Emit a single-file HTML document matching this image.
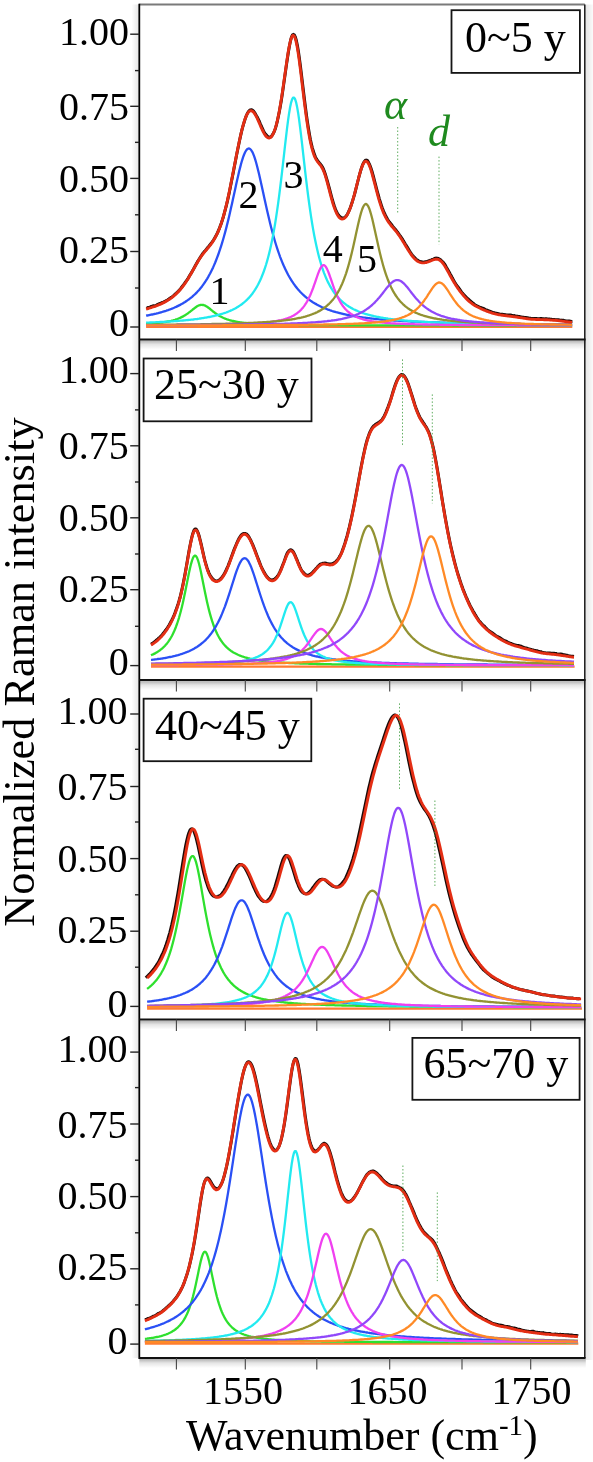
<!DOCTYPE html><html><head><meta charset="utf-8"><style>html,body{margin:0;padding:0;background:#fff;}svg{display:block}text{font-family:"Liberation Serif", "Times New Roman", serif;fill:#000}</style></head><body>
<svg width="593" height="1462" viewBox="0 0 593 1462">
<g>
<line x1="146.1" y1="326.7" x2="572.3" y2="326.7" stroke="#ff7b32" stroke-width="2.4"/>
<polyline points="146.1,323.9 147.1,323.8 148.1,323.7 149.1,323.7 150.1,323.6 151.1,323.5 152.1,323.5 153.1,323.4 154.1,323.3 155.1,323.2 156.1,323.1 157.1,323.0 158.1,322.9 159.1,322.8 160.1,322.7 161.1,322.6 162.1,322.5 163.1,322.3 164.1,322.2 165.1,322.0 166.1,321.9 167.1,321.7 168.1,321.5 169.1,321.3 170.1,321.1 171.1,320.9 172.1,320.6 173.1,320.4 174.1,320.1 175.1,319.8 176.1,319.4 177.1,319.1 178.1,318.7 179.1,318.3 180.1,317.9 181.1,317.4 182.1,316.9 183.1,316.4 184.1,315.8 185.1,315.2 186.1,314.6 187.1,313.9 188.1,313.2 189.1,312.4 190.1,311.7 191.1,310.9 192.1,310.1 193.1,309.2 194.1,308.5 195.1,307.7 196.1,307.0 197.1,306.3 198.1,305.8 199.1,305.3 200.1,305.0 201.1,304.8 202.1,304.8 203.1,305.0 204.1,305.2 205.1,305.6 206.1,306.2 207.1,306.8 208.1,307.5 209.1,308.2 210.1,309.0 211.1,309.8 212.1,310.7 213.1,311.5 214.1,312.2 215.1,313.0 216.1,313.7 217.1,314.4 218.1,315.1 219.1,315.7 220.1,316.3 221.1,316.8 222.1,317.3 223.1,317.8 224.1,318.2 225.1,318.6 226.1,319.0 227.1,319.4 228.1,319.7 229.1,320.0 230.1,320.3 231.1,320.5 232.1,320.8 233.1,321.0 234.1,321.2 235.1,321.4 236.1,321.6 237.1,321.8 238.1,322.0 239.1,322.1 240.1,322.3 241.1,322.4 242.1,322.6 243.1,322.7 244.1,322.8 245.1,322.9 246.1,323.0 247.1,323.1 248.1,323.2 249.1,323.3 250.1,323.4 251.1,323.4 252.1,323.5 253.1,323.6 254.1,323.7 255.1,323.7 256.1,323.8 257.1,323.8 258.1,323.9 259.1,323.9 260.1,324.0 261.1,324.0 262.1,324.1 263.1,324.1 264.1,324.2 265.1,324.2 266.1,324.3 267.1,324.3 268.1,324.3 269.1,324.4 270.1,324.4 271.1,324.4 272.1,324.5 273.1,324.5 274.1,324.5 275.1,324.5 276.1,324.6 277.1,324.6 278.1,324.6 279.1,324.6 280.1,324.7 281.1,324.7 282.1,324.7 283.1,324.7 284.1,324.7 285.1,324.8 286.1,324.8 287.1,324.8 288.1,324.8 289.1,324.8 290.1,324.8 291.1,324.9 292.1,324.9 293.1,324.9 294.1,324.9 295.1,324.9 296.1,324.9 297.1,324.9 298.1,324.9 299.1,325.0 300.1,325.0 301.1,325.0 302.1,325.0 303.1,325.0 304.1,325.0 305.1,325.0 306.1,325.0 307.1,325.0 308.1,325.1 309.1,325.1 310.1,325.1 311.1,325.1 312.1,325.1 313.1,325.1 314.1,325.1 315.1,325.1 316.1,325.1 317.1,325.1 318.1,325.1 319.1,325.1 320.1,325.1 321.1,325.1 322.1,325.2 323.1,325.2 324.1,325.2 325.1,325.2 326.1,325.2 327.1,325.2 328.1,325.2 329.1,325.2 330.1,325.2 331.1,325.2 332.1,325.2 333.1,325.2 334.1,325.2 335.1,325.2 336.1,325.2 337.1,325.2 338.1,325.2 339.1,325.2 340.1,325.2 341.1,325.3 342.1,325.3 343.1,325.3 344.1,325.3 345.1,325.3 346.1,325.3 347.1,325.3 348.1,325.3 349.1,325.3 350.1,325.3 351.1,325.3 352.1,325.3 353.1,325.3 354.1,325.3 355.1,325.3 356.1,325.3 357.1,325.3 358.1,325.3 359.1,325.3 360.1,325.3 361.1,325.3 362.1,325.3 363.1,325.3 364.1,325.3 365.1,325.3 366.1,325.3 367.1,325.3 368.1,325.3 369.1,325.3 370.1,325.3 371.1,325.3 372.1,325.3 373.1,325.3 374.1,325.4 375.1,325.4 376.1,325.4 377.1,325.4 378.1,325.4 379.1,325.4 380.1,325.4 381.1,325.4 382.1,325.4 383.1,325.4 384.1,325.4 385.1,325.4 386.1,325.4 387.1,325.4 388.1,325.4 389.1,325.4 390.1,325.4 391.1,325.4 392.1,325.4 393.1,325.4 394.1,325.4 395.1,325.4 396.1,325.4 397.1,325.4 398.1,325.4 399.1,325.4 400.1,325.4 401.1,325.4 402.1,325.4 403.1,325.4 404.1,325.4 405.1,325.4 406.1,325.4 407.1,325.4 408.1,325.4 409.1,325.4 410.1,325.4 411.1,325.4 412.1,325.4 413.1,325.4 414.1,325.4 415.1,325.4 416.1,325.4 417.1,325.4 418.1,325.4 419.1,325.4 420.1,325.4 421.1,325.4 422.1,325.4 423.1,325.4 424.1,325.4 425.1,325.4 426.1,325.4 427.1,325.4 428.1,325.4 429.1,325.4 430.1,325.4 431.1,325.4 432.1,325.4 433.1,325.4 434.1,325.4 435.1,325.4 436.1,325.4 437.1,325.4 438.1,325.4 439.1,325.4 440.1,325.4 441.1,325.4 442.1,325.4 443.1,325.4 444.1,325.4 445.1,325.4 446.1,325.4 447.1,325.4 448.1,325.4 449.1,325.4 450.1,325.4 451.1,325.4 452.1,325.4 453.1,325.5 454.1,325.5 455.1,325.5 456.1,325.5 457.1,325.5 458.1,325.5 459.1,325.5 460.1,325.5 461.1,325.5 462.1,325.5 463.1,325.5 464.1,325.5 465.1,325.5 466.1,325.5 467.1,325.5 468.1,325.5 469.1,325.5 470.1,325.5 471.1,325.5 472.1,325.5 473.1,325.5 474.1,325.5 475.1,325.5 476.1,325.5 477.1,325.5 478.1,325.5 479.1,325.5 480.1,325.5 481.1,325.5 482.1,325.5 483.1,325.5 484.1,325.5 485.1,325.5 486.1,325.5 487.1,325.5 488.1,325.5 489.1,325.5 490.1,325.5 491.1,325.5 492.1,325.5 493.1,325.5 494.1,325.5 495.1,325.5 496.1,325.5 497.1,325.5 498.1,325.5 499.1,325.5 500.1,325.5 501.1,325.5 502.1,325.5 503.1,325.5 504.1,325.5 505.1,325.5 506.1,325.5 507.1,325.5 508.1,325.5 509.1,325.5 510.1,325.5 511.1,325.5 512.1,325.5 513.1,325.5 514.1,325.5 515.1,325.5 516.1,325.5 517.1,325.5 518.1,325.5 519.1,325.5 520.1,325.5 521.1,325.5 522.1,325.5 523.1,325.5 524.1,325.5 525.1,325.5 526.1,325.5 527.1,325.5 528.1,325.5 529.1,325.5 530.1,325.5 531.1,325.5 532.1,325.5 533.1,325.5 534.1,325.5 535.1,325.5 536.1,325.5 537.1,325.5 538.1,325.5 539.1,325.5 540.1,325.5 541.1,325.5 542.1,325.5 543.1,325.5 544.1,325.5 545.1,325.5 546.1,325.5 547.1,325.5 548.1,325.5 549.1,325.5 550.1,325.5 551.1,325.5 552.1,325.5 553.1,325.5 554.1,325.5 555.1,325.5 556.1,325.5 557.1,325.5 558.1,325.5 559.1,325.5 560.1,325.5 561.1,325.5 562.1,325.5 563.1,325.5 564.1,325.5 565.1,325.5 566.1,325.5 567.1,325.5 568.1,325.5 569.1,325.5 570.1,325.5 571.1,325.5 572.1,325.5" fill="none" stroke="#2ee02e" stroke-width="2.3" stroke-linejoin="round"/>
<polyline points="146.1,315.7 147.1,315.5 148.1,315.3 149.1,315.1 150.1,314.9 151.1,314.7 152.1,314.5 153.1,314.3 154.1,314.0 155.1,313.8 156.1,313.6 157.1,313.3 158.1,313.1 159.1,312.8 160.1,312.5 161.1,312.3 162.1,312.0 163.1,311.7 164.1,311.4 165.1,311.1 166.1,310.8 167.1,310.4 168.1,310.1 169.1,309.7 170.1,309.4 171.1,309.0 172.1,308.6 173.1,308.2 174.1,307.8 175.1,307.3 176.1,306.9 177.1,306.4 178.1,305.9 179.1,305.4 180.1,304.9 181.1,304.3 182.1,303.8 183.1,303.2 184.1,302.6 185.1,302.0 186.1,301.3 187.1,300.6 188.1,299.9 189.1,299.2 190.1,298.4 191.1,297.6 192.1,296.8 193.1,295.9 194.1,295.0 195.1,294.1 196.1,293.1 197.1,292.1 198.1,291.0 199.1,289.9 200.1,288.7 201.1,287.5 202.1,286.2 203.1,284.8 204.1,283.4 205.1,282.0 206.1,280.4 207.1,278.8 208.1,277.1 209.1,275.3 210.1,273.5 211.1,271.5 212.1,269.5 213.1,267.4 214.1,265.1 215.1,262.8 216.1,260.3 217.1,257.7 218.1,255.0 219.1,252.2 220.1,249.2 221.1,246.1 222.1,242.9 223.1,239.5 224.1,236.0 225.1,232.4 226.1,228.6 227.1,224.6 228.1,220.6 229.1,216.4 230.1,212.1 231.1,207.6 232.1,203.2 233.1,198.6 234.1,194.0 235.1,189.4 236.1,184.8 237.1,180.3 238.1,175.9 239.1,171.6 240.1,167.6 241.1,163.8 242.1,160.3 243.1,157.2 244.1,154.5 245.1,152.3 246.1,150.5 247.1,149.3 248.1,148.6 249.1,148.5 250.1,149.0 251.1,150.0 252.1,151.6 253.1,153.6 254.1,156.2 255.1,159.2 256.1,162.5 257.1,166.2 258.1,170.2 259.1,174.3 260.1,178.7 261.1,183.2 262.1,187.7 263.1,192.3 264.1,196.9 265.1,201.5 266.1,206.0 267.1,210.5 268.1,214.8 269.1,219.1 270.1,223.2 271.1,227.2 272.1,231.0 273.1,234.7 274.1,238.3 275.1,241.7 276.1,245.0 277.1,248.1 278.1,251.1 279.1,254.0 280.1,256.8 281.1,259.4 282.1,261.9 283.1,264.3 284.1,266.6 285.1,268.7 286.1,270.8 287.1,272.8 288.1,274.7 289.1,276.5 290.1,278.2 291.1,279.8 292.1,281.4 293.1,282.9 294.1,284.3 295.1,285.7 296.1,287.0 297.1,288.3 298.1,289.4 299.1,290.6 300.1,291.7 301.1,292.7 302.1,293.7 303.1,294.7 304.1,295.6 305.1,296.5 306.1,297.3 307.1,298.1 308.1,298.9 309.1,299.7 310.1,300.4 311.1,301.1 312.1,301.7 313.1,302.4 314.1,303.0 315.1,303.6 316.1,304.1 317.1,304.7 318.1,305.2 319.1,305.7 320.1,306.2 321.1,306.7 322.1,307.2 323.1,307.6 324.1,308.0 325.1,308.4 326.1,308.8 327.1,309.2 328.1,309.6 329.1,309.9 330.1,310.3 331.1,310.6 332.1,311.0 333.1,311.3 334.1,311.6 335.1,311.9 336.1,312.2 337.1,312.4 338.1,312.7 339.1,313.0 340.1,313.2 341.1,313.5 342.1,313.7 343.1,314.0 344.1,314.2 345.1,314.4 346.1,314.6 347.1,314.8 348.1,315.0 349.1,315.2 350.1,315.4 351.1,315.6 352.1,315.8 353.1,316.0 354.1,316.1 355.1,316.3 356.1,316.5 357.1,316.6 358.1,316.8 359.1,316.9 360.1,317.1 361.1,317.2 362.1,317.3 363.1,317.5 364.1,317.6 365.1,317.7 366.1,317.9 367.1,318.0 368.1,318.1 369.1,318.2 370.1,318.4 371.1,318.5 372.1,318.6 373.1,318.7 374.1,318.8 375.1,318.9 376.1,319.0 377.1,319.1 378.1,319.2 379.1,319.3 380.1,319.4 381.1,319.5 382.1,319.5 383.1,319.6 384.1,319.7 385.1,319.8 386.1,319.9 387.1,320.0 388.1,320.0 389.1,320.1 390.1,320.2 391.1,320.3 392.1,320.3 393.1,320.4 394.1,320.5 395.1,320.5 396.1,320.6 397.1,320.7 398.1,320.7 399.1,320.8 400.1,320.9 401.1,320.9 402.1,321.0 403.1,321.0 404.1,321.1 405.1,321.1 406.1,321.2 407.1,321.2 408.1,321.3 409.1,321.4 410.1,321.4 411.1,321.5 412.1,321.5 413.1,321.5 414.1,321.6 415.1,321.6 416.1,321.7 417.1,321.7 418.1,321.8 419.1,321.8 420.1,321.9 421.1,321.9 422.1,321.9 423.1,322.0 424.1,322.0 425.1,322.1 426.1,322.1 427.1,322.1 428.1,322.2 429.1,322.2 430.1,322.2 431.1,322.3 432.1,322.3 433.1,322.4 434.1,322.4 435.1,322.4 436.1,322.5 437.1,322.5 438.1,322.5 439.1,322.5 440.1,322.6 441.1,322.6 442.1,322.6 443.1,322.7 444.1,322.7 445.1,322.7 446.1,322.8 447.1,322.8 448.1,322.8 449.1,322.8 450.1,322.9 451.1,322.9 452.1,322.9 453.1,322.9 454.1,323.0 455.1,323.0 456.1,323.0 457.1,323.0 458.1,323.1 459.1,323.1 460.1,323.1 461.1,323.1 462.1,323.1 463.1,323.2 464.1,323.2 465.1,323.2 466.1,323.2 467.1,323.3 468.1,323.3 469.1,323.3 470.1,323.3 471.1,323.3 472.1,323.4 473.1,323.4 474.1,323.4 475.1,323.4 476.1,323.4 477.1,323.4 478.1,323.5 479.1,323.5 480.1,323.5 481.1,323.5 482.1,323.5 483.1,323.6 484.1,323.6 485.1,323.6 486.1,323.6 487.1,323.6 488.1,323.6 489.1,323.7 490.1,323.7 491.1,323.7 492.1,323.7 493.1,323.7 494.1,323.7 495.1,323.7 496.1,323.8 497.1,323.8 498.1,323.8 499.1,323.8 500.1,323.8 501.1,323.8 502.1,323.8 503.1,323.9 504.1,323.9 505.1,323.9 506.1,323.9 507.1,323.9 508.1,323.9 509.1,323.9 510.1,323.9 511.1,324.0 512.1,324.0 513.1,324.0 514.1,324.0 515.1,324.0 516.1,324.0 517.1,324.0 518.1,324.0 519.1,324.0 520.1,324.1 521.1,324.1 522.1,324.1 523.1,324.1 524.1,324.1 525.1,324.1 526.1,324.1 527.1,324.1 528.1,324.1 529.1,324.1 530.1,324.2 531.1,324.2 532.1,324.2 533.1,324.2 534.1,324.2 535.1,324.2 536.1,324.2 537.1,324.2 538.1,324.2 539.1,324.2 540.1,324.2 541.1,324.3 542.1,324.3 543.1,324.3 544.1,324.3 545.1,324.3 546.1,324.3 547.1,324.3 548.1,324.3 549.1,324.3 550.1,324.3 551.1,324.3 552.1,324.3 553.1,324.4 554.1,324.4 555.1,324.4 556.1,324.4 557.1,324.4 558.1,324.4 559.1,324.4 560.1,324.4 561.1,324.4 562.1,324.4 563.1,324.4 564.1,324.4 565.1,324.4 566.1,324.5 567.1,324.5 568.1,324.5 569.1,324.5 570.1,324.5 571.1,324.5 572.1,324.5" fill="none" stroke="#2a50f5" stroke-width="2.3" stroke-linejoin="round"/>
<polyline points="146.1,322.7 147.1,322.6 148.1,322.6 149.1,322.6 150.1,322.5 151.1,322.5 152.1,322.4 153.1,322.4 154.1,322.3 155.1,322.3 156.1,322.2 157.1,322.2 158.1,322.1 159.1,322.1 160.1,322.0 161.1,322.0 162.1,321.9 163.1,321.9 164.1,321.8 165.1,321.8 166.1,321.7 167.1,321.7 168.1,321.6 169.1,321.5 170.1,321.5 171.1,321.4 172.1,321.3 173.1,321.3 174.1,321.2 175.1,321.1 176.1,321.1 177.1,321.0 178.1,320.9 179.1,320.8 180.1,320.7 181.1,320.7 182.1,320.6 183.1,320.5 184.1,320.4 185.1,320.3 186.1,320.2 187.1,320.1 188.1,320.0 189.1,319.9 190.1,319.8 191.1,319.7 192.1,319.6 193.1,319.5 194.1,319.3 195.1,319.2 196.1,319.1 197.1,319.0 198.1,318.8 199.1,318.7 200.1,318.5 201.1,318.4 202.1,318.2 203.1,318.1 204.1,317.9 205.1,317.7 206.1,317.6 207.1,317.4 208.1,317.2 209.1,317.0 210.1,316.8 211.1,316.6 212.1,316.4 213.1,316.2 214.1,316.0 215.1,315.7 216.1,315.5 217.1,315.2 218.1,315.0 219.1,314.7 220.1,314.4 221.1,314.1 222.1,313.8 223.1,313.5 224.1,313.2 225.1,312.8 226.1,312.5 227.1,312.1 228.1,311.7 229.1,311.3 230.1,310.9 231.1,310.4 232.1,310.0 233.1,309.5 234.1,309.0 235.1,308.5 236.1,307.9 237.1,307.3 238.1,306.7 239.1,306.1 240.1,305.4 241.1,304.7 242.1,304.0 243.1,303.2 244.1,302.4 245.1,301.5 246.1,300.6 247.1,299.7 248.1,298.6 249.1,297.6 250.1,296.4 251.1,295.2 252.1,294.0 253.1,292.6 254.1,291.2 255.1,289.7 256.1,288.0 257.1,286.3 258.1,284.5 259.1,282.5 260.1,280.4 261.1,278.2 262.1,275.8 263.1,273.3 264.1,270.5 265.1,267.6 266.1,264.5 267.1,261.1 268.1,257.5 269.1,253.6 270.1,249.5 271.1,245.0 272.1,240.2 273.1,235.1 274.1,229.6 275.1,223.7 276.1,217.4 277.1,210.7 278.1,203.6 279.1,196.1 280.1,188.2 281.1,180.0 282.1,171.5 283.1,162.7 284.1,153.8 285.1,144.9 286.1,136.3 287.1,127.9 288.1,120.2 289.1,113.2 290.1,107.3 291.1,102.6 292.1,99.4 293.1,97.7 294.1,97.6 295.1,99.2 296.1,102.3 297.1,106.9 298.1,112.7 299.1,119.6 300.1,127.3 301.1,135.6 302.1,144.2 303.1,153.1 304.1,162.0 305.1,170.8 306.1,179.3 307.1,187.6 308.1,195.5 309.1,203.0 310.1,210.2 311.1,216.9 312.1,223.2 313.1,229.1 314.1,234.7 315.1,239.8 316.1,244.6 317.1,249.1 318.1,253.3 319.1,257.2 320.1,260.8 321.1,264.2 322.1,267.4 323.1,270.3 324.1,273.1 325.1,275.6 326.1,278.0 327.1,280.3 328.1,282.4 329.1,284.3 330.1,286.2 331.1,287.9 332.1,289.5 333.1,291.1 334.1,292.5 335.1,293.9 336.1,295.1 337.1,296.3 338.1,297.5 339.1,298.6 340.1,299.6 341.1,300.5 342.1,301.5 343.1,302.3 344.1,303.1 345.1,303.9 346.1,304.7 347.1,305.4 348.1,306.0 349.1,306.7 350.1,307.3 351.1,307.9 352.1,308.4 353.1,309.0 354.1,309.5 355.1,309.9 356.1,310.4 357.1,310.8 358.1,311.3 359.1,311.7 360.1,312.1 361.1,312.4 362.1,312.8 363.1,313.1 364.1,313.5 365.1,313.8 366.1,314.1 367.1,314.4 368.1,314.7 369.1,315.0 370.1,315.2 371.1,315.5 372.1,315.7 373.1,315.9 374.1,316.2 375.1,316.4 376.1,316.6 377.1,316.8 378.1,317.0 379.1,317.2 380.1,317.4 381.1,317.6 382.1,317.7 383.1,317.9 384.1,318.1 385.1,318.2 386.1,318.4 387.1,318.5 388.1,318.7 389.1,318.8 390.1,318.9 391.1,319.1 392.1,319.2 393.1,319.3 394.1,319.4 395.1,319.6 396.1,319.7 397.1,319.8 398.1,319.9 399.1,320.0 400.1,320.1 401.1,320.2 402.1,320.3 403.1,320.4 404.1,320.5 405.1,320.6 406.1,320.6 407.1,320.7 408.1,320.8 409.1,320.9 410.1,321.0 411.1,321.0 412.1,321.1 413.1,321.2 414.1,321.3 415.1,321.3 416.1,321.4 417.1,321.5 418.1,321.5 419.1,321.6 420.1,321.7 421.1,321.7 422.1,321.8 423.1,321.8 424.1,321.9 425.1,321.9 426.1,322.0 427.1,322.0 428.1,322.1 429.1,322.1 430.1,322.2 431.1,322.2 432.1,322.3 433.1,322.3 434.1,322.4 435.1,322.4 436.1,322.5 437.1,322.5 438.1,322.5 439.1,322.6 440.1,322.6 441.1,322.7 442.1,322.7 443.1,322.7 444.1,322.8 445.1,322.8 446.1,322.9 447.1,322.9 448.1,322.9 449.1,323.0 450.1,323.0 451.1,323.0 452.1,323.0 453.1,323.1 454.1,323.1 455.1,323.1 456.1,323.2 457.1,323.2 458.1,323.2 459.1,323.3 460.1,323.3 461.1,323.3 462.1,323.3 463.1,323.4 464.1,323.4 465.1,323.4 466.1,323.4 467.1,323.5 468.1,323.5 469.1,323.5 470.1,323.5 471.1,323.5 472.1,323.6 473.1,323.6 474.1,323.6 475.1,323.6 476.1,323.7 477.1,323.7 478.1,323.7 479.1,323.7 480.1,323.7 481.1,323.8 482.1,323.8 483.1,323.8 484.1,323.8 485.1,323.8 486.1,323.8 487.1,323.9 488.1,323.9 489.1,323.9 490.1,323.9 491.1,323.9 492.1,323.9 493.1,324.0 494.1,324.0 495.1,324.0 496.1,324.0 497.1,324.0 498.1,324.0 499.1,324.1 500.1,324.1 501.1,324.1 502.1,324.1 503.1,324.1 504.1,324.1 505.1,324.1 506.1,324.1 507.1,324.2 508.1,324.2 509.1,324.2 510.1,324.2 511.1,324.2 512.1,324.2 513.1,324.2 514.1,324.2 515.1,324.3 516.1,324.3 517.1,324.3 518.1,324.3 519.1,324.3 520.1,324.3 521.1,324.3 522.1,324.3 523.1,324.3 524.1,324.4 525.1,324.4 526.1,324.4 527.1,324.4 528.1,324.4 529.1,324.4 530.1,324.4 531.1,324.4 532.1,324.4 533.1,324.4 534.1,324.5 535.1,324.5 536.1,324.5 537.1,324.5 538.1,324.5 539.1,324.5 540.1,324.5 541.1,324.5 542.1,324.5 543.1,324.5 544.1,324.5 545.1,324.5 546.1,324.6 547.1,324.6 548.1,324.6 549.1,324.6 550.1,324.6 551.1,324.6 552.1,324.6 553.1,324.6 554.1,324.6 555.1,324.6 556.1,324.6 557.1,324.6 558.1,324.6 559.1,324.6 560.1,324.7 561.1,324.7 562.1,324.7 563.1,324.7 564.1,324.7 565.1,324.7 566.1,324.7 567.1,324.7 568.1,324.7 569.1,324.7 570.1,324.7 571.1,324.7 572.1,324.7" fill="none" stroke="#22eaf0" stroke-width="2.3" stroke-linejoin="round"/>
<polyline points="146.1,325.2 147.1,325.2 148.1,325.2 149.1,325.2 150.1,325.2 151.1,325.2 152.1,325.2 153.1,325.2 154.1,325.2 155.1,325.2 156.1,325.2 157.1,325.2 158.1,325.1 159.1,325.1 160.1,325.1 161.1,325.1 162.1,325.1 163.1,325.1 164.1,325.1 165.1,325.1 166.1,325.1 167.1,325.1 168.1,325.1 169.1,325.1 170.1,325.1 171.1,325.1 172.1,325.1 173.1,325.1 174.1,325.1 175.1,325.1 176.1,325.0 177.1,325.0 178.1,325.0 179.1,325.0 180.1,325.0 181.1,325.0 182.1,325.0 183.1,325.0 184.1,325.0 185.1,325.0 186.1,325.0 187.1,325.0 188.1,325.0 189.1,324.9 190.1,324.9 191.1,324.9 192.1,324.9 193.1,324.9 194.1,324.9 195.1,324.9 196.1,324.9 197.1,324.9 198.1,324.9 199.1,324.8 200.1,324.8 201.1,324.8 202.1,324.8 203.1,324.8 204.1,324.8 205.1,324.8 206.1,324.8 207.1,324.8 208.1,324.7 209.1,324.7 210.1,324.7 211.1,324.7 212.1,324.7 213.1,324.7 214.1,324.6 215.1,324.6 216.1,324.6 217.1,324.6 218.1,324.6 219.1,324.6 220.1,324.5 221.1,324.5 222.1,324.5 223.1,324.5 224.1,324.5 225.1,324.4 226.1,324.4 227.1,324.4 228.1,324.4 229.1,324.3 230.1,324.3 231.1,324.3 232.1,324.3 233.1,324.2 234.1,324.2 235.1,324.2 236.1,324.2 237.1,324.1 238.1,324.1 239.1,324.1 240.1,324.0 241.1,324.0 242.1,324.0 243.1,323.9 244.1,323.9 245.1,323.8 246.1,323.8 247.1,323.7 248.1,323.7 249.1,323.6 250.1,323.6 251.1,323.5 252.1,323.5 253.1,323.4 254.1,323.4 255.1,323.3 256.1,323.2 257.1,323.2 258.1,323.1 259.1,323.0 260.1,323.0 261.1,322.9 262.1,322.8 263.1,322.7 264.1,322.6 265.1,322.5 266.1,322.4 267.1,322.3 268.1,322.2 269.1,322.1 270.1,322.0 271.1,321.8 272.1,321.7 273.1,321.6 274.1,321.4 275.1,321.3 276.1,321.1 277.1,320.9 278.1,320.7 279.1,320.5 280.1,320.3 281.1,320.1 282.1,319.8 283.1,319.6 284.1,319.3 285.1,319.0 286.1,318.7 287.1,318.4 288.1,318.0 289.1,317.6 290.1,317.2 291.1,316.8 292.1,316.3 293.1,315.8 294.1,315.2 295.1,314.6 296.1,313.9 297.1,313.2 298.1,312.4 299.1,311.6 300.1,310.7 301.1,309.7 302.1,308.6 303.1,307.4 304.1,306.1 305.1,304.7 306.1,303.2 307.1,301.5 308.1,299.6 309.1,297.6 310.1,295.5 311.1,293.1 312.1,290.6 313.1,288.0 314.1,285.2 315.1,282.3 316.1,279.4 317.1,276.5 318.1,273.7 319.1,271.1 320.1,268.9 321.1,267.1 322.1,265.8 323.1,265.2 324.1,265.2 325.1,265.9 326.1,267.2 327.1,269.1 328.1,271.4 329.1,274.0 330.1,276.8 331.1,279.7 332.1,282.6 333.1,285.5 334.1,288.3 335.1,290.9 336.1,293.4 337.1,295.7 338.1,297.8 339.1,299.8 340.1,301.6 341.1,303.3 342.1,304.8 343.1,306.3 344.1,307.5 345.1,308.7 346.1,309.8 347.1,310.8 348.1,311.7 349.1,312.5 350.1,313.3 351.1,314.0 352.1,314.6 353.1,315.2 354.1,315.8 355.1,316.3 356.1,316.8 357.1,317.2 358.1,317.7 359.1,318.0 360.1,318.4 361.1,318.7 362.1,319.0 363.1,319.3 364.1,319.6 365.1,319.9 366.1,320.1 367.1,320.3 368.1,320.5 369.1,320.7 370.1,320.9 371.1,321.1 372.1,321.3 373.1,321.4 374.1,321.6 375.1,321.7 376.1,321.9 377.1,322.0 378.1,322.1 379.1,322.2 380.1,322.3 381.1,322.4 382.1,322.5 383.1,322.6 384.1,322.7 385.1,322.8 386.1,322.9 387.1,323.0 388.1,323.0 389.1,323.1 390.1,323.2 391.1,323.3 392.1,323.3 393.1,323.4 394.1,323.4 395.1,323.5 396.1,323.6 397.1,323.6 398.1,323.7 399.1,323.7 400.1,323.7 401.1,323.8 402.1,323.8 403.1,323.9 404.1,323.9 405.1,324.0 406.1,324.0 407.1,324.0 408.1,324.1 409.1,324.1 410.1,324.1 411.1,324.2 412.1,324.2 413.1,324.2 414.1,324.2 415.1,324.3 416.1,324.3 417.1,324.3 418.1,324.4 419.1,324.4 420.1,324.4 421.1,324.4 422.1,324.4 423.1,324.5 424.1,324.5 425.1,324.5 426.1,324.5 427.1,324.5 428.1,324.6 429.1,324.6 430.1,324.6 431.1,324.6 432.1,324.6 433.1,324.7 434.1,324.7 435.1,324.7 436.1,324.7 437.1,324.7 438.1,324.7 439.1,324.7 440.1,324.8 441.1,324.8 442.1,324.8 443.1,324.8 444.1,324.8 445.1,324.8 446.1,324.8 447.1,324.8 448.1,324.8 449.1,324.9 450.1,324.9 451.1,324.9 452.1,324.9 453.1,324.9 454.1,324.9 455.1,324.9 456.1,324.9 457.1,324.9 458.1,324.9 459.1,325.0 460.1,325.0 461.1,325.0 462.1,325.0 463.1,325.0 464.1,325.0 465.1,325.0 466.1,325.0 467.1,325.0 468.1,325.0 469.1,325.0 470.1,325.0 471.1,325.0 472.1,325.1 473.1,325.1 474.1,325.1 475.1,325.1 476.1,325.1 477.1,325.1 478.1,325.1 479.1,325.1 480.1,325.1 481.1,325.1 482.1,325.1 483.1,325.1 484.1,325.1 485.1,325.1 486.1,325.1 487.1,325.1 488.1,325.1 489.1,325.1 490.1,325.2 491.1,325.2 492.1,325.2 493.1,325.2 494.1,325.2 495.1,325.2 496.1,325.2 497.1,325.2 498.1,325.2 499.1,325.2 500.1,325.2 501.1,325.2 502.1,325.2 503.1,325.2 504.1,325.2 505.1,325.2 506.1,325.2 507.1,325.2 508.1,325.2 509.1,325.2 510.1,325.2 511.1,325.2 512.1,325.2 513.1,325.2 514.1,325.2 515.1,325.2 516.1,325.2 517.1,325.3 518.1,325.3 519.1,325.3 520.1,325.3 521.1,325.3 522.1,325.3 523.1,325.3 524.1,325.3 525.1,325.3 526.1,325.3 527.1,325.3 528.1,325.3 529.1,325.3 530.1,325.3 531.1,325.3 532.1,325.3 533.1,325.3 534.1,325.3 535.1,325.3 536.1,325.3 537.1,325.3 538.1,325.3 539.1,325.3 540.1,325.3 541.1,325.3 542.1,325.3 543.1,325.3 544.1,325.3 545.1,325.3 546.1,325.3 547.1,325.3 548.1,325.3 549.1,325.3 550.1,325.3 551.1,325.3 552.1,325.3 553.1,325.3 554.1,325.3 555.1,325.3 556.1,325.3 557.1,325.3 558.1,325.3 559.1,325.3 560.1,325.3 561.1,325.3 562.1,325.4 563.1,325.4 564.1,325.4 565.1,325.4 566.1,325.4 567.1,325.4 568.1,325.4 569.1,325.4 570.1,325.4 571.1,325.4 572.1,325.4" fill="none" stroke="#f040f0" stroke-width="2.3" stroke-linejoin="round"/>
<polyline points="146.1,324.8 147.1,324.8 148.1,324.8 149.1,324.8 150.1,324.8 151.1,324.8 152.1,324.8 153.1,324.8 154.1,324.7 155.1,324.7 156.1,324.7 157.1,324.7 158.1,324.7 159.1,324.7 160.1,324.7 161.1,324.7 162.1,324.7 163.1,324.7 164.1,324.7 165.1,324.7 166.1,324.7 167.1,324.6 168.1,324.6 169.1,324.6 170.1,324.6 171.1,324.6 172.1,324.6 173.1,324.6 174.1,324.6 175.1,324.6 176.1,324.6 177.1,324.5 178.1,324.5 179.1,324.5 180.1,324.5 181.1,324.5 182.1,324.5 183.1,324.5 184.1,324.5 185.1,324.5 186.1,324.4 187.1,324.4 188.1,324.4 189.1,324.4 190.1,324.4 191.1,324.4 192.1,324.4 193.1,324.4 194.1,324.3 195.1,324.3 196.1,324.3 197.1,324.3 198.1,324.3 199.1,324.3 200.1,324.3 201.1,324.2 202.1,324.2 203.1,324.2 204.1,324.2 205.1,324.2 206.1,324.2 207.1,324.1 208.1,324.1 209.1,324.1 210.1,324.1 211.1,324.1 212.1,324.0 213.1,324.0 214.1,324.0 215.1,324.0 216.1,324.0 217.1,323.9 218.1,323.9 219.1,323.9 220.1,323.9 221.1,323.9 222.1,323.8 223.1,323.8 224.1,323.8 225.1,323.8 226.1,323.7 227.1,323.7 228.1,323.7 229.1,323.7 230.1,323.6 231.1,323.6 232.1,323.6 233.1,323.5 234.1,323.5 235.1,323.5 236.1,323.5 237.1,323.4 238.1,323.4 239.1,323.4 240.1,323.3 241.1,323.3 242.1,323.2 243.1,323.2 244.1,323.2 245.1,323.1 246.1,323.1 247.1,323.1 248.1,323.0 249.1,323.0 250.1,322.9 251.1,322.9 252.1,322.8 253.1,322.8 254.1,322.7 255.1,322.7 256.1,322.6 257.1,322.6 258.1,322.5 259.1,322.5 260.1,322.4 261.1,322.4 262.1,322.3 263.1,322.2 264.1,322.2 265.1,322.1 266.1,322.1 267.1,322.0 268.1,321.9 269.1,321.8 270.1,321.8 271.1,321.7 272.1,321.6 273.1,321.5 274.1,321.4 275.1,321.3 276.1,321.3 277.1,321.2 278.1,321.1 279.1,321.0 280.1,320.9 281.1,320.8 282.1,320.6 283.1,320.5 284.1,320.4 285.1,320.3 286.1,320.2 287.1,320.0 288.1,319.9 289.1,319.8 290.1,319.6 291.1,319.5 292.1,319.3 293.1,319.1 294.1,319.0 295.1,318.8 296.1,318.6 297.1,318.4 298.1,318.2 299.1,318.0 300.1,317.8 301.1,317.6 302.1,317.3 303.1,317.1 304.1,316.8 305.1,316.6 306.1,316.3 307.1,316.0 308.1,315.7 309.1,315.4 310.1,315.0 311.1,314.7 312.1,314.3 313.1,313.9 314.1,313.5 315.1,313.1 316.1,312.6 317.1,312.2 318.1,311.6 319.1,311.1 320.1,310.6 321.1,310.0 322.1,309.3 323.1,308.7 324.1,308.0 325.1,307.2 326.1,306.5 327.1,305.6 328.1,304.7 329.1,303.8 330.1,302.8 331.1,301.7 332.1,300.6 333.1,299.4 334.1,298.1 335.1,296.7 336.1,295.2 337.1,293.6 338.1,291.9 339.1,290.1 340.1,288.2 341.1,286.1 342.1,283.9 343.1,281.5 344.1,278.9 345.1,276.2 346.1,273.3 347.1,270.1 348.1,266.8 349.1,263.3 350.1,259.6 351.1,255.6 352.1,251.5 353.1,247.2 354.1,242.8 355.1,238.2 356.1,233.6 357.1,229.1 358.1,224.6 359.1,220.3 360.1,216.3 361.1,212.6 362.1,209.5 363.1,207.0 364.1,205.2 365.1,204.2 366.1,204.0 367.1,204.7 368.1,206.1 369.1,208.2 370.1,211.1 371.1,214.5 372.1,218.3 373.1,222.5 374.1,226.9 375.1,231.4 376.1,236.0 377.1,240.6 378.1,245.1 379.1,249.5 380.1,253.7 381.1,257.7 382.1,261.5 383.1,265.2 384.1,268.6 385.1,271.8 386.1,274.8 387.1,277.6 388.1,280.3 389.1,282.7 390.1,285.0 391.1,287.2 392.1,289.2 393.1,291.1 394.1,292.8 395.1,294.5 396.1,296.0 397.1,297.4 398.1,298.8 399.1,300.0 400.1,301.2 401.1,302.3 402.1,303.3 403.1,304.3 404.1,305.2 405.1,306.1 406.1,306.9 407.1,307.6 408.1,308.4 409.1,309.0 410.1,309.7 411.1,310.3 412.1,310.9 413.1,311.4 414.1,311.9 415.1,312.4 416.1,312.9 417.1,313.3 418.1,313.7 419.1,314.1 420.1,314.5 421.1,314.9 422.1,315.2 423.1,315.5 424.1,315.8 425.1,316.1 426.1,316.4 427.1,316.7 428.1,317.0 429.1,317.2 430.1,317.5 431.1,317.7 432.1,317.9 433.1,318.1 434.1,318.3 435.1,318.5 436.1,318.7 437.1,318.9 438.1,319.1 439.1,319.2 440.1,319.4 441.1,319.5 442.1,319.7 443.1,319.8 444.1,320.0 445.1,320.1 446.1,320.2 447.1,320.4 448.1,320.5 449.1,320.6 450.1,320.7 451.1,320.8 452.1,320.9 453.1,321.0 454.1,321.1 455.1,321.2 456.1,321.3 457.1,321.4 458.1,321.5 459.1,321.6 460.1,321.6 461.1,321.7 462.1,321.8 463.1,321.9 464.1,321.9 465.1,322.0 466.1,322.1 467.1,322.2 468.1,322.2 469.1,322.3 470.1,322.3 471.1,322.4 472.1,322.5 473.1,322.5 474.1,322.6 475.1,322.6 476.1,322.7 477.1,322.7 478.1,322.8 479.1,322.8 480.1,322.9 481.1,322.9 482.1,323.0 483.1,323.0 484.1,323.0 485.1,323.1 486.1,323.1 487.1,323.2 488.1,323.2 489.1,323.2 490.1,323.3 491.1,323.3 492.1,323.3 493.1,323.4 494.1,323.4 495.1,323.4 496.1,323.5 497.1,323.5 498.1,323.5 499.1,323.6 500.1,323.6 501.1,323.6 502.1,323.6 503.1,323.7 504.1,323.7 505.1,323.7 506.1,323.7 507.1,323.8 508.1,323.8 509.1,323.8 510.1,323.8 511.1,323.9 512.1,323.9 513.1,323.9 514.1,323.9 515.1,324.0 516.1,324.0 517.1,324.0 518.1,324.0 519.1,324.0 520.1,324.1 521.1,324.1 522.1,324.1 523.1,324.1 524.1,324.1 525.1,324.1 526.1,324.2 527.1,324.2 528.1,324.2 529.1,324.2 530.1,324.2 531.1,324.2 532.1,324.3 533.1,324.3 534.1,324.3 535.1,324.3 536.1,324.3 537.1,324.3 538.1,324.3 539.1,324.4 540.1,324.4 541.1,324.4 542.1,324.4 543.1,324.4 544.1,324.4 545.1,324.4 546.1,324.4 547.1,324.5 548.1,324.5 549.1,324.5 550.1,324.5 551.1,324.5 552.1,324.5 553.1,324.5 554.1,324.5 555.1,324.6 556.1,324.6 557.1,324.6 558.1,324.6 559.1,324.6 560.1,324.6 561.1,324.6 562.1,324.6 563.1,324.6 564.1,324.6 565.1,324.6 566.1,324.7 567.1,324.7 568.1,324.7 569.1,324.7 570.1,324.7 571.1,324.7 572.1,324.7" fill="none" stroke="#929232" stroke-width="2.3" stroke-linejoin="round"/>
<polyline points="146.1,325.2 147.1,325.2 148.1,325.2 149.1,325.2 150.1,325.2 151.1,325.1 152.1,325.1 153.1,325.1 154.1,325.1 155.1,325.1 156.1,325.1 157.1,325.1 158.1,325.1 159.1,325.1 160.1,325.1 161.1,325.1 162.1,325.1 163.1,325.1 164.1,325.1 165.1,325.1 166.1,325.1 167.1,325.1 168.1,325.1 169.1,325.1 170.1,325.1 171.1,325.1 172.1,325.1 173.1,325.1 174.1,325.1 175.1,325.1 176.1,325.1 177.1,325.1 178.1,325.0 179.1,325.0 180.1,325.0 181.1,325.0 182.1,325.0 183.1,325.0 184.1,325.0 185.1,325.0 186.1,325.0 187.1,325.0 188.1,325.0 189.1,325.0 190.1,325.0 191.1,325.0 192.1,325.0 193.1,325.0 194.1,325.0 195.1,325.0 196.1,325.0 197.1,325.0 198.1,324.9 199.1,324.9 200.1,324.9 201.1,324.9 202.1,324.9 203.1,324.9 204.1,324.9 205.1,324.9 206.1,324.9 207.1,324.9 208.1,324.9 209.1,324.9 210.1,324.9 211.1,324.9 212.1,324.9 213.1,324.8 214.1,324.8 215.1,324.8 216.1,324.8 217.1,324.8 218.1,324.8 219.1,324.8 220.1,324.8 221.1,324.8 222.1,324.8 223.1,324.8 224.1,324.8 225.1,324.7 226.1,324.7 227.1,324.7 228.1,324.7 229.1,324.7 230.1,324.7 231.1,324.7 232.1,324.7 233.1,324.7 234.1,324.7 235.1,324.7 236.1,324.6 237.1,324.6 238.1,324.6 239.1,324.6 240.1,324.6 241.1,324.6 242.1,324.6 243.1,324.6 244.1,324.5 245.1,324.5 246.1,324.5 247.1,324.5 248.1,324.5 249.1,324.5 250.1,324.5 251.1,324.4 252.1,324.4 253.1,324.4 254.1,324.4 255.1,324.4 256.1,324.4 257.1,324.4 258.1,324.3 259.1,324.3 260.1,324.3 261.1,324.3 262.1,324.3 263.1,324.3 264.1,324.2 265.1,324.2 266.1,324.2 267.1,324.2 268.1,324.2 269.1,324.1 270.1,324.1 271.1,324.1 272.1,324.1 273.1,324.0 274.1,324.0 275.1,324.0 276.1,324.0 277.1,323.9 278.1,323.9 279.1,323.9 280.1,323.9 281.1,323.8 282.1,323.8 283.1,323.8 284.1,323.8 285.1,323.7 286.1,323.7 287.1,323.7 288.1,323.6 289.1,323.6 290.1,323.6 291.1,323.5 292.1,323.5 293.1,323.4 294.1,323.4 295.1,323.4 296.1,323.3 297.1,323.3 298.1,323.2 299.1,323.2 300.1,323.1 301.1,323.1 302.1,323.1 303.1,323.0 304.1,322.9 305.1,322.9 306.1,322.8 307.1,322.8 308.1,322.7 309.1,322.7 310.1,322.6 311.1,322.5 312.1,322.5 313.1,322.4 314.1,322.3 315.1,322.3 316.1,322.2 317.1,322.1 318.1,322.0 319.1,321.9 320.1,321.9 321.1,321.8 322.1,321.7 323.1,321.6 324.1,321.5 325.1,321.4 326.1,321.3 327.1,321.2 328.1,321.0 329.1,320.9 330.1,320.8 331.1,320.7 332.1,320.5 333.1,320.4 334.1,320.3 335.1,320.1 336.1,320.0 337.1,319.8 338.1,319.6 339.1,319.4 340.1,319.3 341.1,319.1 342.1,318.9 343.1,318.6 344.1,318.4 345.1,318.2 346.1,318.0 347.1,317.7 348.1,317.4 349.1,317.2 350.1,316.9 351.1,316.6 352.1,316.2 353.1,315.9 354.1,315.6 355.1,315.2 356.1,314.8 357.1,314.4 358.1,314.0 359.1,313.5 360.1,313.0 361.1,312.5 362.1,312.0 363.1,311.5 364.1,310.9 365.1,310.3 366.1,309.6 367.1,308.9 368.1,308.2 369.1,307.5 370.1,306.7 371.1,305.8 372.1,305.0 373.1,304.0 374.1,303.1 375.1,302.1 376.1,301.0 377.1,300.0 378.1,298.8 379.1,297.7 380.1,296.5 381.1,295.2 382.1,294.0 383.1,292.7 384.1,291.4 385.1,290.1 386.1,288.8 387.1,287.6 388.1,286.4 389.1,285.2 390.1,284.1 391.1,283.2 392.1,282.3 393.1,281.5 394.1,280.9 395.1,280.5 396.1,280.2 397.1,280.1 398.1,280.1 399.1,280.3 400.1,280.7 401.1,281.3 402.1,282.0 403.1,282.8 404.1,283.7 405.1,284.8 406.1,285.9 407.1,287.1 408.1,288.3 409.1,289.6 410.1,290.9 411.1,292.2 412.1,293.5 413.1,294.7 414.1,296.0 415.1,297.2 416.1,298.4 417.1,299.5 418.1,300.6 419.1,301.7 420.1,302.7 421.1,303.7 422.1,304.6 423.1,305.5 424.1,306.3 425.1,307.1 426.1,307.9 427.1,308.6 428.1,309.3 429.1,310.0 430.1,310.6 431.1,311.2 432.1,311.8 433.1,312.3 434.1,312.8 435.1,313.3 436.1,313.8 437.1,314.2 438.1,314.6 439.1,315.0 440.1,315.4 441.1,315.8 442.1,316.1 443.1,316.4 444.1,316.7 445.1,317.0 446.1,317.3 447.1,317.6 448.1,317.9 449.1,318.1 450.1,318.3 451.1,318.6 452.1,318.8 453.1,319.0 454.1,319.2 455.1,319.4 456.1,319.5 457.1,319.7 458.1,319.9 459.1,320.0 460.1,320.2 461.1,320.3 462.1,320.5 463.1,320.6 464.1,320.8 465.1,320.9 466.1,321.0 467.1,321.1 468.1,321.2 469.1,321.3 470.1,321.4 471.1,321.5 472.1,321.6 473.1,321.7 474.1,321.8 475.1,321.9 476.1,322.0 477.1,322.1 478.1,322.2 479.1,322.2 480.1,322.3 481.1,322.4 482.1,322.4 483.1,322.5 484.1,322.6 485.1,322.6 486.1,322.7 487.1,322.8 488.1,322.8 489.1,322.9 490.1,322.9 491.1,323.0 492.1,323.0 493.1,323.1 494.1,323.1 495.1,323.2 496.1,323.2 497.1,323.3 498.1,323.3 499.1,323.3 500.1,323.4 501.1,323.4 502.1,323.5 503.1,323.5 504.1,323.5 505.1,323.6 506.1,323.6 507.1,323.6 508.1,323.7 509.1,323.7 510.1,323.7 511.1,323.8 512.1,323.8 513.1,323.8 514.1,323.9 515.1,323.9 516.1,323.9 517.1,323.9 518.1,324.0 519.1,324.0 520.1,324.0 521.1,324.0 522.1,324.1 523.1,324.1 524.1,324.1 525.1,324.1 526.1,324.1 527.1,324.2 528.1,324.2 529.1,324.2 530.1,324.2 531.1,324.2 532.1,324.3 533.1,324.3 534.1,324.3 535.1,324.3 536.1,324.3 537.1,324.4 538.1,324.4 539.1,324.4 540.1,324.4 541.1,324.4 542.1,324.4 543.1,324.4 544.1,324.5 545.1,324.5 546.1,324.5 547.1,324.5 548.1,324.5 549.1,324.5 550.1,324.5 551.1,324.6 552.1,324.6 553.1,324.6 554.1,324.6 555.1,324.6 556.1,324.6 557.1,324.6 558.1,324.6 559.1,324.6 560.1,324.7 561.1,324.7 562.1,324.7 563.1,324.7 564.1,324.7 565.1,324.7 566.1,324.7 567.1,324.7 568.1,324.7 569.1,324.7 570.1,324.8 571.1,324.8 572.1,324.8" fill="none" stroke="#9048fa" stroke-width="2.3" stroke-linejoin="round"/>
<polyline points="146.1,325.4 147.1,325.4 148.1,325.4 149.1,325.4 150.1,325.4 151.1,325.4 152.1,325.4 153.1,325.4 154.1,325.4 155.1,325.4 156.1,325.4 157.1,325.4 158.1,325.4 159.1,325.4 160.1,325.4 161.1,325.4 162.1,325.4 163.1,325.4 164.1,325.4 165.1,325.4 166.1,325.4 167.1,325.4 168.1,325.4 169.1,325.4 170.1,325.4 171.1,325.4 172.1,325.3 173.1,325.3 174.1,325.3 175.1,325.3 176.1,325.3 177.1,325.3 178.1,325.3 179.1,325.3 180.1,325.3 181.1,325.3 182.1,325.3 183.1,325.3 184.1,325.3 185.1,325.3 186.1,325.3 187.1,325.3 188.1,325.3 189.1,325.3 190.1,325.3 191.1,325.3 192.1,325.3 193.1,325.3 194.1,325.3 195.1,325.3 196.1,325.3 197.1,325.3 198.1,325.3 199.1,325.3 200.1,325.3 201.1,325.3 202.1,325.3 203.1,325.3 204.1,325.3 205.1,325.3 206.1,325.3 207.1,325.3 208.1,325.3 209.1,325.3 210.1,325.3 211.1,325.3 212.1,325.3 213.1,325.3 214.1,325.3 215.1,325.3 216.1,325.3 217.1,325.3 218.1,325.3 219.1,325.3 220.1,325.3 221.1,325.3 222.1,325.3 223.1,325.2 224.1,325.2 225.1,325.2 226.1,325.2 227.1,325.2 228.1,325.2 229.1,325.2 230.1,325.2 231.1,325.2 232.1,325.2 233.1,325.2 234.1,325.2 235.1,325.2 236.1,325.2 237.1,325.2 238.1,325.2 239.1,325.2 240.1,325.2 241.1,325.2 242.1,325.2 243.1,325.2 244.1,325.2 245.1,325.2 246.1,325.2 247.1,325.2 248.1,325.2 249.1,325.2 250.1,325.2 251.1,325.2 252.1,325.2 253.1,325.1 254.1,325.1 255.1,325.1 256.1,325.1 257.1,325.1 258.1,325.1 259.1,325.1 260.1,325.1 261.1,325.1 262.1,325.1 263.1,325.1 264.1,325.1 265.1,325.1 266.1,325.1 267.1,325.1 268.1,325.1 269.1,325.1 270.1,325.1 271.1,325.1 272.1,325.1 273.1,325.1 274.1,325.0 275.1,325.0 276.1,325.0 277.1,325.0 278.1,325.0 279.1,325.0 280.1,325.0 281.1,325.0 282.1,325.0 283.1,325.0 284.1,325.0 285.1,325.0 286.1,325.0 287.1,325.0 288.1,325.0 289.1,324.9 290.1,324.9 291.1,324.9 292.1,324.9 293.1,324.9 294.1,324.9 295.1,324.9 296.1,324.9 297.1,324.9 298.1,324.9 299.1,324.9 300.1,324.8 301.1,324.8 302.1,324.8 303.1,324.8 304.1,324.8 305.1,324.8 306.1,324.8 307.1,324.8 308.1,324.8 309.1,324.7 310.1,324.7 311.1,324.7 312.1,324.7 313.1,324.7 314.1,324.7 315.1,324.7 316.1,324.7 317.1,324.6 318.1,324.6 319.1,324.6 320.1,324.6 321.1,324.6 322.1,324.6 323.1,324.6 324.1,324.5 325.1,324.5 326.1,324.5 327.1,324.5 328.1,324.5 329.1,324.4 330.1,324.4 331.1,324.4 332.1,324.4 333.1,324.4 334.1,324.3 335.1,324.3 336.1,324.3 337.1,324.3 338.1,324.2 339.1,324.2 340.1,324.2 341.1,324.2 342.1,324.1 343.1,324.1 344.1,324.1 345.1,324.1 346.1,324.0 347.1,324.0 348.1,324.0 349.1,323.9 350.1,323.9 351.1,323.9 352.1,323.8 353.1,323.8 354.1,323.7 355.1,323.7 356.1,323.7 357.1,323.6 358.1,323.6 359.1,323.5 360.1,323.5 361.1,323.4 362.1,323.4 363.1,323.3 364.1,323.3 365.1,323.2 366.1,323.1 367.1,323.1 368.1,323.0 369.1,322.9 370.1,322.9 371.1,322.8 372.1,322.7 373.1,322.6 374.1,322.5 375.1,322.5 376.1,322.4 377.1,322.3 378.1,322.2 379.1,322.1 380.1,322.0 381.1,321.9 382.1,321.7 383.1,321.6 384.1,321.5 385.1,321.3 386.1,321.2 387.1,321.0 388.1,320.9 389.1,320.7 390.1,320.6 391.1,320.4 392.1,320.2 393.1,320.0 394.1,319.8 395.1,319.5 396.1,319.3 397.1,319.0 398.1,318.8 399.1,318.5 400.1,318.2 401.1,317.9 402.1,317.5 403.1,317.1 404.1,316.8 405.1,316.4 406.1,315.9 407.1,315.5 408.1,315.0 409.1,314.4 410.1,313.9 411.1,313.3 412.1,312.6 413.1,311.9 414.1,311.2 415.1,310.4 416.1,309.6 417.1,308.7 418.1,307.7 419.1,306.7 420.1,305.6 421.1,304.5 422.1,303.3 423.1,302.0 424.1,300.7 425.1,299.2 426.1,297.8 427.1,296.3 428.1,294.7 429.1,293.2 430.1,291.6 431.1,290.1 432.1,288.6 433.1,287.2 434.1,285.9 435.1,284.8 436.1,283.9 437.1,283.2 438.1,282.7 439.1,282.5 440.1,282.6 441.1,283.0 442.1,283.6 443.1,284.4 444.1,285.4 445.1,286.6 446.1,288.0 447.1,289.4 448.1,290.9 449.1,292.5 450.1,294.1 451.1,295.6 452.1,297.1 453.1,298.6 454.1,300.1 455.1,301.4 456.1,302.7 457.1,304.0 458.1,305.2 459.1,306.3 460.1,307.3 461.1,308.3 462.1,309.2 463.1,310.1 464.1,310.9 465.1,311.6 466.1,312.3 467.1,313.0 468.1,313.6 469.1,314.2 470.1,314.7 471.1,315.3 472.1,315.7 473.1,316.2 474.1,316.6 475.1,317.0 476.1,317.4 477.1,317.7 478.1,318.0 479.1,318.3 480.1,318.6 481.1,318.9 482.1,319.2 483.1,319.4 484.1,319.7 485.1,319.9 486.1,320.1 487.1,320.3 488.1,320.5 489.1,320.7 490.1,320.8 491.1,321.0 492.1,321.1 493.1,321.3 494.1,321.4 495.1,321.6 496.1,321.7 497.1,321.8 498.1,321.9 499.1,322.0 500.1,322.1 501.1,322.2 502.1,322.3 503.1,322.4 504.1,322.5 505.1,322.6 506.1,322.7 507.1,322.8 508.1,322.8 509.1,322.9 510.1,323.0 511.1,323.0 512.1,323.1 513.1,323.2 514.1,323.2 515.1,323.3 516.1,323.3 517.1,323.4 518.1,323.4 519.1,323.5 520.1,323.5 521.1,323.6 522.1,323.6 523.1,323.7 524.1,323.7 525.1,323.8 526.1,323.8 527.1,323.8 528.1,323.9 529.1,323.9 530.1,323.9 531.1,324.0 532.1,324.0 533.1,324.0 534.1,324.1 535.1,324.1 536.1,324.1 537.1,324.2 538.1,324.2 539.1,324.2 540.1,324.2 541.1,324.3 542.1,324.3 543.1,324.3 544.1,324.3 545.1,324.4 546.1,324.4 547.1,324.4 548.1,324.4 549.1,324.4 550.1,324.5 551.1,324.5 552.1,324.5 553.1,324.5 554.1,324.5 555.1,324.5 556.1,324.6 557.1,324.6 558.1,324.6 559.1,324.6 560.1,324.6 561.1,324.6 562.1,324.7 563.1,324.7 564.1,324.7 565.1,324.7 566.1,324.7 567.1,324.7 568.1,324.7 569.1,324.7 570.1,324.8 571.1,324.8 572.1,324.8" fill="none" stroke="#ff8a26" stroke-width="2.3" stroke-linejoin="round"/>
<polyline points="146.4,308.2 147.4,307.9 148.4,307.4 149.4,307.2 150.4,306.9 151.4,306.4 152.4,306.1 153.4,305.8 154.4,305.9 155.4,305.6 156.4,305.3 157.4,304.6 158.4,304.1 159.4,303.7 160.4,303.3 161.4,302.9 162.4,302.5 163.4,302.1 164.4,301.6 165.4,301.1 166.4,300.5 167.4,300.0 168.4,299.4 169.4,298.6 170.4,297.9 171.4,297.4 172.4,296.6 173.4,295.8 174.4,294.8 175.4,293.9 176.4,293.0 177.4,292.0 178.4,291.1 179.4,290.1 180.4,289.0 181.4,287.5 182.4,286.3 183.4,284.9 184.4,283.7 185.4,282.2 186.4,280.8 187.4,279.4 188.4,277.7 189.4,276.0 190.4,274.3 191.4,272.8 192.4,271.0 193.4,269.3 194.4,267.4 195.4,265.6 196.4,263.7 197.4,261.9 198.4,260.3 199.4,258.7 200.4,257.1 201.4,255.6 202.4,254.0 203.4,252.8 204.4,251.5 205.4,250.4 206.4,249.2 207.4,247.9 208.4,246.9 209.4,245.5 210.4,244.3 211.4,242.9 212.4,241.8 213.4,240.2 214.4,238.5 215.4,236.7 216.4,234.9 217.4,233.1 218.4,230.7 219.4,228.4 220.4,225.6 221.4,223.0 222.4,219.9 223.4,216.7 224.4,212.9 225.4,209.2 226.4,205.3 227.4,201.2 228.4,196.7 229.4,192.0 230.4,187.0 231.4,181.8 232.4,176.7 233.4,171.7 234.4,166.4 235.4,161.2 236.4,156.0 237.4,151.0 238.4,146.2 239.4,141.3 240.4,136.6 241.4,132.1 242.4,128.2 243.4,124.7 244.4,121.3 245.4,118.1 246.4,115.5 247.4,113.3 248.4,111.7 249.4,110.5 250.4,109.9 251.4,109.7 252.4,110.1 253.4,110.9 254.4,112.3 255.4,113.9 256.4,115.8 257.4,117.4 258.4,119.4 259.4,121.5 260.4,124.0 261.4,126.2 262.4,128.5 263.4,130.6 264.4,132.5 265.4,134.0 266.4,135.1 267.4,136.2 268.4,136.9 269.4,137.3 270.4,137.0 271.4,136.3 272.4,134.9 273.4,133.3 274.4,131.1 275.4,128.4 276.4,124.8 277.4,120.8 278.4,116.1 279.4,111.3 280.4,105.8 281.4,99.9 282.4,93.3 283.4,86.4 284.4,79.4 285.4,72.2 286.4,65.1 287.4,58.5 288.4,52.1 289.4,46.3 290.4,41.2 291.4,37.4 292.4,35.1 293.4,34.4 294.4,35.1 295.4,37.2 296.4,40.7 297.4,45.6 298.4,51.5 299.4,58.4 300.4,66.0 301.4,74.1 302.4,82.5 303.4,90.7 304.4,99.0 305.4,107.0 306.4,114.6 307.4,121.6 308.4,128.1 309.4,134.1 310.4,139.6 311.4,144.0 312.4,148.1 313.4,151.3 314.4,154.4 315.4,156.8 316.4,158.8 317.4,160.5 318.4,161.7 319.4,163.0 320.4,164.1 321.4,165.4 322.4,167.0 323.4,169.0 324.4,171.6 325.4,174.4 326.4,177.8 327.4,181.2 328.4,184.8 329.4,188.5 330.4,192.4 331.4,196.2 332.4,199.8 333.4,203.1 334.4,206.3 335.4,209.0 336.4,211.5 337.4,213.3 338.4,215.0 339.4,216.2 340.4,217.1 341.4,217.8 342.4,218.1 343.4,218.1 344.4,217.7 345.4,216.9 346.4,215.8 347.4,214.2 348.4,212.2 349.4,209.9 350.4,207.5 351.4,204.5 352.4,201.6 353.4,198.2 354.4,194.8 355.4,191.0 356.4,187.0 357.4,183.0 358.4,179.0 359.4,175.2 360.4,171.6 361.4,168.3 362.4,165.4 363.4,163.1 364.4,161.4 365.4,160.3 366.4,160.1 367.4,160.5 368.4,162.1 369.4,164.1 370.4,166.6 371.4,169.5 372.4,172.8 373.4,176.5 374.4,180.4 375.4,184.2 376.4,188.1 377.4,191.8 378.4,195.5 379.4,199.1 380.4,202.3 381.4,205.4 382.4,208.3 383.4,210.9 384.4,213.1 385.4,215.2 386.4,217.1 387.4,219.0 388.4,220.6 389.4,222.0 390.4,223.2 391.4,224.4 392.4,225.9 393.4,227.1 394.4,228.3 395.4,229.3 396.4,230.6 397.4,232.0 398.4,233.3 399.4,234.8 400.4,236.1 401.4,237.7 402.4,239.1 403.4,240.9 404.4,242.5 405.4,244.3 406.4,245.7 407.4,247.3 408.4,249.0 409.4,250.7 410.4,252.3 411.4,253.8 412.4,255.1 413.4,256.3 414.4,257.4 415.4,258.4 416.4,259.3 417.4,260.1 418.4,260.8 419.4,261.3 420.4,261.6 421.4,261.8 422.4,262.1 423.4,262.2 424.4,262.1 425.4,261.8 426.4,261.7 427.4,261.3 428.4,261.0 429.4,260.6 430.4,260.3 431.4,259.9 432.4,259.4 433.4,259.1 434.4,258.6 435.4,258.2 436.4,258.1 437.4,258.3 438.4,258.5 439.4,259.2 440.4,259.6 441.4,260.6 442.4,261.5 443.4,262.5 444.4,263.8 445.4,265.4 446.4,267.2 447.4,268.9 448.4,270.7 449.4,272.6 450.4,274.4 451.4,276.1 452.4,278.1 453.4,279.9 454.4,281.7 455.4,283.4 456.4,285.0 457.4,286.3 458.4,287.5 459.4,288.8 460.4,290.3 461.4,291.8 462.4,293.1 463.4,294.2 464.4,295.3 465.4,296.4 466.4,297.4 467.4,298.3 468.4,299.2 469.4,300.1 470.4,301.0 471.4,301.8 472.4,302.7 473.4,303.4 474.4,304.4 475.4,305.1 476.4,305.6 477.4,306.0 478.4,306.5 479.4,307.0 480.4,307.5 481.4,307.8 482.4,308.1 483.4,308.5 484.4,308.9 485.4,309.7 486.4,310.0 487.4,310.3 488.4,310.7 489.4,311.1 490.4,311.5 491.4,311.9 492.4,312.3 493.4,312.6 494.4,312.8 495.4,313.1 496.4,313.3 497.4,313.5 498.4,313.7 499.4,314.2 500.4,314.2 501.4,314.3 502.4,314.3 503.4,314.4 504.4,314.6 505.4,314.7 506.4,314.9 507.4,315.0 508.4,315.1 509.4,314.9 510.4,315.0 511.4,315.3 512.4,315.6 513.4,315.7 514.4,315.6 515.4,315.9 516.4,316.1 517.4,316.2 518.4,316.4 519.4,316.5 520.4,316.9 521.4,316.9 522.4,317.2 523.4,317.3 524.4,317.5 525.4,317.5 526.4,317.6 527.4,317.8 528.4,318.0 529.4,318.2 530.4,318.3 531.4,318.6 532.4,318.6 533.4,318.6 534.4,318.4 535.4,318.4 536.4,318.5 537.4,318.7 538.4,318.7 539.4,318.7 540.4,318.6 541.4,318.5 542.4,318.7 543.4,318.8 544.4,318.9 545.4,318.7 546.4,318.7 547.4,318.9 548.4,319.1 549.4,319.1 550.4,319.2 551.4,319.3 552.4,319.6 553.4,319.6 554.4,319.6 555.4,319.7 556.4,319.7 557.4,319.7 558.4,319.8 559.4,319.9 560.4,320.3 561.4,320.1 562.4,320.3 563.4,320.3 564.4,320.6 565.4,320.8 566.4,320.9 567.4,321.1 568.4,321.1 569.4,321.1 570.4,321.2 571.4,321.4 572.4,321.4" fill="none" stroke="#1a0a08" stroke-width="3.0" stroke-linejoin="round"/>
<polyline points="146.1,309.1 147.1,308.8 148.1,308.5 149.1,308.2 150.1,307.9 151.1,307.6 152.1,307.2 153.1,306.9 154.1,306.6 155.1,306.3 156.1,305.9 157.1,305.5 158.1,305.1 159.1,304.7 160.1,304.3 161.1,303.9 162.1,303.4 163.1,302.9 164.1,302.4 165.1,301.9 166.1,301.3 167.1,300.7 168.1,300.1 169.1,299.5 170.1,298.8 171.1,298.1 172.1,297.3 173.1,296.5 174.1,295.7 175.1,294.8 176.1,293.9 177.1,292.9 178.1,291.9 179.1,290.9 180.1,289.7 181.1,288.6 182.1,287.3 183.1,286.0 184.1,284.7 185.1,283.3 186.1,281.8 187.1,280.3 188.1,278.7 189.1,277.0 190.1,275.3 191.1,273.6 192.1,271.8 193.1,270.0 194.1,268.2 195.1,266.4 196.1,264.6 197.1,262.9 198.1,261.2 199.1,259.5 200.1,258.0 201.1,256.5 202.1,255.1 203.1,253.8 204.1,252.6 205.1,251.3 206.1,250.2 207.1,249.0 208.1,247.8 209.1,246.6 210.1,245.3 211.1,244.0 212.1,242.6 213.1,241.1 214.1,239.5 215.1,237.8 216.1,235.9 217.1,233.9 218.1,231.7 219.1,229.3 220.1,226.7 221.1,223.9 222.1,220.8 223.1,217.5 224.1,214.0 225.1,210.2 226.1,206.1 227.1,201.8 228.1,197.4 229.1,192.7 230.1,187.8 231.1,182.8 232.1,177.7 233.1,172.6 234.1,167.4 235.1,162.2 236.1,157.1 237.1,152.0 238.1,147.0 239.1,142.3 240.1,137.7 241.1,133.3 242.1,129.2 243.1,125.4 244.1,122.0 245.1,118.9 246.1,116.4 247.1,114.2 248.1,112.6 249.1,111.4 250.1,110.8 251.1,110.6 252.1,111.0 253.1,111.7 254.1,112.9 255.1,114.4 256.1,116.2 257.1,118.2 258.1,120.4 259.1,122.7 260.1,125.0 261.1,127.3 262.1,129.5 263.1,131.5 264.1,133.4 265.1,135.0 266.1,136.3 267.1,137.2 268.1,137.8 269.1,138.0 270.1,137.7 271.1,137.0 272.1,135.8 273.1,134.0 274.1,131.7 275.1,128.9 276.1,125.6 277.1,121.7 278.1,117.2 279.1,112.2 280.1,106.6 281.1,100.6 282.1,94.2 283.1,87.4 284.1,80.3 285.1,73.2 286.1,66.1 287.1,59.2 288.1,52.8 289.1,47.1 290.1,42.3 291.1,38.6 292.1,36.2 293.1,35.3 294.1,35.9 295.1,38.0 296.1,41.6 297.1,46.5 298.1,52.5 299.1,59.4 300.1,67.1 301.1,75.1 302.1,83.5 303.1,91.8 304.1,100.0 305.1,107.9 306.1,115.5 307.1,122.5 308.1,129.0 309.1,134.9 310.1,140.2 311.1,144.9 312.1,148.9 313.1,152.4 314.1,155.3 315.1,157.6 316.1,159.5 317.1,161.1 318.1,162.4 319.1,163.7 320.1,164.9 321.1,166.2 322.1,167.9 323.1,169.9 324.1,172.3 325.1,175.1 326.1,178.3 327.1,181.8 328.1,185.5 329.1,189.4 330.1,193.3 331.1,197.0 332.1,200.6 333.1,204.0 334.1,207.1 335.1,209.8 336.1,212.2 337.1,214.3 338.1,215.9 339.1,217.3 340.1,218.2 341.1,218.8 342.1,219.0 343.1,218.9 344.1,218.5 345.1,217.6 346.1,216.5 347.1,215.0 348.1,213.1 349.1,210.9 350.1,208.5 351.1,205.6 352.1,202.6 353.1,199.2 354.1,195.6 355.1,191.8 356.1,187.9 357.1,183.9 358.1,180.0 359.1,176.1 360.1,172.5 361.1,169.2 362.1,166.4 363.1,164.1 364.1,162.4 365.1,161.4 366.1,161.2 367.1,161.7 368.1,163.0 369.1,164.9 370.1,167.4 371.1,170.4 372.1,173.8 373.1,177.5 374.1,181.3 375.1,185.2 376.1,189.1 377.1,192.9 378.1,196.6 379.1,200.1 380.1,203.3 381.1,206.4 382.1,209.2 383.1,211.8 384.1,214.1 385.1,216.2 386.1,218.1 387.1,219.9 388.1,221.4 389.1,222.9 390.1,224.2 391.1,225.5 392.1,226.7 393.1,227.8 394.1,229.0 395.1,230.2 396.1,231.4 397.1,232.7 398.1,234.1 399.1,235.5 400.1,236.9 401.1,238.5 402.1,240.1 403.1,241.7 404.1,243.3 405.1,245.0 406.1,246.7 407.1,248.3 408.1,250.0 409.1,251.5 410.1,253.0 411.1,254.5 412.1,255.8 413.1,257.1 414.1,258.2 415.1,259.2 416.1,260.1 417.1,260.9 418.1,261.5 419.1,262.0 420.1,262.4 421.1,262.7 422.1,262.9 423.1,262.9 424.1,262.9 425.1,262.7 426.1,262.5 427.1,262.2 428.1,261.9 429.1,261.5 430.1,261.1 431.1,260.7 432.1,260.2 433.1,259.9 434.1,259.5 435.1,259.3 436.1,259.2 437.1,259.2 438.1,259.4 439.1,259.8 440.1,260.4 441.1,261.3 442.1,262.3 443.1,263.5 444.1,265.0 445.1,266.5 446.1,268.2 447.1,270.0 448.1,271.8 449.1,273.6 450.1,275.5 451.1,277.3 452.1,279.1 453.1,280.8 454.1,282.5 455.1,284.1 456.1,285.7 457.1,287.1 458.1,288.6 459.1,290.0 460.1,291.3 461.1,292.6 462.1,293.8 463.1,295.0 464.1,296.2 465.1,297.3 466.1,298.4 467.1,299.4 468.1,300.4 469.1,301.3 470.1,302.1 471.1,302.9 472.1,303.7 473.1,304.4 474.1,305.0 475.1,305.7 476.1,306.2 477.1,306.8 478.1,307.3 479.1,307.8 480.1,308.3 481.1,308.8 482.1,309.2 483.1,309.7 484.1,310.1 485.1,310.5 486.1,310.9 487.1,311.3 488.1,311.7 489.1,312.0 490.1,312.4 491.1,312.7 492.1,313.1 493.1,313.4 494.1,313.7 495.1,313.9 496.1,314.2 497.1,314.4 498.1,314.6 499.1,314.8 500.1,314.9 501.1,315.1 502.1,315.2 503.1,315.3 504.1,315.5 505.1,315.6 506.1,315.7 507.1,315.8 508.1,316.0 509.1,316.1 510.1,316.2 511.1,316.4 512.1,316.5 513.1,316.6 514.1,316.8 515.1,316.9 516.1,317.0 517.1,317.2 518.1,317.3 519.1,317.5 520.1,317.6 521.1,317.8 522.1,317.9 523.1,318.1 524.1,318.2 525.1,318.4 526.1,318.6 527.1,318.7 528.1,318.9 529.1,319.0 530.1,319.1 531.1,319.2 532.1,319.3 533.1,319.4 534.1,319.4 535.1,319.4 536.1,319.5 537.1,319.5 538.1,319.5 539.1,319.5 540.1,319.6 541.1,319.6 542.1,319.6 543.1,319.6 544.1,319.7 545.1,319.7 546.1,319.8 547.1,319.8 548.1,319.9 549.1,319.9 550.1,320.0 551.1,320.1 552.1,320.1 553.1,320.2 554.1,320.3 555.1,320.3 556.1,320.4 557.1,320.5 558.1,320.6 559.1,320.7 560.1,320.9 561.1,321.0 562.1,321.1 563.1,321.3 564.1,321.4 565.1,321.6 566.1,321.7 567.1,321.8 568.1,321.9 569.1,322.0 570.1,322.1 571.1,322.1 572.1,322.1" fill="none" stroke="#e42e14" stroke-width="2.9" stroke-linejoin="round"/>
</g>
<g>
<line x1="151.0" y1="666.6" x2="574.6" y2="666.6" stroke="#ff7b32" stroke-width="2.4"/>
<polyline points="151.0,655.3 152.0,654.8 153.0,654.4 154.0,653.9 155.0,653.4 156.0,652.8 157.0,652.2 158.0,651.6 159.0,650.9 160.0,650.2 161.0,649.4 162.0,648.6 163.0,647.7 164.0,646.7 165.0,645.7 166.0,644.6 167.0,643.4 168.0,642.1 169.0,640.7 170.0,639.1 171.0,637.5 172.0,635.7 173.0,633.7 174.0,631.6 175.0,629.2 176.0,626.7 177.0,624.0 178.0,621.0 179.0,617.8 180.0,614.3 181.0,610.5 182.0,606.5 183.0,602.2 184.0,597.6 185.0,592.8 186.0,587.8 187.0,582.8 188.0,577.7 189.0,572.8 190.0,568.2 191.0,564.1 192.0,560.6 193.0,557.9 194.0,556.2 195.0,555.6 196.0,556.1 197.0,557.7 198.0,560.3 199.0,563.7 200.0,567.8 201.0,572.3 202.0,577.2 203.0,582.3 204.0,587.3 205.0,592.3 206.0,597.1 207.0,601.7 208.0,606.1 209.0,610.1 210.0,613.9 211.0,617.4 212.0,620.7 213.0,623.7 214.0,626.5 215.0,629.0 216.0,631.3 217.0,633.5 218.0,635.5 219.0,637.3 220.0,639.0 221.0,640.5 222.0,641.9 223.0,643.3 224.0,644.5 225.0,645.6 226.0,646.6 227.0,647.6 228.0,648.5 229.0,649.3 230.0,650.1 231.0,650.9 232.0,651.5 233.0,652.2 234.0,652.8 235.0,653.3 236.0,653.8 237.0,654.3 238.0,654.8 239.0,655.2 240.0,655.6 241.0,656.0 242.0,656.4 243.0,656.7 244.0,657.0 245.0,657.4 246.0,657.6 247.0,657.9 248.0,658.2 249.0,658.4 250.0,658.7 251.0,658.9 252.0,659.1 253.0,659.3 254.0,659.5 255.0,659.7 256.0,659.9 257.0,660.0 258.0,660.2 259.0,660.3 260.0,660.5 261.0,660.6 262.0,660.8 263.0,660.9 264.0,661.0 265.0,661.1 266.0,661.3 267.0,661.4 268.0,661.5 269.0,661.6 270.0,661.7 271.0,661.8 272.0,661.9 273.0,661.9 274.0,662.0 275.0,662.1 276.0,662.2 277.0,662.3 278.0,662.3 279.0,662.4 280.0,662.5 281.0,662.5 282.0,662.6 283.0,662.7 284.0,662.7 285.0,662.8 286.0,662.8 287.0,662.9 288.0,662.9 289.0,663.0 290.0,663.0 291.0,663.1 292.0,663.1 293.0,663.2 294.0,663.2 295.0,663.3 296.0,663.3 297.0,663.4 298.0,663.4 299.0,663.4 300.0,663.5 301.0,663.5 302.0,663.5 303.0,663.6 304.0,663.6 305.0,663.6 306.0,663.7 307.0,663.7 308.0,663.7 309.0,663.8 310.0,663.8 311.0,663.8 312.0,663.8 313.0,663.9 314.0,663.9 315.0,663.9 316.0,663.9 317.0,664.0 318.0,664.0 319.0,664.0 320.0,664.0 321.0,664.1 322.0,664.1 323.0,664.1 324.0,664.1 325.0,664.1 326.0,664.2 327.0,664.2 328.0,664.2 329.0,664.2 330.0,664.2 331.0,664.2 332.0,664.3 333.0,664.3 334.0,664.3 335.0,664.3 336.0,664.3 337.0,664.3 338.0,664.3 339.0,664.4 340.0,664.4 341.0,664.4 342.0,664.4 343.0,664.4 344.0,664.4 345.0,664.4 346.0,664.5 347.0,664.5 348.0,664.5 349.0,664.5 350.0,664.5 351.0,664.5 352.0,664.5 353.0,664.5 354.0,664.5 355.0,664.6 356.0,664.6 357.0,664.6 358.0,664.6 359.0,664.6 360.0,664.6 361.0,664.6 362.0,664.6 363.0,664.6 364.0,664.6 365.0,664.7 366.0,664.7 367.0,664.7 368.0,664.7 369.0,664.7 370.0,664.7 371.0,664.7 372.0,664.7 373.0,664.7 374.0,664.7 375.0,664.7 376.0,664.7 377.0,664.7 378.0,664.8 379.0,664.8 380.0,664.8 381.0,664.8 382.0,664.8 383.0,664.8 384.0,664.8 385.0,664.8 386.0,664.8 387.0,664.8 388.0,664.8 389.0,664.8 390.0,664.8 391.0,664.8 392.0,664.8 393.0,664.8 394.0,664.9 395.0,664.9 396.0,664.9 397.0,664.9 398.0,664.9 399.0,664.9 400.0,664.9 401.0,664.9 402.0,664.9 403.0,664.9 404.0,664.9 405.0,664.9 406.0,664.9 407.0,664.9 408.0,664.9 409.0,664.9 410.0,664.9 411.0,664.9 412.0,664.9 413.0,664.9 414.0,664.9 415.0,665.0 416.0,665.0 417.0,665.0 418.0,665.0 419.0,665.0 420.0,665.0 421.0,665.0 422.0,665.0 423.0,665.0 424.0,665.0 425.0,665.0 426.0,665.0 427.0,665.0 428.0,665.0 429.0,665.0 430.0,665.0 431.0,665.0 432.0,665.0 433.0,665.0 434.0,665.0 435.0,665.0 436.0,665.0 437.0,665.0 438.0,665.0 439.0,665.0 440.0,665.0 441.0,665.0 442.0,665.0 443.0,665.0 444.0,665.1 445.0,665.1 446.0,665.1 447.0,665.1 448.0,665.1 449.0,665.1 450.0,665.1 451.0,665.1 452.0,665.1 453.0,665.1 454.0,665.1 455.0,665.1 456.0,665.1 457.0,665.1 458.0,665.1 459.0,665.1 460.0,665.1 461.0,665.1 462.0,665.1 463.0,665.1 464.0,665.1 465.0,665.1 466.0,665.1 467.0,665.1 468.0,665.1 469.0,665.1 470.0,665.1 471.0,665.1 472.0,665.1 473.0,665.1 474.0,665.1 475.0,665.1 476.0,665.1 477.0,665.1 478.0,665.1 479.0,665.1 480.0,665.1 481.0,665.1 482.0,665.1 483.0,665.1 484.0,665.1 485.0,665.1 486.0,665.1 487.0,665.1 488.0,665.1 489.0,665.1 490.0,665.2 491.0,665.2 492.0,665.2 493.0,665.2 494.0,665.2 495.0,665.2 496.0,665.2 497.0,665.2 498.0,665.2 499.0,665.2 500.0,665.2 501.0,665.2 502.0,665.2 503.0,665.2 504.0,665.2 505.0,665.2 506.0,665.2 507.0,665.2 508.0,665.2 509.0,665.2 510.0,665.2 511.0,665.2 512.0,665.2 513.0,665.2 514.0,665.2 515.0,665.2 516.0,665.2 517.0,665.2 518.0,665.2 519.0,665.2 520.0,665.2 521.0,665.2 522.0,665.2 523.0,665.2 524.0,665.2 525.0,665.2 526.0,665.2 527.0,665.2 528.0,665.2 529.0,665.2 530.0,665.2 531.0,665.2 532.0,665.2 533.0,665.2 534.0,665.2 535.0,665.2 536.0,665.2 537.0,665.2 538.0,665.2 539.0,665.2 540.0,665.2 541.0,665.2 542.0,665.2 543.0,665.2 544.0,665.2 545.0,665.2 546.0,665.2 547.0,665.2 548.0,665.2 549.0,665.2 550.0,665.2 551.0,665.2 552.0,665.2 553.0,665.2 554.0,665.2 555.0,665.2 556.0,665.2 557.0,665.2 558.0,665.2 559.0,665.2 560.0,665.2 561.0,665.2 562.0,665.2 563.0,665.2 564.0,665.2 565.0,665.2 566.0,665.2 567.0,665.2 568.0,665.2 569.0,665.2 570.0,665.2 571.0,665.2 572.0,665.2 573.0,665.2 574.0,665.2" fill="none" stroke="#2ee02e" stroke-width="2.3" stroke-linejoin="round"/>
<polyline points="151.0,659.9 152.0,659.8 153.0,659.7 154.0,659.6 155.0,659.4 156.0,659.3 157.0,659.2 158.0,659.0 159.0,658.9 160.0,658.8 161.0,658.6 162.0,658.5 163.0,658.3 164.0,658.1 165.0,658.0 166.0,657.8 167.0,657.6 168.0,657.4 169.0,657.2 170.0,657.0 171.0,656.8 172.0,656.6 173.0,656.3 174.0,656.1 175.0,655.9 176.0,655.6 177.0,655.3 178.0,655.1 179.0,654.8 180.0,654.5 181.0,654.2 182.0,653.9 183.0,653.5 184.0,653.2 185.0,652.8 186.0,652.4 187.0,652.0 188.0,651.6 189.0,651.2 190.0,650.7 191.0,650.2 192.0,649.8 193.0,649.2 194.0,648.7 195.0,648.1 196.0,647.5 197.0,646.9 198.0,646.2 199.0,645.5 200.0,644.8 201.0,644.0 202.0,643.2 203.0,642.4 204.0,641.5 205.0,640.6 206.0,639.6 207.0,638.5 208.0,637.4 209.0,636.3 210.0,635.0 211.0,633.8 212.0,632.4 213.0,631.0 214.0,629.4 215.0,627.8 216.0,626.1 217.0,624.3 218.0,622.5 219.0,620.5 220.0,618.4 221.0,616.2 222.0,613.9 223.0,611.4 224.0,608.9 225.0,606.3 226.0,603.5 227.0,600.6 228.0,597.7 229.0,594.6 230.0,591.5 231.0,588.4 232.0,585.2 233.0,582.0 234.0,578.8 235.0,575.7 236.0,572.7 237.0,569.9 238.0,567.3 239.0,564.9 240.0,562.8 241.0,561.1 242.0,559.7 243.0,558.8 244.0,558.3 245.0,558.2 246.0,558.6 247.0,559.5 248.0,560.7 249.0,562.4 250.0,564.4 251.0,566.7 252.0,569.3 253.0,572.1 254.0,575.0 255.0,578.1 256.0,581.3 257.0,584.5 258.0,587.7 259.0,590.8 260.0,594.0 261.0,597.0 262.0,600.0 263.0,602.9 264.0,605.7 265.0,608.3 266.0,610.9 267.0,613.3 268.0,615.7 269.0,617.9 270.0,620.0 271.0,622.0 272.0,623.9 273.0,625.7 274.0,627.5 275.0,629.1 276.0,630.6 277.0,632.1 278.0,633.5 279.0,634.8 280.0,636.0 281.0,637.2 282.0,638.3 283.0,639.3 284.0,640.4 285.0,641.3 286.0,642.2 287.0,643.1 288.0,643.9 289.0,644.6 290.0,645.4 291.0,646.1 292.0,646.7 293.0,647.4 294.0,648.0 295.0,648.6 296.0,649.1 297.0,649.6 298.0,650.1 299.0,650.6 300.0,651.1 301.0,651.5 302.0,651.9 303.0,652.3 304.0,652.7 305.0,653.1 306.0,653.4 307.0,653.8 308.0,654.1 309.0,654.4 310.0,654.7 311.0,655.0 312.0,655.3 313.0,655.6 314.0,655.8 315.0,656.1 316.0,656.3 317.0,656.5 318.0,656.7 319.0,657.0 320.0,657.2 321.0,657.4 322.0,657.6 323.0,657.7 324.0,657.9 325.0,658.1 326.0,658.3 327.0,658.4 328.0,658.6 329.0,658.7 330.0,658.9 331.0,659.0 332.0,659.1 333.0,659.3 334.0,659.4 335.0,659.5 336.0,659.7 337.0,659.8 338.0,659.9 339.0,660.0 340.0,660.1 341.0,660.2 342.0,660.3 343.0,660.4 344.0,660.5 345.0,660.6 346.0,660.7 347.0,660.8 348.0,660.9 349.0,660.9 350.0,661.0 351.0,661.1 352.0,661.2 353.0,661.3 354.0,661.3 355.0,661.4 356.0,661.5 357.0,661.5 358.0,661.6 359.0,661.7 360.0,661.7 361.0,661.8 362.0,661.8 363.0,661.9 364.0,662.0 365.0,662.0 366.0,662.1 367.0,662.1 368.0,662.2 369.0,662.2 370.0,662.3 371.0,662.3 372.0,662.4 373.0,662.4 374.0,662.5 375.0,662.5 376.0,662.5 377.0,662.6 378.0,662.6 379.0,662.7 380.0,662.7 381.0,662.7 382.0,662.8 383.0,662.8 384.0,662.9 385.0,662.9 386.0,662.9 387.0,663.0 388.0,663.0 389.0,663.0 390.0,663.1 391.0,663.1 392.0,663.1 393.0,663.1 394.0,663.2 395.0,663.2 396.0,663.2 397.0,663.3 398.0,663.3 399.0,663.3 400.0,663.3 401.0,663.4 402.0,663.4 403.0,663.4 404.0,663.4 405.0,663.5 406.0,663.5 407.0,663.5 408.0,663.5 409.0,663.6 410.0,663.6 411.0,663.6 412.0,663.6 413.0,663.6 414.0,663.7 415.0,663.7 416.0,663.7 417.0,663.7 418.0,663.7 419.0,663.8 420.0,663.8 421.0,663.8 422.0,663.8 423.0,663.8 424.0,663.8 425.0,663.9 426.0,663.9 427.0,663.9 428.0,663.9 429.0,663.9 430.0,663.9 431.0,664.0 432.0,664.0 433.0,664.0 434.0,664.0 435.0,664.0 436.0,664.0 437.0,664.0 438.0,664.1 439.0,664.1 440.0,664.1 441.0,664.1 442.0,664.1 443.0,664.1 444.0,664.1 445.0,664.2 446.0,664.2 447.0,664.2 448.0,664.2 449.0,664.2 450.0,664.2 451.0,664.2 452.0,664.2 453.0,664.2 454.0,664.3 455.0,664.3 456.0,664.3 457.0,664.3 458.0,664.3 459.0,664.3 460.0,664.3 461.0,664.3 462.0,664.3 463.0,664.3 464.0,664.4 465.0,664.4 466.0,664.4 467.0,664.4 468.0,664.4 469.0,664.4 470.0,664.4 471.0,664.4 472.0,664.4 473.0,664.4 474.0,664.4 475.0,664.5 476.0,664.5 477.0,664.5 478.0,664.5 479.0,664.5 480.0,664.5 481.0,664.5 482.0,664.5 483.0,664.5 484.0,664.5 485.0,664.5 486.0,664.5 487.0,664.5 488.0,664.6 489.0,664.6 490.0,664.6 491.0,664.6 492.0,664.6 493.0,664.6 494.0,664.6 495.0,664.6 496.0,664.6 497.0,664.6 498.0,664.6 499.0,664.6 500.0,664.6 501.0,664.6 502.0,664.6 503.0,664.6 504.0,664.7 505.0,664.7 506.0,664.7 507.0,664.7 508.0,664.7 509.0,664.7 510.0,664.7 511.0,664.7 512.0,664.7 513.0,664.7 514.0,664.7 515.0,664.7 516.0,664.7 517.0,664.7 518.0,664.7 519.0,664.7 520.0,664.7 521.0,664.7 522.0,664.7 523.0,664.7 524.0,664.8 525.0,664.8 526.0,664.8 527.0,664.8 528.0,664.8 529.0,664.8 530.0,664.8 531.0,664.8 532.0,664.8 533.0,664.8 534.0,664.8 535.0,664.8 536.0,664.8 537.0,664.8 538.0,664.8 539.0,664.8 540.0,664.8 541.0,664.8 542.0,664.8 543.0,664.8 544.0,664.8 545.0,664.8 546.0,664.8 547.0,664.8 548.0,664.9 549.0,664.9 550.0,664.9 551.0,664.9 552.0,664.9 553.0,664.9 554.0,664.9 555.0,664.9 556.0,664.9 557.0,664.9 558.0,664.9 559.0,664.9 560.0,664.9 561.0,664.9 562.0,664.9 563.0,664.9 564.0,664.9 565.0,664.9 566.0,664.9 567.0,664.9 568.0,664.9 569.0,664.9 570.0,664.9 571.0,664.9 572.0,664.9 573.0,664.9 574.0,664.9" fill="none" stroke="#2a50f5" stroke-width="2.3" stroke-linejoin="round"/>
<polyline points="151.0,664.8 152.0,664.8 153.0,664.8 154.0,664.8 155.0,664.8 156.0,664.8 157.0,664.8 158.0,664.8 159.0,664.8 160.0,664.8 161.0,664.8 162.0,664.7 163.0,664.7 164.0,664.7 165.0,664.7 166.0,664.7 167.0,664.7 168.0,664.7 169.0,664.7 170.0,664.7 171.0,664.6 172.0,664.6 173.0,664.6 174.0,664.6 175.0,664.6 176.0,664.6 177.0,664.6 178.0,664.6 179.0,664.5 180.0,664.5 181.0,664.5 182.0,664.5 183.0,664.5 184.0,664.5 185.0,664.4 186.0,664.4 187.0,664.4 188.0,664.4 189.0,664.4 190.0,664.3 191.0,664.3 192.0,664.3 193.0,664.3 194.0,664.3 195.0,664.2 196.0,664.2 197.0,664.2 198.0,664.2 199.0,664.1 200.0,664.1 201.0,664.1 202.0,664.0 203.0,664.0 204.0,664.0 205.0,663.9 206.0,663.9 207.0,663.9 208.0,663.8 209.0,663.8 210.0,663.8 211.0,663.7 212.0,663.7 213.0,663.6 214.0,663.6 215.0,663.5 216.0,663.5 217.0,663.5 218.0,663.4 219.0,663.3 220.0,663.3 221.0,663.2 222.0,663.2 223.0,663.1 224.0,663.0 225.0,663.0 226.0,662.9 227.0,662.8 228.0,662.7 229.0,662.7 230.0,662.6 231.0,662.5 232.0,662.4 233.0,662.3 234.0,662.2 235.0,662.1 236.0,661.9 237.0,661.8 238.0,661.7 239.0,661.6 240.0,661.4 241.0,661.3 242.0,661.1 243.0,660.9 244.0,660.8 245.0,660.6 246.0,660.4 247.0,660.1 248.0,659.9 249.0,659.7 250.0,659.4 251.0,659.1 252.0,658.8 253.0,658.5 254.0,658.2 255.0,657.8 256.0,657.4 257.0,657.0 258.0,656.6 259.0,656.1 260.0,655.6 261.0,655.0 262.0,654.4 263.0,653.7 264.0,653.0 265.0,652.2 266.0,651.4 267.0,650.5 268.0,649.4 269.0,648.3 270.0,647.1 271.0,645.8 272.0,644.4 273.0,642.8 274.0,641.1 275.0,639.2 276.0,637.1 277.0,634.9 278.0,632.5 279.0,629.9 280.0,627.1 281.0,624.2 282.0,621.1 283.0,618.0 284.0,614.9 285.0,611.9 286.0,609.0 287.0,606.5 288.0,604.5 289.0,603.0 290.0,602.3 291.0,602.2 292.0,602.9 293.0,604.2 294.0,606.1 295.0,608.6 296.0,611.3 297.0,614.3 298.0,617.4 299.0,620.6 300.0,623.6 301.0,626.6 302.0,629.4 303.0,632.0 304.0,634.5 305.0,636.7 306.0,638.8 307.0,640.7 308.0,642.5 309.0,644.1 310.0,645.6 311.0,646.9 312.0,648.1 313.0,649.2 314.0,650.3 315.0,651.2 316.0,652.1 317.0,652.9 318.0,653.6 319.0,654.3 320.0,654.9 321.0,655.5 322.0,656.0 323.0,656.5 324.0,656.9 325.0,657.4 326.0,657.8 327.0,658.1 328.0,658.5 329.0,658.8 330.0,659.1 331.0,659.4 332.0,659.6 333.0,659.9 334.0,660.1 335.0,660.3 336.0,660.5 337.0,660.7 338.0,660.9 339.0,661.1 340.0,661.2 341.0,661.4 342.0,661.5 343.0,661.7 344.0,661.8 345.0,661.9 346.0,662.0 347.0,662.2 348.0,662.3 349.0,662.4 350.0,662.5 351.0,662.6 352.0,662.6 353.0,662.7 354.0,662.8 355.0,662.9 356.0,663.0 357.0,663.0 358.0,663.1 359.0,663.2 360.0,663.2 361.0,663.3 362.0,663.3 363.0,663.4 364.0,663.4 365.0,663.5 366.0,663.5 367.0,663.6 368.0,663.6 369.0,663.7 370.0,663.7 371.0,663.8 372.0,663.8 373.0,663.8 374.0,663.9 375.0,663.9 376.0,663.9 377.0,664.0 378.0,664.0 379.0,664.0 380.0,664.1 381.0,664.1 382.0,664.1 383.0,664.1 384.0,664.2 385.0,664.2 386.0,664.2 387.0,664.2 388.0,664.3 389.0,664.3 390.0,664.3 391.0,664.3 392.0,664.4 393.0,664.4 394.0,664.4 395.0,664.4 396.0,664.4 397.0,664.5 398.0,664.5 399.0,664.5 400.0,664.5 401.0,664.5 402.0,664.5 403.0,664.5 404.0,664.6 405.0,664.6 406.0,664.6 407.0,664.6 408.0,664.6 409.0,664.6 410.0,664.6 411.0,664.7 412.0,664.7 413.0,664.7 414.0,664.7 415.0,664.7 416.0,664.7 417.0,664.7 418.0,664.7 419.0,664.7 420.0,664.8 421.0,664.8 422.0,664.8 423.0,664.8 424.0,664.8 425.0,664.8 426.0,664.8 427.0,664.8 428.0,664.8 429.0,664.8 430.0,664.8 431.0,664.9 432.0,664.9 433.0,664.9 434.0,664.9 435.0,664.9 436.0,664.9 437.0,664.9 438.0,664.9 439.0,664.9 440.0,664.9 441.0,664.9 442.0,664.9 443.0,664.9 444.0,664.9 445.0,664.9 446.0,665.0 447.0,665.0 448.0,665.0 449.0,665.0 450.0,665.0 451.0,665.0 452.0,665.0 453.0,665.0 454.0,665.0 455.0,665.0 456.0,665.0 457.0,665.0 458.0,665.0 459.0,665.0 460.0,665.0 461.0,665.0 462.0,665.0 463.0,665.0 464.0,665.0 465.0,665.0 466.0,665.0 467.0,665.1 468.0,665.1 469.0,665.1 470.0,665.1 471.0,665.1 472.0,665.1 473.0,665.1 474.0,665.1 475.0,665.1 476.0,665.1 477.0,665.1 478.0,665.1 479.0,665.1 480.0,665.1 481.0,665.1 482.0,665.1 483.0,665.1 484.0,665.1 485.0,665.1 486.0,665.1 487.0,665.1 488.0,665.1 489.0,665.1 490.0,665.1 491.0,665.1 492.0,665.1 493.0,665.1 494.0,665.1 495.0,665.1 496.0,665.1 497.0,665.1 498.0,665.1 499.0,665.2 500.0,665.2 501.0,665.2 502.0,665.2 503.0,665.2 504.0,665.2 505.0,665.2 506.0,665.2 507.0,665.2 508.0,665.2 509.0,665.2 510.0,665.2 511.0,665.2 512.0,665.2 513.0,665.2 514.0,665.2 515.0,665.2 516.0,665.2 517.0,665.2 518.0,665.2 519.0,665.2 520.0,665.2 521.0,665.2 522.0,665.2 523.0,665.2 524.0,665.2 525.0,665.2 526.0,665.2 527.0,665.2 528.0,665.2 529.0,665.2 530.0,665.2 531.0,665.2 532.0,665.2 533.0,665.2 534.0,665.2 535.0,665.2 536.0,665.2 537.0,665.2 538.0,665.2 539.0,665.2 540.0,665.2 541.0,665.2 542.0,665.2 543.0,665.2 544.0,665.2 545.0,665.2 546.0,665.2 547.0,665.2 548.0,665.2 549.0,665.2 550.0,665.2 551.0,665.2 552.0,665.2 553.0,665.2 554.0,665.2 555.0,665.2 556.0,665.2 557.0,665.2 558.0,665.2 559.0,665.2 560.0,665.3 561.0,665.3 562.0,665.3 563.0,665.3 564.0,665.3 565.0,665.3 566.0,665.3 567.0,665.3 568.0,665.3 569.0,665.3 570.0,665.3 571.0,665.3 572.0,665.3 573.0,665.3 574.0,665.3" fill="none" stroke="#22eaf0" stroke-width="2.3" stroke-linejoin="round"/>
<polyline points="151.0,665.1 152.0,665.1 153.0,665.1 154.0,665.1 155.0,665.1 156.0,665.1 157.0,665.1 158.0,665.1 159.0,665.0 160.0,665.0 161.0,665.0 162.0,665.0 163.0,665.0 164.0,665.0 165.0,665.0 166.0,665.0 167.0,665.0 168.0,665.0 169.0,665.0 170.0,665.0 171.0,665.0 172.0,665.0 173.0,665.0 174.0,665.0 175.0,665.0 176.0,665.0 177.0,665.0 178.0,665.0 179.0,664.9 180.0,664.9 181.0,664.9 182.0,664.9 183.0,664.9 184.0,664.9 185.0,664.9 186.0,664.9 187.0,664.9 188.0,664.9 189.0,664.9 190.0,664.9 191.0,664.9 192.0,664.8 193.0,664.8 194.0,664.8 195.0,664.8 196.0,664.8 197.0,664.8 198.0,664.8 199.0,664.8 200.0,664.8 201.0,664.8 202.0,664.8 203.0,664.7 204.0,664.7 205.0,664.7 206.0,664.7 207.0,664.7 208.0,664.7 209.0,664.7 210.0,664.7 211.0,664.6 212.0,664.6 213.0,664.6 214.0,664.6 215.0,664.6 216.0,664.6 217.0,664.6 218.0,664.5 219.0,664.5 220.0,664.5 221.0,664.5 222.0,664.5 223.0,664.5 224.0,664.4 225.0,664.4 226.0,664.4 227.0,664.4 228.0,664.4 229.0,664.3 230.0,664.3 231.0,664.3 232.0,664.3 233.0,664.2 234.0,664.2 235.0,664.2 236.0,664.2 237.0,664.1 238.0,664.1 239.0,664.1 240.0,664.0 241.0,664.0 242.0,664.0 243.0,663.9 244.0,663.9 245.0,663.9 246.0,663.8 247.0,663.8 248.0,663.7 249.0,663.7 250.0,663.6 251.0,663.6 252.0,663.5 253.0,663.5 254.0,663.4 255.0,663.4 256.0,663.3 257.0,663.3 258.0,663.2 259.0,663.1 260.0,663.1 261.0,663.0 262.0,662.9 263.0,662.8 264.0,662.7 265.0,662.7 266.0,662.6 267.0,662.5 268.0,662.4 269.0,662.3 270.0,662.1 271.0,662.0 272.0,661.9 273.0,661.8 274.0,661.6 275.0,661.5 276.0,661.3 277.0,661.2 278.0,661.0 279.0,660.8 280.0,660.6 281.0,660.4 282.0,660.2 283.0,659.9 284.0,659.7 285.0,659.4 286.0,659.1 287.0,658.8 288.0,658.5 289.0,658.1 290.0,657.7 291.0,657.3 292.0,656.9 293.0,656.4 294.0,655.9 295.0,655.4 296.0,654.8 297.0,654.2 298.0,653.5 299.0,652.8 300.0,652.0 301.0,651.2 302.0,650.3 303.0,649.3 304.0,648.3 305.0,647.2 306.0,646.0 307.0,644.7 308.0,643.4 309.0,642.0 310.0,640.6 311.0,639.2 312.0,637.7 313.0,636.2 314.0,634.8 315.0,633.4 316.0,632.2 317.0,631.1 318.0,630.2 319.0,629.5 320.0,629.1 321.0,629.0 322.0,629.1 323.0,629.6 324.0,630.3 325.0,631.2 326.0,632.3 327.0,633.6 328.0,634.9 329.0,636.4 330.0,637.9 331.0,639.3 332.0,640.8 333.0,642.2 334.0,643.6 335.0,644.9 336.0,646.1 337.0,647.3 338.0,648.4 339.0,649.4 340.0,650.4 341.0,651.3 342.0,652.1 343.0,652.9 344.0,653.6 345.0,654.3 346.0,654.9 347.0,655.5 348.0,656.0 349.0,656.5 350.0,657.0 351.0,657.4 352.0,657.8 353.0,658.2 354.0,658.5 355.0,658.8 356.0,659.1 357.0,659.4 358.0,659.7 359.0,659.9 360.0,660.2 361.0,660.4 362.0,660.6 363.0,660.8 364.0,661.0 365.0,661.2 366.0,661.3 367.0,661.5 368.0,661.6 369.0,661.8 370.0,661.9 371.0,662.0 372.0,662.2 373.0,662.3 374.0,662.4 375.0,662.5 376.0,662.6 377.0,662.7 378.0,662.8 379.0,662.8 380.0,662.9 381.0,663.0 382.0,663.1 383.0,663.1 384.0,663.2 385.0,663.3 386.0,663.3 387.0,663.4 388.0,663.4 389.0,663.5 390.0,663.6 391.0,663.6 392.0,663.6 393.0,663.7 394.0,663.7 395.0,663.8 396.0,663.8 397.0,663.9 398.0,663.9 399.0,663.9 400.0,664.0 401.0,664.0 402.0,664.0 403.0,664.1 404.0,664.1 405.0,664.1 406.0,664.2 407.0,664.2 408.0,664.2 409.0,664.2 410.0,664.3 411.0,664.3 412.0,664.3 413.0,664.3 414.0,664.4 415.0,664.4 416.0,664.4 417.0,664.4 418.0,664.4 419.0,664.5 420.0,664.5 421.0,664.5 422.0,664.5 423.0,664.5 424.0,664.5 425.0,664.6 426.0,664.6 427.0,664.6 428.0,664.6 429.0,664.6 430.0,664.6 431.0,664.6 432.0,664.7 433.0,664.7 434.0,664.7 435.0,664.7 436.0,664.7 437.0,664.7 438.0,664.7 439.0,664.7 440.0,664.8 441.0,664.8 442.0,664.8 443.0,664.8 444.0,664.8 445.0,664.8 446.0,664.8 447.0,664.8 448.0,664.8 449.0,664.8 450.0,664.9 451.0,664.9 452.0,664.9 453.0,664.9 454.0,664.9 455.0,664.9 456.0,664.9 457.0,664.9 458.0,664.9 459.0,664.9 460.0,664.9 461.0,664.9 462.0,664.9 463.0,664.9 464.0,665.0 465.0,665.0 466.0,665.0 467.0,665.0 468.0,665.0 469.0,665.0 470.0,665.0 471.0,665.0 472.0,665.0 473.0,665.0 474.0,665.0 475.0,665.0 476.0,665.0 477.0,665.0 478.0,665.0 479.0,665.0 480.0,665.0 481.0,665.0 482.0,665.0 483.0,665.0 484.0,665.1 485.0,665.1 486.0,665.1 487.0,665.1 488.0,665.1 489.0,665.1 490.0,665.1 491.0,665.1 492.0,665.1 493.0,665.1 494.0,665.1 495.0,665.1 496.0,665.1 497.0,665.1 498.0,665.1 499.0,665.1 500.0,665.1 501.0,665.1 502.0,665.1 503.0,665.1 504.0,665.1 505.0,665.1 506.0,665.1 507.0,665.1 508.0,665.1 509.0,665.1 510.0,665.1 511.0,665.1 512.0,665.1 513.0,665.1 514.0,665.2 515.0,665.2 516.0,665.2 517.0,665.2 518.0,665.2 519.0,665.2 520.0,665.2 521.0,665.2 522.0,665.2 523.0,665.2 524.0,665.2 525.0,665.2 526.0,665.2 527.0,665.2 528.0,665.2 529.0,665.2 530.0,665.2 531.0,665.2 532.0,665.2 533.0,665.2 534.0,665.2 535.0,665.2 536.0,665.2 537.0,665.2 538.0,665.2 539.0,665.2 540.0,665.2 541.0,665.2 542.0,665.2 543.0,665.2 544.0,665.2 545.0,665.2 546.0,665.2 547.0,665.2 548.0,665.2 549.0,665.2 550.0,665.2 551.0,665.2 552.0,665.2 553.0,665.2 554.0,665.2 555.0,665.2 556.0,665.2 557.0,665.2 558.0,665.2 559.0,665.2 560.0,665.2 561.0,665.2 562.0,665.2 563.0,665.2 564.0,665.2 565.0,665.2 566.0,665.2 567.0,665.2 568.0,665.2 569.0,665.2 570.0,665.3 571.0,665.3 572.0,665.3 573.0,665.3 574.0,665.3" fill="none" stroke="#f040f0" stroke-width="2.3" stroke-linejoin="round"/>
<polyline points="151.0,664.0 152.0,664.0 153.0,664.0 154.0,664.0 155.0,664.0 156.0,663.9 157.0,663.9 158.0,663.9 159.0,663.9 160.0,663.9 161.0,663.9 162.0,663.9 163.0,663.8 164.0,663.8 165.0,663.8 166.0,663.8 167.0,663.8 168.0,663.8 169.0,663.7 170.0,663.7 171.0,663.7 172.0,663.7 173.0,663.7 174.0,663.7 175.0,663.6 176.0,663.6 177.0,663.6 178.0,663.6 179.0,663.6 180.0,663.6 181.0,663.5 182.0,663.5 183.0,663.5 184.0,663.5 185.0,663.5 186.0,663.4 187.0,663.4 188.0,663.4 189.0,663.4 190.0,663.3 191.0,663.3 192.0,663.3 193.0,663.3 194.0,663.2 195.0,663.2 196.0,663.2 197.0,663.2 198.0,663.1 199.0,663.1 200.0,663.1 201.0,663.1 202.0,663.0 203.0,663.0 204.0,663.0 205.0,663.0 206.0,662.9 207.0,662.9 208.0,662.9 209.0,662.8 210.0,662.8 211.0,662.8 212.0,662.7 213.0,662.7 214.0,662.7 215.0,662.6 216.0,662.6 217.0,662.6 218.0,662.5 219.0,662.5 220.0,662.4 221.0,662.4 222.0,662.4 223.0,662.3 224.0,662.3 225.0,662.2 226.0,662.2 227.0,662.2 228.0,662.1 229.0,662.1 230.0,662.0 231.0,662.0 232.0,661.9 233.0,661.9 234.0,661.8 235.0,661.8 236.0,661.7 237.0,661.7 238.0,661.6 239.0,661.5 240.0,661.5 241.0,661.4 242.0,661.4 243.0,661.3 244.0,661.2 245.0,661.2 246.0,661.1 247.0,661.0 248.0,661.0 249.0,660.9 250.0,660.8 251.0,660.7 252.0,660.7 253.0,660.6 254.0,660.5 255.0,660.4 256.0,660.3 257.0,660.2 258.0,660.2 259.0,660.1 260.0,660.0 261.0,659.9 262.0,659.8 263.0,659.7 264.0,659.6 265.0,659.5 266.0,659.3 267.0,659.2 268.0,659.1 269.0,659.0 270.0,658.9 271.0,658.7 272.0,658.6 273.0,658.5 274.0,658.3 275.0,658.2 276.0,658.0 277.0,657.9 278.0,657.7 279.0,657.6 280.0,657.4 281.0,657.2 282.0,657.0 283.0,656.9 284.0,656.7 285.0,656.5 286.0,656.3 287.0,656.1 288.0,655.8 289.0,655.6 290.0,655.4 291.0,655.1 292.0,654.9 293.0,654.6 294.0,654.4 295.0,654.1 296.0,653.8 297.0,653.5 298.0,653.2 299.0,652.9 300.0,652.5 301.0,652.2 302.0,651.8 303.0,651.4 304.0,651.0 305.0,650.6 306.0,650.2 307.0,649.8 308.0,649.3 309.0,648.8 310.0,648.3 311.0,647.8 312.0,647.3 313.0,646.7 314.0,646.1 315.0,645.5 316.0,644.8 317.0,644.1 318.0,643.4 319.0,642.7 320.0,641.9 321.0,641.1 322.0,640.2 323.0,639.3 324.0,638.3 325.0,637.3 326.0,636.3 327.0,635.2 328.0,634.0 329.0,632.7 330.0,631.4 331.0,630.1 332.0,628.6 333.0,627.1 334.0,625.5 335.0,623.8 336.0,622.0 337.0,620.1 338.0,618.1 339.0,616.0 340.0,613.8 341.0,611.5 342.0,609.0 343.0,606.4 344.0,603.7 345.0,600.8 346.0,597.8 347.0,594.6 348.0,591.3 349.0,587.8 350.0,584.2 351.0,580.5 352.0,576.6 353.0,572.7 354.0,568.6 355.0,564.5 356.0,560.3 357.0,556.2 358.0,552.1 359.0,548.1 360.0,544.3 361.0,540.6 362.0,537.2 363.0,534.2 364.0,531.5 365.0,529.3 366.0,527.6 367.0,526.5 368.0,525.9 369.0,525.8 370.0,526.4 371.0,527.5 372.0,529.2 373.0,531.4 374.0,534.0 375.0,537.0 376.0,540.4 377.0,544.0 378.0,547.9 379.0,551.9 380.0,556.0 381.0,560.1 382.0,564.2 383.0,568.4 384.0,572.4 385.0,576.4 386.0,580.3 387.0,584.0 388.0,587.6 389.0,591.1 390.0,594.4 391.0,597.6 392.0,600.6 393.0,603.5 394.0,606.2 395.0,608.8 396.0,611.3 397.0,613.7 398.0,615.9 399.0,618.0 400.0,620.0 401.0,621.9 402.0,623.7 403.0,625.4 404.0,627.0 405.0,628.5 406.0,630.0 407.0,631.4 408.0,632.7 409.0,633.9 410.0,635.1 411.0,636.2 412.0,637.3 413.0,638.3 414.0,639.2 415.0,640.1 416.0,641.0 417.0,641.8 418.0,642.6 419.0,643.4 420.0,644.1 421.0,644.8 422.0,645.4 423.0,646.1 424.0,646.7 425.0,647.2 426.0,647.8 427.0,648.3 428.0,648.8 429.0,649.3 430.0,649.7 431.0,650.2 432.0,650.6 433.0,651.0 434.0,651.4 435.0,651.8 436.0,652.2 437.0,652.5 438.0,652.8 439.0,653.2 440.0,653.5 441.0,653.8 442.0,654.1 443.0,654.3 444.0,654.6 445.0,654.9 446.0,655.1 447.0,655.4 448.0,655.6 449.0,655.8 450.0,656.0 451.0,656.2 452.0,656.5 453.0,656.7 454.0,656.8 455.0,657.0 456.0,657.2 457.0,657.4 458.0,657.5 459.0,657.7 460.0,657.9 461.0,658.0 462.0,658.2 463.0,658.3 464.0,658.5 465.0,658.6 466.0,658.7 467.0,658.9 468.0,659.0 469.0,659.1 470.0,659.2 471.0,659.3 472.0,659.4 473.0,659.6 474.0,659.7 475.0,659.8 476.0,659.9 477.0,660.0 478.0,660.1 479.0,660.1 480.0,660.2 481.0,660.3 482.0,660.4 483.0,660.5 484.0,660.6 485.0,660.7 486.0,660.7 487.0,660.8 488.0,660.9 489.0,661.0 490.0,661.0 491.0,661.1 492.0,661.2 493.0,661.2 494.0,661.3 495.0,661.4 496.0,661.4 497.0,661.5 498.0,661.5 499.0,661.6 500.0,661.7 501.0,661.7 502.0,661.8 503.0,661.8 504.0,661.9 505.0,661.9 506.0,662.0 507.0,662.0 508.0,662.1 509.0,662.1 510.0,662.1 511.0,662.2 512.0,662.2 513.0,662.3 514.0,662.3 515.0,662.4 516.0,662.4 517.0,662.4 518.0,662.5 519.0,662.5 520.0,662.6 521.0,662.6 522.0,662.6 523.0,662.7 524.0,662.7 525.0,662.7 526.0,662.8 527.0,662.8 528.0,662.8 529.0,662.9 530.0,662.9 531.0,662.9 532.0,663.0 533.0,663.0 534.0,663.0 535.0,663.0 536.0,663.1 537.0,663.1 538.0,663.1 539.0,663.1 540.0,663.2 541.0,663.2 542.0,663.2 543.0,663.2 544.0,663.3 545.0,663.3 546.0,663.3 547.0,663.3 548.0,663.4 549.0,663.4 550.0,663.4 551.0,663.4 552.0,663.4 553.0,663.5 554.0,663.5 555.0,663.5 556.0,663.5 557.0,663.5 558.0,663.6 559.0,663.6 560.0,663.6 561.0,663.6 562.0,663.6 563.0,663.7 564.0,663.7 565.0,663.7 566.0,663.7 567.0,663.7 568.0,663.7 569.0,663.8 570.0,663.8 571.0,663.8 572.0,663.8 573.0,663.8 574.0,663.8" fill="none" stroke="#929232" stroke-width="2.3" stroke-linejoin="round"/>
<polyline points="151.0,663.6 152.0,663.6 153.0,663.6 154.0,663.6 155.0,663.6 156.0,663.5 157.0,663.5 158.0,663.5 159.0,663.5 160.0,663.5 161.0,663.5 162.0,663.5 163.0,663.4 164.0,663.4 165.0,663.4 166.0,663.4 167.0,663.4 168.0,663.4 169.0,663.3 170.0,663.3 171.0,663.3 172.0,663.3 173.0,663.3 174.0,663.2 175.0,663.2 176.0,663.2 177.0,663.2 178.0,663.2 179.0,663.2 180.0,663.1 181.0,663.1 182.0,663.1 183.0,663.1 184.0,663.0 185.0,663.0 186.0,663.0 187.0,663.0 188.0,663.0 189.0,662.9 190.0,662.9 191.0,662.9 192.0,662.9 193.0,662.8 194.0,662.8 195.0,662.8 196.0,662.8 197.0,662.7 198.0,662.7 199.0,662.7 200.0,662.7 201.0,662.6 202.0,662.6 203.0,662.6 204.0,662.6 205.0,662.5 206.0,662.5 207.0,662.5 208.0,662.4 209.0,662.4 210.0,662.4 211.0,662.3 212.0,662.3 213.0,662.3 214.0,662.3 215.0,662.2 216.0,662.2 217.0,662.1 218.0,662.1 219.0,662.1 220.0,662.0 221.0,662.0 222.0,662.0 223.0,661.9 224.0,661.9 225.0,661.9 226.0,661.8 227.0,661.8 228.0,661.7 229.0,661.7 230.0,661.6 231.0,661.6 232.0,661.6 233.0,661.5 234.0,661.5 235.0,661.4 236.0,661.4 237.0,661.3 238.0,661.3 239.0,661.2 240.0,661.2 241.0,661.1 242.0,661.1 243.0,661.0 244.0,661.0 245.0,660.9 246.0,660.9 247.0,660.8 248.0,660.7 249.0,660.7 250.0,660.6 251.0,660.6 252.0,660.5 253.0,660.4 254.0,660.4 255.0,660.3 256.0,660.2 257.0,660.2 258.0,660.1 259.0,660.0 260.0,659.9 261.0,659.9 262.0,659.8 263.0,659.7 264.0,659.6 265.0,659.5 266.0,659.5 267.0,659.4 268.0,659.3 269.0,659.2 270.0,659.1 271.0,659.0 272.0,658.9 273.0,658.8 274.0,658.7 275.0,658.6 276.0,658.5 277.0,658.4 278.0,658.3 279.0,658.2 280.0,658.1 281.0,658.0 282.0,657.8 283.0,657.7 284.0,657.6 285.0,657.5 286.0,657.3 287.0,657.2 288.0,657.0 289.0,656.9 290.0,656.8 291.0,656.6 292.0,656.5 293.0,656.3 294.0,656.1 295.0,656.0 296.0,655.8 297.0,655.6 298.0,655.4 299.0,655.3 300.0,655.1 301.0,654.9 302.0,654.7 303.0,654.5 304.0,654.3 305.0,654.0 306.0,653.8 307.0,653.6 308.0,653.3 309.0,653.1 310.0,652.8 311.0,652.6 312.0,652.3 313.0,652.0 314.0,651.8 315.0,651.5 316.0,651.2 317.0,650.8 318.0,650.5 319.0,650.2 320.0,649.8 321.0,649.5 322.0,649.1 323.0,648.7 324.0,648.3 325.0,647.9 326.0,647.5 327.0,647.1 328.0,646.6 329.0,646.1 330.0,645.7 331.0,645.2 332.0,644.6 333.0,644.1 334.0,643.5 335.0,642.9 336.0,642.3 337.0,641.7 338.0,641.0 339.0,640.4 340.0,639.6 341.0,638.9 342.0,638.1 343.0,637.3 344.0,636.5 345.0,635.6 346.0,634.7 347.0,633.7 348.0,632.8 349.0,631.7 350.0,630.6 351.0,629.5 352.0,628.3 353.0,627.1 354.0,625.8 355.0,624.4 356.0,623.0 357.0,621.5 358.0,619.9 359.0,618.3 360.0,616.5 361.0,614.7 362.0,612.8 363.0,610.8 364.0,608.7 365.0,606.5 366.0,604.2 367.0,601.8 368.0,599.2 369.0,596.5 370.0,593.7 371.0,590.7 372.0,587.6 373.0,584.3 374.0,580.9 375.0,577.3 376.0,573.5 377.0,569.6 378.0,565.5 379.0,561.2 380.0,556.7 381.0,552.0 382.0,547.2 383.0,542.2 384.0,537.1 385.0,531.9 386.0,526.5 387.0,521.1 388.0,515.6 389.0,510.1 390.0,504.7 391.0,499.3 392.0,494.1 393.0,489.2 394.0,484.5 395.0,480.2 396.0,476.3 397.0,472.8 398.0,470.0 399.0,467.7 400.0,466.1 401.0,465.2 402.0,465.0 403.0,465.5 404.0,466.7 405.0,468.6 406.0,471.1 407.0,474.2 408.0,477.8 409.0,481.9 410.0,486.4 411.0,491.2 412.0,496.3 413.0,501.6 414.0,506.9 415.0,512.4 416.0,517.9 417.0,523.4 418.0,528.8 419.0,534.1 420.0,539.3 421.0,544.3 422.0,549.2 423.0,554.0 424.0,558.6 425.0,563.0 426.0,567.2 427.0,571.3 428.0,575.1 429.0,578.8 430.0,582.4 431.0,585.7 432.0,588.9 433.0,592.0 434.0,594.9 435.0,597.7 436.0,600.3 437.0,602.8 438.0,605.2 439.0,607.5 440.0,609.6 441.0,611.7 442.0,613.6 443.0,615.5 444.0,617.3 445.0,619.0 446.0,620.6 447.0,622.1 448.0,623.6 449.0,625.0 450.0,626.3 451.0,627.6 452.0,628.8 453.0,630.0 454.0,631.1 455.0,632.2 456.0,633.2 457.0,634.2 458.0,635.1 459.0,636.0 460.0,636.8 461.0,637.7 462.0,638.5 463.0,639.2 464.0,639.9 465.0,640.6 466.0,641.3 467.0,642.0 468.0,642.6 469.0,643.2 470.0,643.8 471.0,644.3 472.0,644.9 473.0,645.4 474.0,645.9 475.0,646.3 476.0,646.8 477.0,647.3 478.0,647.7 479.0,648.1 480.0,648.5 481.0,648.9 482.0,649.3 483.0,649.6 484.0,650.0 485.0,650.3 486.0,650.7 487.0,651.0 488.0,651.3 489.0,651.6 490.0,651.9 491.0,652.2 492.0,652.4 493.0,652.7 494.0,653.0 495.0,653.2 496.0,653.4 497.0,653.7 498.0,653.9 499.0,654.1 500.0,654.3 501.0,654.6 502.0,654.8 503.0,655.0 504.0,655.2 505.0,655.3 506.0,655.5 507.0,655.7 508.0,655.9 509.0,656.0 510.0,656.2 511.0,656.4 512.0,656.5 513.0,656.7 514.0,656.8 515.0,657.0 516.0,657.1 517.0,657.2 518.0,657.4 519.0,657.5 520.0,657.6 521.0,657.8 522.0,657.9 523.0,658.0 524.0,658.1 525.0,658.2 526.0,658.3 527.0,658.5 528.0,658.6 529.0,658.7 530.0,658.8 531.0,658.9 532.0,659.0 533.0,659.1 534.0,659.1 535.0,659.2 536.0,659.3 537.0,659.4 538.0,659.5 539.0,659.6 540.0,659.7 541.0,659.7 542.0,659.8 543.0,659.9 544.0,660.0 545.0,660.0 546.0,660.1 547.0,660.2 548.0,660.3 549.0,660.3 550.0,660.4 551.0,660.5 552.0,660.5 553.0,660.6 554.0,660.6 555.0,660.7 556.0,660.8 557.0,660.8 558.0,660.9 559.0,660.9 560.0,661.0 561.0,661.0 562.0,661.1 563.0,661.1 564.0,661.2 565.0,661.3 566.0,661.3 567.0,661.3 568.0,661.4 569.0,661.4 570.0,661.5 571.0,661.5 572.0,661.6 573.0,661.6 574.0,661.7" fill="none" stroke="#9048fa" stroke-width="2.3" stroke-linejoin="round"/>
<polyline points="151.0,664.7 152.0,664.7 153.0,664.7 154.0,664.7 155.0,664.7 156.0,664.7 157.0,664.7 158.0,664.7 159.0,664.7 160.0,664.7 161.0,664.7 162.0,664.7 163.0,664.7 164.0,664.7 165.0,664.7 166.0,664.7 167.0,664.6 168.0,664.6 169.0,664.6 170.0,664.6 171.0,664.6 172.0,664.6 173.0,664.6 174.0,664.6 175.0,664.6 176.0,664.6 177.0,664.6 178.0,664.6 179.0,664.6 180.0,664.6 181.0,664.6 182.0,664.6 183.0,664.5 184.0,664.5 185.0,664.5 186.0,664.5 187.0,664.5 188.0,664.5 189.0,664.5 190.0,664.5 191.0,664.5 192.0,664.5 193.0,664.5 194.0,664.5 195.0,664.5 196.0,664.4 197.0,664.4 198.0,664.4 199.0,664.4 200.0,664.4 201.0,664.4 202.0,664.4 203.0,664.4 204.0,664.4 205.0,664.4 206.0,664.4 207.0,664.4 208.0,664.3 209.0,664.3 210.0,664.3 211.0,664.3 212.0,664.3 213.0,664.3 214.0,664.3 215.0,664.3 216.0,664.3 217.0,664.3 218.0,664.2 219.0,664.2 220.0,664.2 221.0,664.2 222.0,664.2 223.0,664.2 224.0,664.2 225.0,664.2 226.0,664.2 227.0,664.1 228.0,664.1 229.0,664.1 230.0,664.1 231.0,664.1 232.0,664.1 233.0,664.1 234.0,664.1 235.0,664.0 236.0,664.0 237.0,664.0 238.0,664.0 239.0,664.0 240.0,664.0 241.0,664.0 242.0,663.9 243.0,663.9 244.0,663.9 245.0,663.9 246.0,663.9 247.0,663.9 248.0,663.8 249.0,663.8 250.0,663.8 251.0,663.8 252.0,663.8 253.0,663.8 254.0,663.7 255.0,663.7 256.0,663.7 257.0,663.7 258.0,663.7 259.0,663.6 260.0,663.6 261.0,663.6 262.0,663.6 263.0,663.6 264.0,663.5 265.0,663.5 266.0,663.5 267.0,663.5 268.0,663.4 269.0,663.4 270.0,663.4 271.0,663.4 272.0,663.3 273.0,663.3 274.0,663.3 275.0,663.3 276.0,663.2 277.0,663.2 278.0,663.2 279.0,663.1 280.0,663.1 281.0,663.1 282.0,663.1 283.0,663.0 284.0,663.0 285.0,663.0 286.0,662.9 287.0,662.9 288.0,662.9 289.0,662.8 290.0,662.8 291.0,662.8 292.0,662.7 293.0,662.7 294.0,662.6 295.0,662.6 296.0,662.6 297.0,662.5 298.0,662.5 299.0,662.4 300.0,662.4 301.0,662.3 302.0,662.3 303.0,662.2 304.0,662.2 305.0,662.2 306.0,662.1 307.0,662.0 308.0,662.0 309.0,661.9 310.0,661.9 311.0,661.8 312.0,661.8 313.0,661.7 314.0,661.6 315.0,661.6 316.0,661.5 317.0,661.5 318.0,661.4 319.0,661.3 320.0,661.2 321.0,661.2 322.0,661.1 323.0,661.0 324.0,660.9 325.0,660.9 326.0,660.8 327.0,660.7 328.0,660.6 329.0,660.5 330.0,660.4 331.0,660.3 332.0,660.2 333.0,660.1 334.0,660.0 335.0,659.9 336.0,659.8 337.0,659.7 338.0,659.6 339.0,659.4 340.0,659.3 341.0,659.2 342.0,659.0 343.0,658.9 344.0,658.8 345.0,658.6 346.0,658.5 347.0,658.3 348.0,658.2 349.0,658.0 350.0,657.8 351.0,657.6 352.0,657.4 353.0,657.3 354.0,657.1 355.0,656.8 356.0,656.6 357.0,656.4 358.0,656.2 359.0,655.9 360.0,655.7 361.0,655.4 362.0,655.2 363.0,654.9 364.0,654.6 365.0,654.3 366.0,654.0 367.0,653.7 368.0,653.3 369.0,653.0 370.0,652.6 371.0,652.2 372.0,651.8 373.0,651.4 374.0,650.9 375.0,650.5 376.0,650.0 377.0,649.5 378.0,649.0 379.0,648.4 380.0,647.8 381.0,647.2 382.0,646.6 383.0,645.9 384.0,645.2 385.0,644.5 386.0,643.7 387.0,642.9 388.0,642.0 389.0,641.1 390.0,640.1 391.0,639.1 392.0,638.0 393.0,636.9 394.0,635.7 395.0,634.4 396.0,633.1 397.0,631.6 398.0,630.1 399.0,628.5 400.0,626.8 401.0,625.1 402.0,623.2 403.0,621.1 404.0,619.0 405.0,616.7 406.0,614.3 407.0,611.8 408.0,609.1 409.0,606.3 410.0,603.3 411.0,600.2 412.0,596.9 413.0,593.4 414.0,589.8 415.0,586.1 416.0,582.2 417.0,578.2 418.0,574.1 419.0,570.0 420.0,565.9 421.0,561.7 422.0,557.7 423.0,553.9 424.0,550.2 425.0,546.8 426.0,543.8 427.0,541.2 428.0,539.1 429.0,537.6 430.0,536.6 431.0,536.3 432.0,536.6 433.0,537.5 434.0,539.0 435.0,541.0 436.0,543.6 437.0,546.6 438.0,549.9 439.0,553.6 440.0,557.4 441.0,561.4 442.0,565.5 443.0,569.7 444.0,573.8 445.0,577.9 446.0,581.9 447.0,585.7 448.0,589.5 449.0,593.1 450.0,596.6 451.0,599.9 452.0,603.1 453.0,606.1 454.0,608.9 455.0,611.6 456.0,614.1 457.0,616.6 458.0,618.8 459.0,621.0 460.0,623.0 461.0,624.9 462.0,626.7 463.0,628.4 464.0,630.0 465.0,631.5 466.0,633.0 467.0,634.3 468.0,635.6 469.0,636.8 470.0,637.9 471.0,639.0 472.0,640.0 473.0,641.0 474.0,641.9 475.0,642.8 476.0,643.6 477.0,644.4 478.0,645.2 479.0,645.9 480.0,646.5 481.0,647.2 482.0,647.8 483.0,648.4 484.0,648.9 485.0,649.5 486.0,650.0 487.0,650.4 488.0,650.9 489.0,651.4 490.0,651.8 491.0,652.2 492.0,652.6 493.0,652.9 494.0,653.3 495.0,653.6 496.0,654.0 497.0,654.3 498.0,654.6 499.0,654.9 500.0,655.1 501.0,655.4 502.0,655.7 503.0,655.9 504.0,656.2 505.0,656.4 506.0,656.6 507.0,656.8 508.0,657.0 509.0,657.2 510.0,657.4 511.0,657.6 512.0,657.8 513.0,658.0 514.0,658.1 515.0,658.3 516.0,658.5 517.0,658.6 518.0,658.8 519.0,658.9 520.0,659.0 521.0,659.2 522.0,659.3 523.0,659.4 524.0,659.6 525.0,659.7 526.0,659.8 527.0,659.9 528.0,660.0 529.0,660.1 530.0,660.2 531.0,660.3 532.0,660.4 533.0,660.5 534.0,660.6 535.0,660.7 536.0,660.8 537.0,660.8 538.0,660.9 539.0,661.0 540.0,661.1 541.0,661.2 542.0,661.2 543.0,661.3 544.0,661.4 545.0,661.4 546.0,661.5 547.0,661.6 548.0,661.6 549.0,661.7 550.0,661.8 551.0,661.8 552.0,661.9 553.0,661.9 554.0,662.0 555.0,662.0 556.0,662.1 557.0,662.1 558.0,662.2 559.0,662.2 560.0,662.3 561.0,662.3 562.0,662.4 563.0,662.4 564.0,662.5 565.0,662.5 566.0,662.6 567.0,662.6 568.0,662.6 569.0,662.7 570.0,662.7 571.0,662.8 572.0,662.8 573.0,662.8 574.0,662.9" fill="none" stroke="#ff8a26" stroke-width="2.3" stroke-linejoin="round"/>
<polyline points="151.0,644.2 152.0,643.6 153.0,643.0 154.0,642.2 155.0,641.4 156.0,640.5 157.0,639.7 158.0,638.9 159.0,637.9 160.0,637.1 161.0,636.0 162.0,635.0 163.0,633.6 164.0,632.5 165.0,631.0 166.0,629.7 167.0,628.3 168.0,626.8 169.0,625.2 170.0,623.4 171.0,621.6 172.0,619.7 173.0,617.6 174.0,615.3 175.0,612.8 176.0,610.1 177.0,607.1 178.0,604.2 179.0,601.0 180.0,597.5 181.0,593.4 182.0,589.0 183.0,584.4 184.0,579.3 185.0,574.1 186.0,568.5 187.0,562.7 188.0,556.8 189.0,551.0 190.0,545.7 191.0,540.9 192.0,536.5 193.0,533.0 194.0,530.2 195.0,529.0 196.0,529.0 197.0,530.3 198.0,532.5 199.0,535.5 200.0,539.3 201.0,543.4 202.0,547.9 203.0,552.4 204.0,556.8 205.0,560.8 206.0,564.3 207.0,567.6 208.0,570.6 209.0,573.1 210.0,575.0 211.0,576.7 212.0,578.1 213.0,579.2 214.0,580.0 215.0,580.6 216.0,580.9 217.0,580.9 218.0,580.6 219.0,580.1 220.0,579.4 221.0,578.3 222.0,577.2 223.0,575.8 224.0,574.4 225.0,572.5 226.0,570.5 227.0,568.2 228.0,566.0 229.0,563.4 230.0,560.8 231.0,558.0 232.0,555.2 233.0,552.5 234.0,549.8 235.0,547.3 236.0,545.0 237.0,542.6 238.0,540.5 239.0,538.4 240.0,536.9 241.0,535.4 242.0,534.4 243.0,533.6 244.0,533.4 245.0,533.4 246.0,533.8 247.0,534.4 248.0,535.5 249.0,537.1 250.0,538.9 251.0,540.8 252.0,543.0 253.0,545.2 254.0,547.7 255.0,550.3 256.0,553.0 257.0,555.7 258.0,558.3 259.0,560.9 260.0,563.5 261.0,566.0 262.0,568.2 263.0,570.1 264.0,572.1 265.0,573.7 266.0,575.4 267.0,576.6 268.0,577.9 269.0,578.7 270.0,579.4 271.0,579.7 272.0,579.9 273.0,579.8 274.0,579.4 275.0,578.7 276.0,577.7 277.0,576.7 278.0,575.3 279.0,573.7 280.0,571.7 281.0,569.3 282.0,566.8 283.0,564.3 284.0,561.8 285.0,558.9 286.0,556.0 287.0,553.5 288.0,551.9 289.0,550.7 290.0,550.0 291.0,549.8 292.0,550.3 293.0,551.4 294.0,553.0 295.0,555.2 296.0,557.5 297.0,559.8 298.0,562.3 299.0,564.6 300.0,567.0 301.0,569.2 302.0,570.9 303.0,572.1 304.0,573.1 305.0,574.0 306.0,574.9 307.0,575.3 308.0,575.3 309.0,574.9 310.0,574.4 311.0,573.7 312.0,573.0 313.0,571.9 314.0,570.9 315.0,569.7 316.0,568.6 317.0,567.5 318.0,566.3 319.0,565.3 320.0,564.4 321.0,563.9 322.0,563.6 323.0,563.3 324.0,563.2 325.0,563.1 326.0,563.2 327.0,563.6 328.0,563.8 329.0,564.1 330.0,564.1 331.0,564.1 332.0,563.8 333.0,563.4 334.0,563.0 335.0,562.3 336.0,561.4 337.0,560.4 338.0,559.2 339.0,557.6 340.0,555.8 341.0,553.8 342.0,551.5 343.0,548.7 344.0,545.9 345.0,542.9 346.0,539.5 347.0,536.1 348.0,532.3 349.0,528.5 350.0,524.2 351.0,519.9 352.0,515.2 353.0,510.3 354.0,505.3 355.0,500.2 356.0,494.9 357.0,489.6 358.0,484.0 359.0,478.5 360.0,473.0 361.0,467.6 362.0,462.5 363.0,457.3 364.0,452.7 365.0,448.0 366.0,443.9 367.0,440.3 368.0,437.2 369.0,434.4 370.0,431.9 371.0,429.9 372.0,428.1 373.0,426.7 374.0,425.6 375.0,424.8 376.0,424.1 377.0,423.5 378.0,422.9 379.0,422.3 380.0,421.6 381.0,420.7 382.0,419.7 383.0,418.2 384.0,416.4 385.0,414.3 386.0,412.1 387.0,409.6 388.0,407.0 389.0,404.2 390.0,401.5 391.0,398.5 392.0,395.1 393.0,391.8 394.0,388.5 395.0,385.6 396.0,382.8 397.0,380.4 398.0,378.4 399.0,376.8 400.0,375.7 401.0,374.8 402.0,374.5 403.0,374.7 404.0,375.7 405.0,377.1 406.0,378.8 407.0,380.7 408.0,383.3 409.0,386.2 410.0,389.3 411.0,392.4 412.0,395.5 413.0,398.7 414.0,402.0 415.0,405.2 416.0,408.1 417.0,410.6 418.0,413.2 419.0,415.4 420.0,417.5 421.0,419.2 422.0,420.6 423.0,422.1 424.0,423.5 425.0,425.2 426.0,426.8 427.0,428.6 428.0,430.5 429.0,432.7 430.0,435.5 431.0,438.9 432.0,442.5 433.0,446.5 434.0,451.1 435.0,456.3 436.0,461.8 437.0,467.3 438.0,473.3 439.0,479.2 440.0,485.5 441.0,491.8 442.0,498.2 443.0,504.4 444.0,510.2 445.0,516.2 446.0,521.7 447.0,527.3 448.0,532.5 449.0,537.6 450.0,542.5 451.0,547.0 452.0,551.4 453.0,555.6 454.0,559.7 455.0,563.6 456.0,567.4 457.0,570.9 458.0,574.2 459.0,577.3 460.0,580.4 461.0,583.5 462.0,586.3 463.0,589.1 464.0,591.6 465.0,594.0 466.0,596.5 467.0,598.7 468.0,601.0 469.0,603.2 470.0,605.3 471.0,607.3 472.0,609.0 473.0,610.9 474.0,612.6 475.0,614.3 476.0,615.9 477.0,617.6 478.0,619.2 479.0,620.6 480.0,621.9 481.0,622.9 482.0,624.0 483.0,625.0 484.0,625.9 485.0,626.9 486.0,628.0 487.0,629.1 488.0,629.9 489.0,630.7 490.0,631.4 491.0,632.2 492.0,632.7 493.0,633.3 494.0,634.1 495.0,635.0 496.0,635.7 497.0,636.3 498.0,636.7 499.0,637.3 500.0,637.9 501.0,638.5 502.0,639.2 503.0,639.9 504.0,640.5 505.0,640.8 506.0,641.2 507.0,641.7 508.0,642.3 509.0,642.8 510.0,643.1 511.0,643.4 512.0,643.9 513.0,644.3 514.0,644.6 515.0,644.9 516.0,645.2 517.0,645.5 518.0,645.6 519.0,645.6 520.0,645.9 521.0,646.2 522.0,646.7 523.0,647.1 524.0,647.5 525.0,647.8 526.0,648.0 527.0,648.3 528.0,648.6 529.0,648.9 530.0,649.2 531.0,649.5 532.0,649.8 533.0,650.0 534.0,650.3 535.0,650.4 536.0,650.7 537.0,650.8 538.0,651.1 539.0,651.4 540.0,651.7 541.0,651.7 542.0,652.1 543.0,652.4 544.0,652.7 545.0,652.8 546.0,652.9 547.0,653.1 548.0,653.1 549.0,653.0 550.0,653.1 551.0,653.2 552.0,653.3 553.0,653.2 554.0,653.2 555.0,653.4 556.0,653.5 557.0,653.9 558.0,654.1 559.0,654.2 560.0,654.1 561.0,654.1 562.0,654.2 563.0,654.5 564.0,654.7 565.0,655.0 566.0,655.1 567.0,655.3 568.0,655.6 569.0,656.0 570.0,656.1 571.0,656.2 572.0,656.2 573.0,656.3 574.0,656.4" fill="none" stroke="#1a0a08" stroke-width="3.0" stroke-linejoin="round"/>
<polyline points="151.0,645.0 152.0,644.4 153.0,643.8 154.0,643.1 155.0,642.4 156.0,641.6 157.0,640.8 158.0,639.9 159.0,639.0 160.0,638.0 161.0,637.0 162.0,635.9 163.0,634.7 164.0,633.5 165.0,632.2 166.0,630.8 167.0,629.4 168.0,627.8 169.0,626.2 170.0,624.5 171.0,622.6 172.0,620.6 173.0,618.5 174.0,616.2 175.0,613.7 176.0,611.0 177.0,608.2 178.0,605.1 179.0,601.7 180.0,598.1 181.0,594.1 182.0,589.8 183.0,585.2 184.0,580.2 185.0,574.9 186.0,569.3 187.0,563.5 188.0,557.7 189.0,551.9 190.0,546.4 191.0,541.4 192.0,537.1 193.0,533.7 194.0,531.3 195.0,530.1 196.0,530.1 197.0,531.2 198.0,533.4 199.0,536.5 200.0,540.3 201.0,544.5 202.0,548.9 203.0,553.3 204.0,557.6 205.0,561.7 206.0,565.4 207.0,568.7 208.0,571.5 209.0,574.0 210.0,576.1 211.0,577.7 212.0,579.1 213.0,580.1 214.0,580.8 215.0,581.3 216.0,581.5 217.0,581.5 218.0,581.2 219.0,580.8 220.0,580.1 221.0,579.2 222.0,578.0 223.0,576.7 224.0,575.1 225.0,573.3 226.0,571.3 227.0,569.1 228.0,566.7 229.0,564.2 230.0,561.5 231.0,558.8 232.0,556.1 233.0,553.4 234.0,550.7 235.0,548.2 236.0,545.7 237.0,543.4 238.0,541.3 239.0,539.4 240.0,537.8 241.0,536.4 242.0,535.4 243.0,534.6 244.0,534.3 245.0,534.3 246.0,534.7 247.0,535.4 248.0,536.5 249.0,537.9 250.0,539.6 251.0,541.6 252.0,543.8 253.0,546.2 254.0,548.7 255.0,551.3 256.0,553.9 257.0,556.6 258.0,559.2 259.0,561.8 260.0,564.3 261.0,566.7 262.0,568.9 263.0,571.0 264.0,572.9 265.0,574.6 266.0,576.2 267.0,577.5 268.0,578.6 269.0,579.5 270.0,580.2 271.0,580.6 272.0,580.8 273.0,580.7 274.0,580.4 275.0,579.7 276.0,578.8 277.0,577.7 278.0,576.2 279.0,574.4 280.0,572.4 281.0,570.2 282.0,567.7 283.0,565.1 284.0,562.4 285.0,559.8 286.0,557.2 287.0,554.9 288.0,553.0 289.0,551.6 290.0,550.8 291.0,550.7 292.0,551.2 293.0,552.3 294.0,553.9 295.0,556.0 296.0,558.3 297.0,560.7 298.0,563.2 299.0,565.6 300.0,567.8 301.0,569.8 302.0,571.6 303.0,573.0 304.0,574.2 305.0,575.1 306.0,575.7 307.0,576.0 308.0,576.1 309.0,575.8 310.0,575.4 311.0,574.7 312.0,573.8 313.0,572.8 314.0,571.7 315.0,570.5 316.0,569.3 317.0,568.2 318.0,567.1 319.0,566.2 320.0,565.4 321.0,564.8 322.0,564.3 323.0,564.1 324.0,564.0 325.0,564.1 326.0,564.3 327.0,564.5 328.0,564.7 329.0,564.9 330.0,565.0 331.0,564.9 332.0,564.8 333.0,564.5 334.0,563.9 335.0,563.2 336.0,562.3 337.0,561.2 338.0,559.8 339.0,558.3 340.0,556.5 341.0,554.4 342.0,552.1 343.0,549.6 344.0,546.8 345.0,543.8 346.0,540.6 347.0,537.1 348.0,533.4 349.0,529.4 350.0,525.2 351.0,520.8 352.0,516.1 353.0,511.3 354.0,506.2 355.0,501.0 356.0,495.7 357.0,490.3 358.0,484.8 359.0,479.3 360.0,473.8 361.0,468.4 362.0,463.2 363.0,458.2 364.0,453.5 365.0,449.1 366.0,445.0 367.0,441.3 368.0,438.0 369.0,435.2 370.0,432.8 371.0,430.8 372.0,429.1 373.0,427.8 374.0,426.8 375.0,425.9 376.0,425.2 377.0,424.5 378.0,423.9 379.0,423.2 380.0,422.4 381.0,421.4 382.0,420.3 383.0,418.9 384.0,417.3 385.0,415.4 386.0,413.2 387.0,410.8 388.0,408.1 389.0,405.3 390.0,402.2 391.0,399.1 392.0,395.9 393.0,392.6 394.0,389.5 395.0,386.5 396.0,383.7 397.0,381.2 398.0,379.1 399.0,377.4 400.0,376.1 401.0,375.4 402.0,375.2 403.0,375.5 404.0,376.4 405.0,377.7 406.0,379.6 407.0,381.8 408.0,384.3 409.0,387.1 410.0,390.2 411.0,393.3 412.0,396.5 413.0,399.8 414.0,402.9 415.0,406.0 416.0,408.9 417.0,411.6 418.0,414.0 419.0,416.3 420.0,418.3 421.0,420.1 422.0,421.7 423.0,423.2 424.0,424.6 425.0,426.0 426.0,427.6 427.0,429.3 428.0,431.4 429.0,433.7 430.0,436.5 431.0,439.8 432.0,443.4 433.0,447.6 434.0,452.2 435.0,457.2 436.0,462.6 437.0,468.3 438.0,474.2 439.0,480.3 440.0,486.5 441.0,492.8 442.0,499.0 443.0,505.1 444.0,511.2 445.0,517.0 446.0,522.7 447.0,528.2 448.0,533.5 449.0,538.5 450.0,543.4 451.0,548.0 452.0,552.4 453.0,556.6 454.0,560.7 455.0,564.5 456.0,568.2 457.0,571.7 458.0,575.1 459.0,578.3 460.0,581.4 461.0,584.4 462.0,587.2 463.0,589.9 464.0,592.5 465.0,595.0 466.0,597.4 467.0,599.7 468.0,601.9 469.0,604.1 470.0,606.2 471.0,608.2 472.0,610.1 473.0,612.0 474.0,613.8 475.0,615.4 476.0,617.0 477.0,618.5 478.0,620.0 479.0,621.3 480.0,622.6 481.0,623.8 482.0,624.9 483.0,626.0 484.0,627.0 485.0,628.0 486.0,628.9 487.0,629.8 488.0,630.6 489.0,631.5 490.0,632.3 491.0,633.0 492.0,633.8 493.0,634.5 494.0,635.2 495.0,635.8 496.0,636.5 497.0,637.1 498.0,637.8 499.0,638.4 500.0,639.0 501.0,639.6 502.0,640.1 503.0,640.7 504.0,641.2 505.0,641.8 506.0,642.3 507.0,642.7 508.0,643.2 509.0,643.6 510.0,644.0 511.0,644.4 512.0,644.8 513.0,645.1 514.0,645.5 515.0,645.8 516.0,646.1 517.0,646.4 518.0,646.7 519.0,646.9 520.0,647.2 521.0,647.5 522.0,647.8 523.0,648.1 524.0,648.3 525.0,648.6 526.0,648.9 527.0,649.2 528.0,649.4 529.0,649.7 530.0,650.0 531.0,650.3 532.0,650.5 533.0,650.8 534.0,651.1 535.0,651.4 536.0,651.6 537.0,651.9 538.0,652.2 539.0,652.4 540.0,652.6 541.0,652.8 542.0,653.0 543.0,653.2 544.0,653.3 545.0,653.4 546.0,653.6 547.0,653.7 548.0,653.8 549.0,653.9 550.0,654.0 551.0,654.1 552.0,654.2 553.0,654.3 554.0,654.4 555.0,654.5 556.0,654.6 557.0,654.8 558.0,654.9 559.0,655.0 560.0,655.2 561.0,655.3 562.0,655.5 563.0,655.6 564.0,655.8 565.0,655.9 566.0,656.1 567.0,656.3 568.0,656.4 569.0,656.6 570.0,656.8 571.0,656.9 572.0,657.0 573.0,657.2 574.0,657.3" fill="none" stroke="#e42e14" stroke-width="2.9" stroke-linejoin="round"/>
</g>
<g>
<line x1="147.1" y1="1008.6" x2="581.9" y2="1008.6" stroke="#ff7b32" stroke-width="2.4"/>
<polyline points="147.1,988.9 148.1,988.1 149.1,987.4 150.1,986.5 151.1,985.7 152.1,984.7 153.1,983.8 154.1,982.7 155.1,981.6 156.1,980.4 157.1,979.2 158.1,977.8 159.1,976.4 160.1,974.9 161.1,973.3 162.1,971.5 163.1,969.7 164.1,967.7 165.1,965.5 166.1,963.2 167.1,960.8 168.1,958.2 169.1,955.4 170.1,952.3 171.1,949.1 172.1,945.6 173.1,941.9 174.1,938.0 175.1,933.8 176.1,929.3 177.1,924.6 178.1,919.6 179.1,914.4 180.1,908.9 181.1,903.3 182.1,897.6 183.1,891.8 184.1,886.0 185.1,880.4 186.1,875.0 187.1,870.1 188.1,865.7 189.1,861.9 190.1,859.0 191.1,857.0 192.1,856.1 193.1,856.1 194.1,857.3 195.1,859.4 196.1,862.4 197.1,866.2 198.1,870.7 199.1,875.7 200.1,881.1 201.1,886.8 202.1,892.6 203.1,898.4 204.1,904.1 205.1,909.7 206.1,915.1 207.1,920.3 208.1,925.3 209.1,930.0 210.1,934.4 211.1,938.6 212.1,942.5 213.1,946.1 214.1,949.6 215.1,952.8 216.1,955.8 217.1,958.6 218.1,961.2 219.1,963.6 220.1,965.8 221.1,968.0 222.1,969.9 223.1,971.8 224.1,973.5 225.1,975.1 226.1,976.6 227.1,978.0 228.1,979.4 229.1,980.6 230.1,981.8 231.1,982.9 232.1,983.9 233.1,984.9 234.1,985.8 235.1,986.7 236.1,987.5 237.1,988.2 238.1,989.0 239.1,989.7 240.1,990.3 241.1,990.9 242.1,991.5 243.1,992.1 244.1,992.6 245.1,993.1 246.1,993.6 247.1,994.0 248.1,994.5 249.1,994.9 250.1,995.3 251.1,995.7 252.1,996.0 253.1,996.4 254.1,996.7 255.1,997.0 256.1,997.3 257.1,997.6 258.1,997.9 259.1,998.2 260.1,998.4 261.1,998.7 262.1,998.9 263.1,999.1 264.1,999.3 265.1,999.5 266.1,999.7 267.1,999.9 268.1,1000.1 269.1,1000.3 270.1,1000.5 271.1,1000.6 272.1,1000.8 273.1,1001.0 274.1,1001.1 275.1,1001.2 276.1,1001.4 277.1,1001.5 278.1,1001.7 279.1,1001.8 280.1,1001.9 281.1,1002.0 282.1,1002.1 283.1,1002.2 284.1,1002.4 285.1,1002.5 286.1,1002.6 287.1,1002.7 288.1,1002.8 289.1,1002.8 290.1,1002.9 291.1,1003.0 292.1,1003.1 293.1,1003.2 294.1,1003.3 295.1,1003.3 296.1,1003.4 297.1,1003.5 298.1,1003.6 299.1,1003.6 300.1,1003.7 301.1,1003.8 302.1,1003.8 303.1,1003.9 304.1,1004.0 305.1,1004.0 306.1,1004.1 307.1,1004.1 308.1,1004.2 309.1,1004.2 310.1,1004.3 311.1,1004.3 312.1,1004.4 313.1,1004.4 314.1,1004.5 315.1,1004.5 316.1,1004.6 317.1,1004.6 318.1,1004.7 319.1,1004.7 320.1,1004.7 321.1,1004.8 322.1,1004.8 323.1,1004.9 324.1,1004.9 325.1,1004.9 326.1,1005.0 327.1,1005.0 328.1,1005.0 329.1,1005.1 330.1,1005.1 331.1,1005.1 332.1,1005.2 333.1,1005.2 334.1,1005.2 335.1,1005.3 336.1,1005.3 337.1,1005.3 338.1,1005.3 339.1,1005.4 340.1,1005.4 341.1,1005.4 342.1,1005.5 343.1,1005.5 344.1,1005.5 345.1,1005.5 346.1,1005.5 347.1,1005.6 348.1,1005.6 349.1,1005.6 350.1,1005.6 351.1,1005.7 352.1,1005.7 353.1,1005.7 354.1,1005.7 355.1,1005.7 356.1,1005.8 357.1,1005.8 358.1,1005.8 359.1,1005.8 360.1,1005.8 361.1,1005.9 362.1,1005.9 363.1,1005.9 364.1,1005.9 365.1,1005.9 366.1,1005.9 367.1,1006.0 368.1,1006.0 369.1,1006.0 370.1,1006.0 371.1,1006.0 372.1,1006.0 373.1,1006.0 374.1,1006.1 375.1,1006.1 376.1,1006.1 377.1,1006.1 378.1,1006.1 379.1,1006.1 380.1,1006.1 381.1,1006.2 382.1,1006.2 383.1,1006.2 384.1,1006.2 385.1,1006.2 386.1,1006.2 387.1,1006.2 388.1,1006.2 389.1,1006.3 390.1,1006.3 391.1,1006.3 392.1,1006.3 393.1,1006.3 394.1,1006.3 395.1,1006.3 396.1,1006.3 397.1,1006.3 398.1,1006.3 399.1,1006.4 400.1,1006.4 401.1,1006.4 402.1,1006.4 403.1,1006.4 404.1,1006.4 405.1,1006.4 406.1,1006.4 407.1,1006.4 408.1,1006.4 409.1,1006.4 410.1,1006.5 411.1,1006.5 412.1,1006.5 413.1,1006.5 414.1,1006.5 415.1,1006.5 416.1,1006.5 417.1,1006.5 418.1,1006.5 419.1,1006.5 420.1,1006.5 421.1,1006.5 422.1,1006.5 423.1,1006.6 424.1,1006.6 425.1,1006.6 426.1,1006.6 427.1,1006.6 428.1,1006.6 429.1,1006.6 430.1,1006.6 431.1,1006.6 432.1,1006.6 433.1,1006.6 434.1,1006.6 435.1,1006.6 436.1,1006.6 437.1,1006.6 438.1,1006.7 439.1,1006.7 440.1,1006.7 441.1,1006.7 442.1,1006.7 443.1,1006.7 444.1,1006.7 445.1,1006.7 446.1,1006.7 447.1,1006.7 448.1,1006.7 449.1,1006.7 450.1,1006.7 451.1,1006.7 452.1,1006.7 453.1,1006.7 454.1,1006.7 455.1,1006.7 456.1,1006.7 457.1,1006.8 458.1,1006.8 459.1,1006.8 460.1,1006.8 461.1,1006.8 462.1,1006.8 463.1,1006.8 464.1,1006.8 465.1,1006.8 466.1,1006.8 467.1,1006.8 468.1,1006.8 469.1,1006.8 470.1,1006.8 471.1,1006.8 472.1,1006.8 473.1,1006.8 474.1,1006.8 475.1,1006.8 476.1,1006.8 477.1,1006.8 478.1,1006.8 479.1,1006.8 480.1,1006.8 481.1,1006.8 482.1,1006.9 483.1,1006.9 484.1,1006.9 485.1,1006.9 486.1,1006.9 487.1,1006.9 488.1,1006.9 489.1,1006.9 490.1,1006.9 491.1,1006.9 492.1,1006.9 493.1,1006.9 494.1,1006.9 495.1,1006.9 496.1,1006.9 497.1,1006.9 498.1,1006.9 499.1,1006.9 500.1,1006.9 501.1,1006.9 502.1,1006.9 503.1,1006.9 504.1,1006.9 505.1,1006.9 506.1,1006.9 507.1,1006.9 508.1,1006.9 509.1,1006.9 510.1,1006.9 511.1,1006.9 512.1,1006.9 513.1,1006.9 514.1,1007.0 515.1,1007.0 516.1,1007.0 517.1,1007.0 518.1,1007.0 519.1,1007.0 520.1,1007.0 521.1,1007.0 522.1,1007.0 523.1,1007.0 524.1,1007.0 525.1,1007.0 526.1,1007.0 527.1,1007.0 528.1,1007.0 529.1,1007.0 530.1,1007.0 531.1,1007.0 532.1,1007.0 533.1,1007.0 534.1,1007.0 535.1,1007.0 536.1,1007.0 537.1,1007.0 538.1,1007.0 539.1,1007.0 540.1,1007.0 541.1,1007.0 542.1,1007.0 543.1,1007.0 544.1,1007.0 545.1,1007.0 546.1,1007.0 547.1,1007.0 548.1,1007.0 549.1,1007.0 550.1,1007.0 551.1,1007.0 552.1,1007.0 553.1,1007.0 554.1,1007.0 555.1,1007.0 556.1,1007.0 557.1,1007.0 558.1,1007.0 559.1,1007.0 560.1,1007.0 561.1,1007.1 562.1,1007.1 563.1,1007.1 564.1,1007.1 565.1,1007.1 566.1,1007.1 567.1,1007.1 568.1,1007.1 569.1,1007.1 570.1,1007.1 571.1,1007.1 572.1,1007.1 573.1,1007.1 574.1,1007.1 575.1,1007.1 576.1,1007.1 577.1,1007.1 578.1,1007.1 579.1,1007.1 580.1,1007.1 581.1,1007.1" fill="none" stroke="#2ee02e" stroke-width="2.3" stroke-linejoin="round"/>
<polyline points="147.1,1001.7 148.1,1001.6 149.1,1001.5 150.1,1001.4 151.1,1001.3 152.1,1001.1 153.1,1001.0 154.1,1000.9 155.1,1000.7 156.1,1000.6 157.1,1000.4 158.1,1000.3 159.1,1000.1 160.1,999.9 161.1,999.8 162.1,999.6 163.1,999.4 164.1,999.2 165.1,999.0 166.1,998.8 167.1,998.6 168.1,998.4 169.1,998.2 170.1,997.9 171.1,997.7 172.1,997.4 173.1,997.2 174.1,996.9 175.1,996.6 176.1,996.3 177.1,996.0 178.1,995.7 179.1,995.3 180.1,995.0 181.1,994.6 182.1,994.2 183.1,993.8 184.1,993.4 185.1,993.0 186.1,992.5 187.1,992.1 188.1,991.6 189.1,991.1 190.1,990.5 191.1,990.0 192.1,989.4 193.1,988.8 194.1,988.1 195.1,987.4 196.1,986.7 197.1,986.0 198.1,985.2 199.1,984.3 200.1,983.5 201.1,982.5 202.1,981.6 203.1,980.6 204.1,979.5 205.1,978.4 206.1,977.2 207.1,975.9 208.1,974.6 209.1,973.2 210.1,971.7 211.1,970.2 212.1,968.5 213.1,966.8 214.1,965.0 215.1,963.1 216.1,961.1 217.1,959.0 218.1,956.7 219.1,954.4 220.1,952.0 221.1,949.4 222.1,946.8 223.1,944.0 224.1,941.2 225.1,938.2 226.1,935.2 227.1,932.2 228.1,929.1 229.1,925.9 230.1,922.8 231.1,919.7 232.1,916.7 233.1,913.9 234.1,911.2 235.1,908.6 236.1,906.4 237.1,904.4 238.1,902.8 239.1,901.6 240.1,900.7 241.1,900.3 242.1,900.3 243.1,900.7 244.1,901.6 245.1,902.8 246.1,904.5 247.1,906.4 248.1,908.7 249.1,911.2 250.1,913.9 251.1,916.8 252.1,919.8 253.1,922.9 254.1,926.0 255.1,929.1 256.1,932.2 257.1,935.3 258.1,938.3 259.1,941.2 260.1,944.1 261.1,946.8 262.1,949.5 263.1,952.0 264.1,954.5 265.1,956.8 266.1,959.0 267.1,961.1 268.1,963.1 269.1,965.0 270.1,966.8 271.1,968.6 272.1,970.2 273.1,971.7 274.1,973.2 275.1,974.6 276.1,975.9 277.1,977.2 278.1,978.4 279.1,979.5 280.1,980.6 281.1,981.6 282.1,982.6 283.1,983.5 284.1,984.3 285.1,985.2 286.1,986.0 287.1,986.7 288.1,987.4 289.1,988.1 290.1,988.8 291.1,989.4 292.1,990.0 293.1,990.5 294.1,991.1 295.1,991.6 296.1,992.1 297.1,992.6 298.1,993.0 299.1,993.4 300.1,993.8 301.1,994.2 302.1,994.6 303.1,995.0 304.1,995.3 305.1,995.7 306.1,996.0 307.1,996.3 308.1,996.6 309.1,996.9 310.1,997.2 311.1,997.4 312.1,997.7 313.1,997.9 314.1,998.2 315.1,998.4 316.1,998.6 317.1,998.8 318.1,999.0 319.1,999.2 320.1,999.4 321.1,999.6 322.1,999.8 323.1,999.9 324.1,1000.1 325.1,1000.3 326.1,1000.4 327.1,1000.6 328.1,1000.7 329.1,1000.9 330.1,1001.0 331.1,1001.1 332.1,1001.3 333.1,1001.4 334.1,1001.5 335.1,1001.6 336.1,1001.7 337.1,1001.9 338.1,1002.0 339.1,1002.1 340.1,1002.2 341.1,1002.3 342.1,1002.4 343.1,1002.5 344.1,1002.6 345.1,1002.6 346.1,1002.7 347.1,1002.8 348.1,1002.9 349.1,1003.0 350.1,1003.1 351.1,1003.1 352.1,1003.2 353.1,1003.3 354.1,1003.3 355.1,1003.4 356.1,1003.5 357.1,1003.5 358.1,1003.6 359.1,1003.7 360.1,1003.7 361.1,1003.8 362.1,1003.8 363.1,1003.9 364.1,1004.0 365.1,1004.0 366.1,1004.1 367.1,1004.1 368.1,1004.2 369.1,1004.2 370.1,1004.3 371.1,1004.3 372.1,1004.3 373.1,1004.4 374.1,1004.4 375.1,1004.5 376.1,1004.5 377.1,1004.6 378.1,1004.6 379.1,1004.6 380.1,1004.7 381.1,1004.7 382.1,1004.8 383.1,1004.8 384.1,1004.8 385.1,1004.9 386.1,1004.9 387.1,1004.9 388.1,1005.0 389.1,1005.0 390.1,1005.0 391.1,1005.1 392.1,1005.1 393.1,1005.1 394.1,1005.1 395.1,1005.2 396.1,1005.2 397.1,1005.2 398.1,1005.2 399.1,1005.3 400.1,1005.3 401.1,1005.3 402.1,1005.4 403.1,1005.4 404.1,1005.4 405.1,1005.4 406.1,1005.4 407.1,1005.5 408.1,1005.5 409.1,1005.5 410.1,1005.5 411.1,1005.6 412.1,1005.6 413.1,1005.6 414.1,1005.6 415.1,1005.6 416.1,1005.7 417.1,1005.7 418.1,1005.7 419.1,1005.7 420.1,1005.7 421.1,1005.8 422.1,1005.8 423.1,1005.8 424.1,1005.8 425.1,1005.8 426.1,1005.8 427.1,1005.9 428.1,1005.9 429.1,1005.9 430.1,1005.9 431.1,1005.9 432.1,1005.9 433.1,1005.9 434.1,1006.0 435.1,1006.0 436.1,1006.0 437.1,1006.0 438.1,1006.0 439.1,1006.0 440.1,1006.0 441.1,1006.1 442.1,1006.1 443.1,1006.1 444.1,1006.1 445.1,1006.1 446.1,1006.1 447.1,1006.1 448.1,1006.1 449.1,1006.2 450.1,1006.2 451.1,1006.2 452.1,1006.2 453.1,1006.2 454.1,1006.2 455.1,1006.2 456.1,1006.2 457.1,1006.2 458.1,1006.3 459.1,1006.3 460.1,1006.3 461.1,1006.3 462.1,1006.3 463.1,1006.3 464.1,1006.3 465.1,1006.3 466.1,1006.3 467.1,1006.3 468.1,1006.3 469.1,1006.4 470.1,1006.4 471.1,1006.4 472.1,1006.4 473.1,1006.4 474.1,1006.4 475.1,1006.4 476.1,1006.4 477.1,1006.4 478.1,1006.4 479.1,1006.4 480.1,1006.4 481.1,1006.5 482.1,1006.5 483.1,1006.5 484.1,1006.5 485.1,1006.5 486.1,1006.5 487.1,1006.5 488.1,1006.5 489.1,1006.5 490.1,1006.5 491.1,1006.5 492.1,1006.5 493.1,1006.5 494.1,1006.5 495.1,1006.6 496.1,1006.6 497.1,1006.6 498.1,1006.6 499.1,1006.6 500.1,1006.6 501.1,1006.6 502.1,1006.6 503.1,1006.6 504.1,1006.6 505.1,1006.6 506.1,1006.6 507.1,1006.6 508.1,1006.6 509.1,1006.6 510.1,1006.6 511.1,1006.6 512.1,1006.7 513.1,1006.7 514.1,1006.7 515.1,1006.7 516.1,1006.7 517.1,1006.7 518.1,1006.7 519.1,1006.7 520.1,1006.7 521.1,1006.7 522.1,1006.7 523.1,1006.7 524.1,1006.7 525.1,1006.7 526.1,1006.7 527.1,1006.7 528.1,1006.7 529.1,1006.7 530.1,1006.7 531.1,1006.7 532.1,1006.7 533.1,1006.8 534.1,1006.8 535.1,1006.8 536.1,1006.8 537.1,1006.8 538.1,1006.8 539.1,1006.8 540.1,1006.8 541.1,1006.8 542.1,1006.8 543.1,1006.8 544.1,1006.8 545.1,1006.8 546.1,1006.8 547.1,1006.8 548.1,1006.8 549.1,1006.8 550.1,1006.8 551.1,1006.8 552.1,1006.8 553.1,1006.8 554.1,1006.8 555.1,1006.8 556.1,1006.8 557.1,1006.8 558.1,1006.8 559.1,1006.8 560.1,1006.9 561.1,1006.9 562.1,1006.9 563.1,1006.9 564.1,1006.9 565.1,1006.9 566.1,1006.9 567.1,1006.9 568.1,1006.9 569.1,1006.9 570.1,1006.9 571.1,1006.9 572.1,1006.9 573.1,1006.9 574.1,1006.9 575.1,1006.9 576.1,1006.9 577.1,1006.9 578.1,1006.9 579.1,1006.9 580.1,1006.9 581.1,1006.9" fill="none" stroke="#2a50f5" stroke-width="2.3" stroke-linejoin="round"/>
<polyline points="147.1,1006.4 148.1,1006.4 149.1,1006.4 150.1,1006.3 151.1,1006.3 152.1,1006.3 153.1,1006.3 154.1,1006.3 155.1,1006.3 156.1,1006.3 157.1,1006.2 158.1,1006.2 159.1,1006.2 160.1,1006.2 161.1,1006.2 162.1,1006.1 163.1,1006.1 164.1,1006.1 165.1,1006.1 166.1,1006.1 167.1,1006.0 168.1,1006.0 169.1,1006.0 170.1,1006.0 171.1,1005.9 172.1,1005.9 173.1,1005.9 174.1,1005.9 175.1,1005.8 176.1,1005.8 177.1,1005.8 178.1,1005.8 179.1,1005.7 180.1,1005.7 181.1,1005.7 182.1,1005.6 183.1,1005.6 184.1,1005.6 185.1,1005.5 186.1,1005.5 187.1,1005.5 188.1,1005.4 189.1,1005.4 190.1,1005.4 191.1,1005.3 192.1,1005.3 193.1,1005.2 194.1,1005.2 195.1,1005.1 196.1,1005.1 197.1,1005.0 198.1,1005.0 199.1,1004.9 200.1,1004.9 201.1,1004.8 202.1,1004.8 203.1,1004.7 204.1,1004.6 205.1,1004.6 206.1,1004.5 207.1,1004.4 208.1,1004.4 209.1,1004.3 210.1,1004.2 211.1,1004.1 212.1,1004.0 213.1,1004.0 214.1,1003.9 215.1,1003.8 216.1,1003.7 217.1,1003.6 218.1,1003.5 219.1,1003.4 220.1,1003.2 221.1,1003.1 222.1,1003.0 223.1,1002.9 224.1,1002.7 225.1,1002.6 226.1,1002.4 227.1,1002.3 228.1,1002.1 229.1,1002.0 230.1,1001.8 231.1,1001.6 232.1,1001.4 233.1,1001.2 234.1,1001.0 235.1,1000.7 236.1,1000.5 237.1,1000.2 238.1,1000.0 239.1,999.7 240.1,999.4 241.1,999.1 242.1,998.7 243.1,998.4 244.1,998.0 245.1,997.6 246.1,997.2 247.1,996.7 248.1,996.2 249.1,995.7 250.1,995.2 251.1,994.6 252.1,993.9 253.1,993.3 254.1,992.5 255.1,991.8 256.1,990.9 257.1,990.0 258.1,989.1 259.1,988.0 260.1,986.9 261.1,985.7 262.1,984.3 263.1,982.9 264.1,981.4 265.1,979.7 266.1,977.8 267.1,975.9 268.1,973.7 269.1,971.4 270.1,968.8 271.1,966.1 272.1,963.1 273.1,959.9 274.1,956.5 275.1,952.9 276.1,949.0 277.1,945.0 278.1,940.8 279.1,936.6 280.1,932.3 281.1,928.1 282.1,924.2 283.1,920.6 284.1,917.6 285.1,915.2 286.1,913.6 287.1,912.8 288.1,913.0 289.1,914.0 290.1,915.9 291.1,918.6 292.1,921.8 293.1,925.5 294.1,929.5 295.1,933.7 296.1,938.0 297.1,942.3 298.1,946.4 299.1,950.4 300.1,954.1 301.1,957.7 302.1,961.0 303.1,964.2 304.1,967.0 305.1,969.7 306.1,972.2 307.1,974.5 308.1,976.5 309.1,978.5 310.1,980.3 311.1,981.9 312.1,983.4 313.1,984.8 314.1,986.1 315.1,987.3 316.1,988.4 317.1,989.4 318.1,990.3 319.1,991.2 320.1,992.0 321.1,992.8 322.1,993.5 323.1,994.2 324.1,994.8 325.1,995.4 326.1,995.9 327.1,996.4 328.1,996.9 329.1,997.3 330.1,997.7 331.1,998.1 332.1,998.5 333.1,998.8 334.1,999.2 335.1,999.5 336.1,999.8 337.1,1000.1 338.1,1000.3 339.1,1000.6 340.1,1000.8 341.1,1001.0 342.1,1001.3 343.1,1001.5 344.1,1001.7 345.1,1001.8 346.1,1002.0 347.1,1002.2 348.1,1002.3 349.1,1002.5 350.1,1002.6 351.1,1002.8 352.1,1002.9 353.1,1003.0 354.1,1003.2 355.1,1003.3 356.1,1003.4 357.1,1003.5 358.1,1003.6 359.1,1003.7 360.1,1003.8 361.1,1003.9 362.1,1004.0 363.1,1004.1 364.1,1004.2 365.1,1004.2 366.1,1004.3 367.1,1004.4 368.1,1004.5 369.1,1004.5 370.1,1004.6 371.1,1004.7 372.1,1004.7 373.1,1004.8 374.1,1004.8 375.1,1004.9 376.1,1004.9 377.1,1005.0 378.1,1005.1 379.1,1005.1 380.1,1005.1 381.1,1005.2 382.1,1005.2 383.1,1005.3 384.1,1005.3 385.1,1005.4 386.1,1005.4 387.1,1005.4 388.1,1005.5 389.1,1005.5 390.1,1005.6 391.1,1005.6 392.1,1005.6 393.1,1005.7 394.1,1005.7 395.1,1005.7 396.1,1005.7 397.1,1005.8 398.1,1005.8 399.1,1005.8 400.1,1005.9 401.1,1005.9 402.1,1005.9 403.1,1005.9 404.1,1006.0 405.1,1006.0 406.1,1006.0 407.1,1006.0 408.1,1006.0 409.1,1006.1 410.1,1006.1 411.1,1006.1 412.1,1006.1 413.1,1006.1 414.1,1006.2 415.1,1006.2 416.1,1006.2 417.1,1006.2 418.1,1006.2 419.1,1006.3 420.1,1006.3 421.1,1006.3 422.1,1006.3 423.1,1006.3 424.1,1006.3 425.1,1006.4 426.1,1006.4 427.1,1006.4 428.1,1006.4 429.1,1006.4 430.1,1006.4 431.1,1006.4 432.1,1006.4 433.1,1006.5 434.1,1006.5 435.1,1006.5 436.1,1006.5 437.1,1006.5 438.1,1006.5 439.1,1006.5 440.1,1006.5 441.1,1006.5 442.1,1006.6 443.1,1006.6 444.1,1006.6 445.1,1006.6 446.1,1006.6 447.1,1006.6 448.1,1006.6 449.1,1006.6 450.1,1006.6 451.1,1006.6 452.1,1006.7 453.1,1006.7 454.1,1006.7 455.1,1006.7 456.1,1006.7 457.1,1006.7 458.1,1006.7 459.1,1006.7 460.1,1006.7 461.1,1006.7 462.1,1006.7 463.1,1006.7 464.1,1006.7 465.1,1006.8 466.1,1006.8 467.1,1006.8 468.1,1006.8 469.1,1006.8 470.1,1006.8 471.1,1006.8 472.1,1006.8 473.1,1006.8 474.1,1006.8 475.1,1006.8 476.1,1006.8 477.1,1006.8 478.1,1006.8 479.1,1006.8 480.1,1006.8 481.1,1006.9 482.1,1006.9 483.1,1006.9 484.1,1006.9 485.1,1006.9 486.1,1006.9 487.1,1006.9 488.1,1006.9 489.1,1006.9 490.1,1006.9 491.1,1006.9 492.1,1006.9 493.1,1006.9 494.1,1006.9 495.1,1006.9 496.1,1006.9 497.1,1006.9 498.1,1006.9 499.1,1006.9 500.1,1006.9 501.1,1006.9 502.1,1006.9 503.1,1007.0 504.1,1007.0 505.1,1007.0 506.1,1007.0 507.1,1007.0 508.1,1007.0 509.1,1007.0 510.1,1007.0 511.1,1007.0 512.1,1007.0 513.1,1007.0 514.1,1007.0 515.1,1007.0 516.1,1007.0 517.1,1007.0 518.1,1007.0 519.1,1007.0 520.1,1007.0 521.1,1007.0 522.1,1007.0 523.1,1007.0 524.1,1007.0 525.1,1007.0 526.1,1007.0 527.1,1007.0 528.1,1007.0 529.1,1007.0 530.1,1007.0 531.1,1007.0 532.1,1007.0 533.1,1007.0 534.1,1007.1 535.1,1007.1 536.1,1007.1 537.1,1007.1 538.1,1007.1 539.1,1007.1 540.1,1007.1 541.1,1007.1 542.1,1007.1 543.1,1007.1 544.1,1007.1 545.1,1007.1 546.1,1007.1 547.1,1007.1 548.1,1007.1 549.1,1007.1 550.1,1007.1 551.1,1007.1 552.1,1007.1 553.1,1007.1 554.1,1007.1 555.1,1007.1 556.1,1007.1 557.1,1007.1 558.1,1007.1 559.1,1007.1 560.1,1007.1 561.1,1007.1 562.1,1007.1 563.1,1007.1 564.1,1007.1 565.1,1007.1 566.1,1007.1 567.1,1007.1 568.1,1007.1 569.1,1007.1 570.1,1007.1 571.1,1007.1 572.1,1007.1 573.1,1007.1 574.1,1007.1 575.1,1007.1 576.1,1007.1 577.1,1007.1 578.1,1007.1 579.1,1007.1 580.1,1007.1 581.1,1007.1" fill="none" stroke="#22eaf0" stroke-width="2.3" stroke-linejoin="round"/>
<polyline points="147.1,1006.8 148.1,1006.8 149.1,1006.7 150.1,1006.7 151.1,1006.7 152.1,1006.7 153.1,1006.7 154.1,1006.7 155.1,1006.7 156.1,1006.7 157.1,1006.7 158.1,1006.7 159.1,1006.7 160.1,1006.7 161.1,1006.7 162.1,1006.6 163.1,1006.6 164.1,1006.6 165.1,1006.6 166.1,1006.6 167.1,1006.6 168.1,1006.6 169.1,1006.6 170.1,1006.6 171.1,1006.6 172.1,1006.5 173.1,1006.5 174.1,1006.5 175.1,1006.5 176.1,1006.5 177.1,1006.5 178.1,1006.5 179.1,1006.5 180.1,1006.4 181.1,1006.4 182.1,1006.4 183.1,1006.4 184.1,1006.4 185.1,1006.4 186.1,1006.4 187.1,1006.4 188.1,1006.3 189.1,1006.3 190.1,1006.3 191.1,1006.3 192.1,1006.3 193.1,1006.3 194.1,1006.2 195.1,1006.2 196.1,1006.2 197.1,1006.2 198.1,1006.2 199.1,1006.1 200.1,1006.1 201.1,1006.1 202.1,1006.1 203.1,1006.1 204.1,1006.0 205.1,1006.0 206.1,1006.0 207.1,1006.0 208.1,1006.0 209.1,1005.9 210.1,1005.9 211.1,1005.9 212.1,1005.9 213.1,1005.8 214.1,1005.8 215.1,1005.8 216.1,1005.7 217.1,1005.7 218.1,1005.7 219.1,1005.6 220.1,1005.6 221.1,1005.6 222.1,1005.5 223.1,1005.5 224.1,1005.5 225.1,1005.4 226.1,1005.4 227.1,1005.4 228.1,1005.3 229.1,1005.3 230.1,1005.2 231.1,1005.2 232.1,1005.1 233.1,1005.1 234.1,1005.0 235.1,1005.0 236.1,1004.9 237.1,1004.9 238.1,1004.8 239.1,1004.8 240.1,1004.7 241.1,1004.6 242.1,1004.6 243.1,1004.5 244.1,1004.4 245.1,1004.3 246.1,1004.3 247.1,1004.2 248.1,1004.1 249.1,1004.0 250.1,1003.9 251.1,1003.8 252.1,1003.8 253.1,1003.7 254.1,1003.6 255.1,1003.4 256.1,1003.3 257.1,1003.2 258.1,1003.1 259.1,1003.0 260.1,1002.8 261.1,1002.7 262.1,1002.5 263.1,1002.4 264.1,1002.2 265.1,1002.1 266.1,1001.9 267.1,1001.7 268.1,1001.5 269.1,1001.3 270.1,1001.1 271.1,1000.9 272.1,1000.7 273.1,1000.4 274.1,1000.2 275.1,999.9 276.1,999.6 277.1,999.3 278.1,999.0 279.1,998.6 280.1,998.3 281.1,997.9 282.1,997.5 283.1,997.1 284.1,996.6 285.1,996.2 286.1,995.6 287.1,995.1 288.1,994.5 289.1,993.9 290.1,993.3 291.1,992.6 292.1,991.8 293.1,991.0 294.1,990.2 295.1,989.3 296.1,988.3 297.1,987.2 298.1,986.1 299.1,984.9 300.1,983.7 301.1,982.3 302.1,980.9 303.1,979.3 304.1,977.7 305.1,976.0 306.1,974.2 307.1,972.2 308.1,970.2 309.1,968.1 310.1,966.0 311.1,963.8 312.1,961.6 313.1,959.4 314.1,957.2 315.1,955.1 316.1,953.2 317.1,951.4 318.1,949.9 319.1,948.6 320.1,947.7 321.1,947.1 322.1,946.9 323.1,947.1 324.1,947.7 325.1,948.6 326.1,949.9 327.1,951.4 328.1,953.2 329.1,955.2 330.1,957.2 331.1,959.4 332.1,961.6 333.1,963.8 334.1,966.0 335.1,968.2 336.1,970.3 337.1,972.3 338.1,974.2 339.1,976.0 340.1,977.7 341.1,979.4 342.1,980.9 343.1,982.3 344.1,983.7 345.1,985.0 346.1,986.2 347.1,987.3 348.1,988.3 349.1,989.3 350.1,990.2 351.1,991.0 352.1,991.8 353.1,992.6 354.1,993.3 355.1,993.9 356.1,994.5 357.1,995.1 358.1,995.7 359.1,996.2 360.1,996.6 361.1,997.1 362.1,997.5 363.1,997.9 364.1,998.3 365.1,998.7 366.1,999.0 367.1,999.3 368.1,999.6 369.1,999.9 370.1,1000.2 371.1,1000.4 372.1,1000.7 373.1,1000.9 374.1,1001.1 375.1,1001.3 376.1,1001.5 377.1,1001.7 378.1,1001.9 379.1,1002.1 380.1,1002.2 381.1,1002.4 382.1,1002.6 383.1,1002.7 384.1,1002.8 385.1,1003.0 386.1,1003.1 387.1,1003.2 388.1,1003.3 389.1,1003.4 390.1,1003.6 391.1,1003.7 392.1,1003.8 393.1,1003.8 394.1,1003.9 395.1,1004.0 396.1,1004.1 397.1,1004.2 398.1,1004.3 399.1,1004.4 400.1,1004.4 401.1,1004.5 402.1,1004.6 403.1,1004.6 404.1,1004.7 405.1,1004.8 406.1,1004.8 407.1,1004.9 408.1,1004.9 409.1,1005.0 410.1,1005.0 411.1,1005.1 412.1,1005.1 413.1,1005.2 414.1,1005.2 415.1,1005.3 416.1,1005.3 417.1,1005.4 418.1,1005.4 419.1,1005.4 420.1,1005.5 421.1,1005.5 422.1,1005.5 423.1,1005.6 424.1,1005.6 425.1,1005.6 426.1,1005.7 427.1,1005.7 428.1,1005.7 429.1,1005.8 430.1,1005.8 431.1,1005.8 432.1,1005.9 433.1,1005.9 434.1,1005.9 435.1,1005.9 436.1,1006.0 437.1,1006.0 438.1,1006.0 439.1,1006.0 440.1,1006.0 441.1,1006.1 442.1,1006.1 443.1,1006.1 444.1,1006.1 445.1,1006.1 446.1,1006.2 447.1,1006.2 448.1,1006.2 449.1,1006.2 450.1,1006.2 451.1,1006.3 452.1,1006.3 453.1,1006.3 454.1,1006.3 455.1,1006.3 456.1,1006.3 457.1,1006.4 458.1,1006.4 459.1,1006.4 460.1,1006.4 461.1,1006.4 462.1,1006.4 463.1,1006.4 464.1,1006.4 465.1,1006.5 466.1,1006.5 467.1,1006.5 468.1,1006.5 469.1,1006.5 470.1,1006.5 471.1,1006.5 472.1,1006.5 473.1,1006.6 474.1,1006.6 475.1,1006.6 476.1,1006.6 477.1,1006.6 478.1,1006.6 479.1,1006.6 480.1,1006.6 481.1,1006.6 482.1,1006.6 483.1,1006.7 484.1,1006.7 485.1,1006.7 486.1,1006.7 487.1,1006.7 488.1,1006.7 489.1,1006.7 490.1,1006.7 491.1,1006.7 492.1,1006.7 493.1,1006.7 494.1,1006.7 495.1,1006.7 496.1,1006.8 497.1,1006.8 498.1,1006.8 499.1,1006.8 500.1,1006.8 501.1,1006.8 502.1,1006.8 503.1,1006.8 504.1,1006.8 505.1,1006.8 506.1,1006.8 507.1,1006.8 508.1,1006.8 509.1,1006.8 510.1,1006.8 511.1,1006.8 512.1,1006.9 513.1,1006.9 514.1,1006.9 515.1,1006.9 516.1,1006.9 517.1,1006.9 518.1,1006.9 519.1,1006.9 520.1,1006.9 521.1,1006.9 522.1,1006.9 523.1,1006.9 524.1,1006.9 525.1,1006.9 526.1,1006.9 527.1,1006.9 528.1,1006.9 529.1,1006.9 530.1,1006.9 531.1,1006.9 532.1,1006.9 533.1,1006.9 534.1,1007.0 535.1,1007.0 536.1,1007.0 537.1,1007.0 538.1,1007.0 539.1,1007.0 540.1,1007.0 541.1,1007.0 542.1,1007.0 543.1,1007.0 544.1,1007.0 545.1,1007.0 546.1,1007.0 547.1,1007.0 548.1,1007.0 549.1,1007.0 550.1,1007.0 551.1,1007.0 552.1,1007.0 553.1,1007.0 554.1,1007.0 555.1,1007.0 556.1,1007.0 557.1,1007.0 558.1,1007.0 559.1,1007.0 560.1,1007.0 561.1,1007.0 562.1,1007.0 563.1,1007.0 564.1,1007.0 565.1,1007.1 566.1,1007.1 567.1,1007.1 568.1,1007.1 569.1,1007.1 570.1,1007.1 571.1,1007.1 572.1,1007.1 573.1,1007.1 574.1,1007.1 575.1,1007.1 576.1,1007.1 577.1,1007.1 578.1,1007.1 579.1,1007.1 580.1,1007.1 581.1,1007.1" fill="none" stroke="#f040f0" stroke-width="2.3" stroke-linejoin="round"/>
<polyline points="147.1,1005.8 148.1,1005.8 149.1,1005.8 150.1,1005.8 151.1,1005.8 152.1,1005.8 153.1,1005.8 154.1,1005.8 155.1,1005.7 156.1,1005.7 157.1,1005.7 158.1,1005.7 159.1,1005.7 160.1,1005.7 161.1,1005.6 162.1,1005.6 163.1,1005.6 164.1,1005.6 165.1,1005.6 166.1,1005.6 167.1,1005.5 168.1,1005.5 169.1,1005.5 170.1,1005.5 171.1,1005.5 172.1,1005.5 173.1,1005.4 174.1,1005.4 175.1,1005.4 176.1,1005.4 177.1,1005.4 178.1,1005.3 179.1,1005.3 180.1,1005.3 181.1,1005.3 182.1,1005.2 183.1,1005.2 184.1,1005.2 185.1,1005.2 186.1,1005.2 187.1,1005.1 188.1,1005.1 189.1,1005.1 190.1,1005.1 191.1,1005.0 192.1,1005.0 193.1,1005.0 194.1,1005.0 195.1,1004.9 196.1,1004.9 197.1,1004.9 198.1,1004.9 199.1,1004.8 200.1,1004.8 201.1,1004.8 202.1,1004.7 203.1,1004.7 204.1,1004.7 205.1,1004.6 206.1,1004.6 207.1,1004.6 208.1,1004.5 209.1,1004.5 210.1,1004.5 211.1,1004.4 212.1,1004.4 213.1,1004.4 214.1,1004.3 215.1,1004.3 216.1,1004.3 217.1,1004.2 218.1,1004.2 219.1,1004.1 220.1,1004.1 221.1,1004.0 222.1,1004.0 223.1,1004.0 224.1,1003.9 225.1,1003.9 226.1,1003.8 227.1,1003.8 228.1,1003.7 229.1,1003.7 230.1,1003.6 231.1,1003.6 232.1,1003.5 233.1,1003.5 234.1,1003.4 235.1,1003.4 236.1,1003.3 237.1,1003.2 238.1,1003.2 239.1,1003.1 240.1,1003.1 241.1,1003.0 242.1,1002.9 243.1,1002.9 244.1,1002.8 245.1,1002.7 246.1,1002.7 247.1,1002.6 248.1,1002.5 249.1,1002.4 250.1,1002.4 251.1,1002.3 252.1,1002.2 253.1,1002.1 254.1,1002.0 255.1,1001.9 256.1,1001.9 257.1,1001.8 258.1,1001.7 259.1,1001.6 260.1,1001.5 261.1,1001.4 262.1,1001.3 263.1,1001.2 264.1,1001.1 265.1,1000.9 266.1,1000.8 267.1,1000.7 268.1,1000.6 269.1,1000.5 270.1,1000.3 271.1,1000.2 272.1,1000.1 273.1,999.9 274.1,999.8 275.1,999.7 276.1,999.5 277.1,999.3 278.1,999.2 279.1,999.0 280.1,998.9 281.1,998.7 282.1,998.5 283.1,998.3 284.1,998.1 285.1,997.9 286.1,997.7 287.1,997.5 288.1,997.3 289.1,997.1 290.1,996.9 291.1,996.6 292.1,996.4 293.1,996.1 294.1,995.9 295.1,995.6 296.1,995.3 297.1,995.0 298.1,994.7 299.1,994.4 300.1,994.1 301.1,993.8 302.1,993.4 303.1,993.1 304.1,992.7 305.1,992.3 306.1,991.9 307.1,991.5 308.1,991.1 309.1,990.6 310.1,990.2 311.1,989.7 312.1,989.2 313.1,988.7 314.1,988.1 315.1,987.6 316.1,987.0 317.1,986.4 318.1,985.7 319.1,985.1 320.1,984.4 321.1,983.7 322.1,982.9 323.1,982.1 324.1,981.3 325.1,980.4 326.1,979.5 327.1,978.6 328.1,977.6 329.1,976.6 330.1,975.5 331.1,974.4 332.1,973.2 333.1,972.0 334.1,970.7 335.1,969.4 336.1,968.0 337.1,966.5 338.1,965.0 339.1,963.3 340.1,961.7 341.1,959.9 342.1,958.1 343.1,956.1 344.1,954.1 345.1,952.0 346.1,949.9 347.1,947.6 348.1,945.2 349.1,942.8 350.1,940.3 351.1,937.7 352.1,935.0 353.1,932.3 354.1,929.4 355.1,926.6 356.1,923.7 357.1,920.8 358.1,917.8 359.1,914.9 360.1,912.1 361.1,909.3 362.1,906.5 363.1,903.9 364.1,901.5 365.1,899.2 366.1,897.2 367.1,895.3 368.1,893.8 369.1,892.5 370.1,891.6 371.1,891.0 372.1,890.7 373.1,890.8 374.1,891.3 375.1,892.0 376.1,893.1 377.1,894.5 378.1,896.2 379.1,898.2 380.1,900.3 381.1,902.7 382.1,905.2 383.1,907.9 384.1,910.7 385.1,913.5 386.1,916.4 387.1,919.3 388.1,922.2 389.1,925.1 390.1,928.0 391.1,930.9 392.1,933.6 393.1,936.3 394.1,939.0 395.1,941.6 396.1,944.0 397.1,946.4 398.1,948.7 399.1,951.0 400.1,953.1 401.1,955.1 402.1,957.1 403.1,959.0 404.1,960.8 405.1,962.5 406.1,964.2 407.1,965.7 408.1,967.2 409.1,968.7 410.1,970.1 411.1,971.4 412.1,972.6 413.1,973.8 414.1,975.0 415.1,976.1 416.1,977.1 417.1,978.1 418.1,979.1 419.1,980.0 420.1,980.9 421.1,981.7 422.1,982.5 423.1,983.3 424.1,984.0 425.1,984.7 426.1,985.4 427.1,986.1 428.1,986.7 429.1,987.3 430.1,987.9 431.1,988.4 432.1,988.9 433.1,989.4 434.1,989.9 435.1,990.4 436.1,990.9 437.1,991.3 438.1,991.7 439.1,992.1 440.1,992.5 441.1,992.9 442.1,993.2 443.1,993.6 444.1,993.9 445.1,994.3 446.1,994.6 447.1,994.9 448.1,995.2 449.1,995.5 450.1,995.7 451.1,996.0 452.1,996.2 453.1,996.5 454.1,996.7 455.1,997.0 456.1,997.2 457.1,997.4 458.1,997.6 459.1,997.8 460.1,998.0 461.1,998.2 462.1,998.4 463.1,998.6 464.1,998.8 465.1,998.9 466.1,999.1 467.1,999.3 468.1,999.4 469.1,999.6 470.1,999.7 471.1,999.9 472.1,1000.0 473.1,1000.1 474.1,1000.3 475.1,1000.4 476.1,1000.5 477.1,1000.7 478.1,1000.8 479.1,1000.9 480.1,1001.0 481.1,1001.1 482.1,1001.2 483.1,1001.3 484.1,1001.4 485.1,1001.5 486.1,1001.6 487.1,1001.7 488.1,1001.8 489.1,1001.9 490.1,1002.0 491.1,1002.1 492.1,1002.2 493.1,1002.2 494.1,1002.3 495.1,1002.4 496.1,1002.5 497.1,1002.6 498.1,1002.6 499.1,1002.7 500.1,1002.8 501.1,1002.8 502.1,1002.9 503.1,1003.0 504.1,1003.0 505.1,1003.1 506.1,1003.2 507.1,1003.2 508.1,1003.3 509.1,1003.3 510.1,1003.4 511.1,1003.4 512.1,1003.5 513.1,1003.6 514.1,1003.6 515.1,1003.7 516.1,1003.7 517.1,1003.8 518.1,1003.8 519.1,1003.8 520.1,1003.9 521.1,1003.9 522.1,1004.0 523.1,1004.0 524.1,1004.1 525.1,1004.1 526.1,1004.2 527.1,1004.2 528.1,1004.2 529.1,1004.3 530.1,1004.3 531.1,1004.3 532.1,1004.4 533.1,1004.4 534.1,1004.5 535.1,1004.5 536.1,1004.5 537.1,1004.6 538.1,1004.6 539.1,1004.6 540.1,1004.7 541.1,1004.7 542.1,1004.7 543.1,1004.7 544.1,1004.8 545.1,1004.8 546.1,1004.8 547.1,1004.9 548.1,1004.9 549.1,1004.9 550.1,1004.9 551.1,1005.0 552.1,1005.0 553.1,1005.0 554.1,1005.1 555.1,1005.1 556.1,1005.1 557.1,1005.1 558.1,1005.1 559.1,1005.2 560.1,1005.2 561.1,1005.2 562.1,1005.2 563.1,1005.3 564.1,1005.3 565.1,1005.3 566.1,1005.3 567.1,1005.3 568.1,1005.4 569.1,1005.4 570.1,1005.4 571.1,1005.4 572.1,1005.4 573.1,1005.5 574.1,1005.5 575.1,1005.5 576.1,1005.5 577.1,1005.5 578.1,1005.6 579.1,1005.6 580.1,1005.6 581.1,1005.6" fill="none" stroke="#929232" stroke-width="2.3" stroke-linejoin="round"/>
<polyline points="147.1,1005.8 148.1,1005.8 149.1,1005.8 150.1,1005.7 151.1,1005.7 152.1,1005.7 153.1,1005.7 154.1,1005.7 155.1,1005.7 156.1,1005.7 157.1,1005.6 158.1,1005.6 159.1,1005.6 160.1,1005.6 161.1,1005.6 162.1,1005.6 163.1,1005.6 164.1,1005.5 165.1,1005.5 166.1,1005.5 167.1,1005.5 168.1,1005.5 169.1,1005.5 170.1,1005.4 171.1,1005.4 172.1,1005.4 173.1,1005.4 174.1,1005.4 175.1,1005.4 176.1,1005.3 177.1,1005.3 178.1,1005.3 179.1,1005.3 180.1,1005.3 181.1,1005.2 182.1,1005.2 183.1,1005.2 184.1,1005.2 185.1,1005.2 186.1,1005.1 187.1,1005.1 188.1,1005.1 189.1,1005.1 190.1,1005.1 191.1,1005.0 192.1,1005.0 193.1,1005.0 194.1,1005.0 195.1,1004.9 196.1,1004.9 197.1,1004.9 198.1,1004.9 199.1,1004.8 200.1,1004.8 201.1,1004.8 202.1,1004.8 203.1,1004.7 204.1,1004.7 205.1,1004.7 206.1,1004.7 207.1,1004.6 208.1,1004.6 209.1,1004.6 210.1,1004.5 211.1,1004.5 212.1,1004.5 213.1,1004.5 214.1,1004.4 215.1,1004.4 216.1,1004.4 217.1,1004.3 218.1,1004.3 219.1,1004.3 220.1,1004.2 221.1,1004.2 222.1,1004.2 223.1,1004.1 224.1,1004.1 225.1,1004.0 226.1,1004.0 227.1,1004.0 228.1,1003.9 229.1,1003.9 230.1,1003.9 231.1,1003.8 232.1,1003.8 233.1,1003.7 234.1,1003.7 235.1,1003.6 236.1,1003.6 237.1,1003.5 238.1,1003.5 239.1,1003.5 240.1,1003.4 241.1,1003.4 242.1,1003.3 243.1,1003.2 244.1,1003.2 245.1,1003.1 246.1,1003.1 247.1,1003.0 248.1,1003.0 249.1,1002.9 250.1,1002.9 251.1,1002.8 252.1,1002.7 253.1,1002.7 254.1,1002.6 255.1,1002.5 256.1,1002.5 257.1,1002.4 258.1,1002.3 259.1,1002.3 260.1,1002.2 261.1,1002.1 262.1,1002.1 263.1,1002.0 264.1,1001.9 265.1,1001.8 266.1,1001.7 267.1,1001.7 268.1,1001.6 269.1,1001.5 270.1,1001.4 271.1,1001.3 272.1,1001.2 273.1,1001.1 274.1,1001.0 275.1,1000.9 276.1,1000.8 277.1,1000.7 278.1,1000.6 279.1,1000.5 280.1,1000.4 281.1,1000.3 282.1,1000.1 283.1,1000.0 284.1,999.9 285.1,999.8 286.1,999.6 287.1,999.5 288.1,999.4 289.1,999.2 290.1,999.1 291.1,998.9 292.1,998.8 293.1,998.6 294.1,998.4 295.1,998.3 296.1,998.1 297.1,997.9 298.1,997.8 299.1,997.6 300.1,997.4 301.1,997.2 302.1,997.0 303.1,996.8 304.1,996.6 305.1,996.3 306.1,996.1 307.1,995.9 308.1,995.6 309.1,995.4 310.1,995.1 311.1,994.9 312.1,994.6 313.1,994.3 314.1,994.0 315.1,993.7 316.1,993.4 317.1,993.1 318.1,992.8 319.1,992.4 320.1,992.1 321.1,991.7 322.1,991.3 323.1,990.9 324.1,990.5 325.1,990.1 326.1,989.6 327.1,989.2 328.1,988.7 329.1,988.2 330.1,987.7 331.1,987.2 332.1,986.6 333.1,986.0 334.1,985.5 335.1,984.8 336.1,984.2 337.1,983.5 338.1,982.8 339.1,982.1 340.1,981.3 341.1,980.5 342.1,979.7 343.1,978.8 344.1,977.9 345.1,977.0 346.1,976.0 347.1,974.9 348.1,973.8 349.1,972.7 350.1,971.5 351.1,970.3 352.1,968.9 353.1,967.6 354.1,966.1 355.1,964.6 356.1,963.0 357.1,961.3 358.1,959.5 359.1,957.7 360.1,955.7 361.1,953.7 362.1,951.5 363.1,949.2 364.1,946.8 365.1,944.3 366.1,941.6 367.1,938.8 368.1,935.8 369.1,932.7 370.1,929.4 371.1,925.9 372.1,922.3 373.1,918.4 374.1,914.4 375.1,910.2 376.1,905.8 377.1,901.2 378.1,896.4 379.1,891.4 380.1,886.2 381.1,880.9 382.1,875.4 383.1,869.8 384.1,864.1 385.1,858.3 386.1,852.6 387.1,846.9 388.1,841.3 389.1,835.9 390.1,830.7 391.1,825.9 392.1,821.5 393.1,817.6 394.1,814.2 395.1,811.5 396.1,809.5 397.1,808.3 398.1,807.8 399.1,808.1 400.1,809.1 401.1,811.0 402.1,813.5 403.1,816.7 404.1,820.5 405.1,824.8 406.1,829.5 407.1,834.6 408.1,840.0 409.1,845.5 410.1,851.2 411.1,857.0 412.1,862.7 413.1,868.4 414.1,874.1 415.1,879.6 416.1,884.9 417.1,890.1 418.1,895.2 419.1,900.0 420.1,904.7 421.1,909.1 422.1,913.4 423.1,917.5 424.1,921.4 425.1,925.0 426.1,928.6 427.1,931.9 428.1,935.1 429.1,938.1 430.1,940.9 431.1,943.6 432.1,946.2 433.1,948.6 434.1,951.0 435.1,953.2 436.1,955.2 437.1,957.2 438.1,959.1 439.1,960.9 440.1,962.6 441.1,964.2 442.1,965.8 443.1,967.2 444.1,968.6 445.1,969.9 446.1,971.2 447.1,972.4 448.1,973.6 449.1,974.7 450.1,975.7 451.1,976.7 452.1,977.7 453.1,978.6 454.1,979.5 455.1,980.3 456.1,981.1 457.1,981.9 458.1,982.6 459.1,983.3 460.1,984.0 461.1,984.7 462.1,985.3 463.1,985.9 464.1,986.5 465.1,987.0 466.1,987.6 467.1,988.1 468.1,988.6 469.1,989.1 470.1,989.5 471.1,990.0 472.1,990.4 473.1,990.8 474.1,991.2 475.1,991.6 476.1,992.0 477.1,992.3 478.1,992.7 479.1,993.0 480.1,993.3 481.1,993.6 482.1,993.9 483.1,994.2 484.1,994.5 485.1,994.8 486.1,995.1 487.1,995.3 488.1,995.6 489.1,995.8 490.1,996.1 491.1,996.3 492.1,996.5 493.1,996.7 494.1,996.9 495.1,997.1 496.1,997.3 497.1,997.5 498.1,997.7 499.1,997.9 500.1,998.1 501.1,998.2 502.1,998.4 503.1,998.6 504.1,998.7 505.1,998.9 506.1,999.0 507.1,999.2 508.1,999.3 509.1,999.5 510.1,999.6 511.1,999.7 512.1,999.9 513.1,1000.0 514.1,1000.1 515.1,1000.2 516.1,1000.3 517.1,1000.5 518.1,1000.6 519.1,1000.7 520.1,1000.8 521.1,1000.9 522.1,1001.0 523.1,1001.1 524.1,1001.2 525.1,1001.3 526.1,1001.4 527.1,1001.5 528.1,1001.5 529.1,1001.6 530.1,1001.7 531.1,1001.8 532.1,1001.9 533.1,1002.0 534.1,1002.0 535.1,1002.1 536.1,1002.2 537.1,1002.3 538.1,1002.3 539.1,1002.4 540.1,1002.5 541.1,1002.5 542.1,1002.6 543.1,1002.7 544.1,1002.7 545.1,1002.8 546.1,1002.8 547.1,1002.9 548.1,1003.0 549.1,1003.0 550.1,1003.1 551.1,1003.1 552.1,1003.2 553.1,1003.2 554.1,1003.3 555.1,1003.3 556.1,1003.4 557.1,1003.4 558.1,1003.5 559.1,1003.5 560.1,1003.6 561.1,1003.6 562.1,1003.7 563.1,1003.7 564.1,1003.8 565.1,1003.8 566.1,1003.8 567.1,1003.9 568.1,1003.9 569.1,1004.0 570.1,1004.0 571.1,1004.0 572.1,1004.1 573.1,1004.1 574.1,1004.2 575.1,1004.2 576.1,1004.2 577.1,1004.3 578.1,1004.3 579.1,1004.3 580.1,1004.4 581.1,1004.4" fill="none" stroke="#9048fa" stroke-width="2.3" stroke-linejoin="round"/>
<polyline points="147.1,1006.8 148.1,1006.8 149.1,1006.8 150.1,1006.8 151.1,1006.8 152.1,1006.8 153.1,1006.8 154.1,1006.8 155.1,1006.8 156.1,1006.8 157.1,1006.8 158.1,1006.8 159.1,1006.8 160.1,1006.7 161.1,1006.7 162.1,1006.7 163.1,1006.7 164.1,1006.7 165.1,1006.7 166.1,1006.7 167.1,1006.7 168.1,1006.7 169.1,1006.7 170.1,1006.7 171.1,1006.7 172.1,1006.7 173.1,1006.7 174.1,1006.7 175.1,1006.7 176.1,1006.7 177.1,1006.7 178.1,1006.7 179.1,1006.7 180.1,1006.6 181.1,1006.6 182.1,1006.6 183.1,1006.6 184.1,1006.6 185.1,1006.6 186.1,1006.6 187.1,1006.6 188.1,1006.6 189.1,1006.6 190.1,1006.6 191.1,1006.6 192.1,1006.6 193.1,1006.6 194.1,1006.6 195.1,1006.6 196.1,1006.5 197.1,1006.5 198.1,1006.5 199.1,1006.5 200.1,1006.5 201.1,1006.5 202.1,1006.5 203.1,1006.5 204.1,1006.5 205.1,1006.5 206.1,1006.5 207.1,1006.5 208.1,1006.5 209.1,1006.4 210.1,1006.4 211.1,1006.4 212.1,1006.4 213.1,1006.4 214.1,1006.4 215.1,1006.4 216.1,1006.4 217.1,1006.4 218.1,1006.4 219.1,1006.4 220.1,1006.4 221.1,1006.3 222.1,1006.3 223.1,1006.3 224.1,1006.3 225.1,1006.3 226.1,1006.3 227.1,1006.3 228.1,1006.3 229.1,1006.3 230.1,1006.2 231.1,1006.2 232.1,1006.2 233.1,1006.2 234.1,1006.2 235.1,1006.2 236.1,1006.2 237.1,1006.2 238.1,1006.2 239.1,1006.1 240.1,1006.1 241.1,1006.1 242.1,1006.1 243.1,1006.1 244.1,1006.1 245.1,1006.1 246.1,1006.1 247.1,1006.0 248.1,1006.0 249.1,1006.0 250.1,1006.0 251.1,1006.0 252.1,1006.0 253.1,1006.0 254.1,1005.9 255.1,1005.9 256.1,1005.9 257.1,1005.9 258.1,1005.9 259.1,1005.9 260.1,1005.8 261.1,1005.8 262.1,1005.8 263.1,1005.8 264.1,1005.8 265.1,1005.7 266.1,1005.7 267.1,1005.7 268.1,1005.7 269.1,1005.7 270.1,1005.6 271.1,1005.6 272.1,1005.6 273.1,1005.6 274.1,1005.6 275.1,1005.5 276.1,1005.5 277.1,1005.5 278.1,1005.5 279.1,1005.4 280.1,1005.4 281.1,1005.4 282.1,1005.4 283.1,1005.3 284.1,1005.3 285.1,1005.3 286.1,1005.3 287.1,1005.2 288.1,1005.2 289.1,1005.2 290.1,1005.1 291.1,1005.1 292.1,1005.1 293.1,1005.0 294.1,1005.0 295.1,1005.0 296.1,1005.0 297.1,1004.9 298.1,1004.9 299.1,1004.8 300.1,1004.8 301.1,1004.8 302.1,1004.7 303.1,1004.7 304.1,1004.7 305.1,1004.6 306.1,1004.6 307.1,1004.5 308.1,1004.5 309.1,1004.4 310.1,1004.4 311.1,1004.3 312.1,1004.3 313.1,1004.2 314.1,1004.2 315.1,1004.1 316.1,1004.1 317.1,1004.0 318.1,1004.0 319.1,1003.9 320.1,1003.9 321.1,1003.8 322.1,1003.7 323.1,1003.7 324.1,1003.6 325.1,1003.5 326.1,1003.5 327.1,1003.4 328.1,1003.3 329.1,1003.3 330.1,1003.2 331.1,1003.1 332.1,1003.0 333.1,1002.9 334.1,1002.9 335.1,1002.8 336.1,1002.7 337.1,1002.6 338.1,1002.5 339.1,1002.4 340.1,1002.3 341.1,1002.2 342.1,1002.1 343.1,1002.0 344.1,1001.8 345.1,1001.7 346.1,1001.6 347.1,1001.5 348.1,1001.3 349.1,1001.2 350.1,1001.1 351.1,1000.9 352.1,1000.8 353.1,1000.6 354.1,1000.5 355.1,1000.3 356.1,1000.1 357.1,1000.0 358.1,999.8 359.1,999.6 360.1,999.4 361.1,999.2 362.1,999.0 363.1,998.8 364.1,998.5 365.1,998.3 366.1,998.1 367.1,997.8 368.1,997.5 369.1,997.3 370.1,997.0 371.1,996.7 372.1,996.4 373.1,996.0 374.1,995.7 375.1,995.3 376.1,995.0 377.1,994.6 378.1,994.2 379.1,993.8 380.1,993.3 381.1,992.9 382.1,992.4 383.1,991.9 384.1,991.3 385.1,990.8 386.1,990.2 387.1,989.6 388.1,988.9 389.1,988.2 390.1,987.5 391.1,986.8 392.1,986.0 393.1,985.2 394.1,984.3 395.1,983.4 396.1,982.4 397.1,981.4 398.1,980.3 399.1,979.1 400.1,977.9 401.1,976.6 402.1,975.3 403.1,973.8 404.1,972.3 405.1,970.7 406.1,969.1 407.1,967.3 408.1,965.4 409.1,963.4 410.1,961.3 411.1,959.1 412.1,956.8 413.1,954.4 414.1,951.9 415.1,949.2 416.1,946.5 417.1,943.7 418.1,940.7 419.1,937.7 420.1,934.6 421.1,931.5 422.1,928.4 423.1,925.3 424.1,922.3 425.1,919.4 426.1,916.6 427.1,913.9 428.1,911.6 429.1,909.5 430.1,907.7 431.1,906.4 432.1,905.4 433.1,904.8 434.1,904.7 435.1,905.1 436.1,905.9 437.1,907.1 438.1,908.6 439.1,910.6 440.1,912.8 441.1,915.3 442.1,918.0 443.1,920.9 444.1,923.9 445.1,927.0 446.1,930.1 447.1,933.2 448.1,936.3 449.1,939.3 450.1,942.3 451.1,945.2 452.1,948.0 453.1,950.7 454.1,953.3 455.1,955.7 456.1,958.1 457.1,960.3 458.1,962.5 459.1,964.5 460.1,966.4 461.1,968.2 462.1,970.0 463.1,971.6 464.1,973.2 465.1,974.6 466.1,976.0 467.1,977.3 468.1,978.6 469.1,979.7 470.1,980.9 471.1,981.9 472.1,982.9 473.1,983.9 474.1,984.8 475.1,985.6 476.1,986.4 477.1,987.2 478.1,987.9 479.1,988.6 480.1,989.3 481.1,989.9 482.1,990.5 483.1,991.1 484.1,991.6 485.1,992.1 486.1,992.6 487.1,993.1 488.1,993.6 489.1,994.0 490.1,994.4 491.1,994.8 492.1,995.2 493.1,995.5 494.1,995.9 495.1,996.2 496.1,996.5 497.1,996.8 498.1,997.1 499.1,997.4 500.1,997.7 501.1,997.9 502.1,998.2 503.1,998.4 504.1,998.7 505.1,998.9 506.1,999.1 507.1,999.3 508.1,999.5 509.1,999.7 510.1,999.9 511.1,1000.1 512.1,1000.2 513.1,1000.4 514.1,1000.6 515.1,1000.7 516.1,1000.9 517.1,1001.0 518.1,1001.2 519.1,1001.3 520.1,1001.4 521.1,1001.5 522.1,1001.7 523.1,1001.8 524.1,1001.9 525.1,1002.0 526.1,1002.1 527.1,1002.2 528.1,1002.3 529.1,1002.4 530.1,1002.5 531.1,1002.6 532.1,1002.7 533.1,1002.8 534.1,1002.9 535.1,1003.0 536.1,1003.1 537.1,1003.1 538.1,1003.2 539.1,1003.3 540.1,1003.4 541.1,1003.4 542.1,1003.5 543.1,1003.6 544.1,1003.6 545.1,1003.7 546.1,1003.8 547.1,1003.8 548.1,1003.9 549.1,1003.9 550.1,1004.0 551.1,1004.1 552.1,1004.1 553.1,1004.2 554.1,1004.2 555.1,1004.3 556.1,1004.3 557.1,1004.4 558.1,1004.4 559.1,1004.5 560.1,1004.5 561.1,1004.5 562.1,1004.6 563.1,1004.6 564.1,1004.7 565.1,1004.7 566.1,1004.8 567.1,1004.8 568.1,1004.8 569.1,1004.9 570.1,1004.9 571.1,1004.9 572.1,1005.0 573.1,1005.0 574.1,1005.0 575.1,1005.1 576.1,1005.1 577.1,1005.1 578.1,1005.2 579.1,1005.2 580.1,1005.2 581.1,1005.2" fill="none" stroke="#ff8a26" stroke-width="2.3" stroke-linejoin="round"/>
<polyline points="145.8,977.7 146.8,976.7 147.8,975.7 148.8,974.7 149.8,973.8 150.8,972.6 151.8,971.4 152.8,970.2 153.8,969.0 154.8,967.6 155.8,966.2 156.8,964.6 157.8,963.1 158.8,961.5 159.8,959.5 160.8,957.3 161.8,955.1 162.8,953.1 163.8,950.9 164.8,948.4 165.8,945.6 166.8,942.5 167.8,939.4 168.8,936.0 169.8,932.6 170.8,928.5 171.8,924.4 172.8,919.8 173.8,915.3 174.8,910.3 175.8,905.0 176.8,899.3 177.8,893.7 178.8,887.8 179.8,881.6 180.8,875.1 181.8,868.7 182.8,862.6 183.8,856.4 184.8,850.6 185.8,845.1 186.8,840.4 187.8,836.3 188.8,833.0 189.8,830.5 190.8,829.2 191.8,828.8 192.8,829.5 193.8,831.0 194.8,833.7 195.8,836.7 196.8,840.7 197.8,844.8 198.8,849.4 199.8,854.2 200.8,859.0 201.8,863.9 202.8,868.3 203.8,872.8 204.8,876.7 205.8,880.3 206.8,883.4 207.8,886.4 208.8,888.9 209.8,891.1 210.8,892.9 211.8,894.5 212.8,895.6 213.8,896.2 214.8,896.7 215.8,896.9 216.8,896.7 217.8,896.4 218.8,896.0 219.8,895.7 220.8,894.9 221.8,893.9 222.8,892.4 223.8,891.0 224.8,889.4 225.8,887.7 226.8,885.8 227.8,883.8 228.8,881.8 229.8,879.7 230.8,877.6 231.8,875.6 232.8,873.4 233.8,871.5 234.8,869.6 235.8,868.2 236.8,866.6 237.8,865.6 238.8,864.8 239.8,864.5 240.8,864.5 241.8,864.9 242.8,865.5 243.8,866.5 244.8,867.8 245.8,869.5 246.8,871.4 247.8,873.3 248.8,875.5 249.8,877.7 250.8,880.0 251.8,882.5 252.8,884.9 253.8,887.3 254.8,889.3 255.8,891.6 256.8,893.6 257.8,895.4 258.8,896.9 259.8,898.1 260.8,899.4 261.8,900.3 262.8,901.0 263.8,901.4 264.8,901.5 265.8,901.6 266.8,901.1 267.8,900.4 268.8,899.4 269.8,898.2 270.8,896.6 271.8,894.7 272.8,892.6 273.8,890.0 274.8,887.2 275.8,883.8 276.8,880.5 277.8,877.1 278.8,873.5 279.8,869.9 280.8,866.2 281.8,862.9 282.8,859.9 283.8,857.8 284.8,856.3 285.8,855.4 286.8,855.6 287.8,856.3 288.8,858.1 289.8,860.1 290.8,862.9 291.8,865.9 292.8,868.9 293.8,872.1 294.8,875.4 295.8,878.7 296.8,881.6 297.8,884.0 298.8,886.6 299.8,888.7 300.8,890.5 301.8,891.7 302.8,892.7 303.8,893.3 304.8,893.7 305.8,893.8 306.8,893.7 307.8,893.3 308.8,892.6 309.8,891.6 310.8,890.4 311.8,889.1 312.8,887.7 313.8,886.4 314.8,885.0 315.8,883.8 316.8,882.5 317.8,881.4 318.8,880.5 319.8,879.8 320.8,879.5 321.8,879.3 322.8,879.3 323.8,879.4 324.8,879.8 325.8,880.4 326.8,881.4 327.8,882.3 328.8,883.2 329.8,883.9 330.8,884.8 331.8,885.6 332.8,886.2 333.8,886.6 334.8,886.8 335.8,886.9 336.8,886.9 337.8,886.7 338.8,886.3 339.8,885.6 340.8,884.6 341.8,883.4 342.8,882.2 343.8,881.0 344.8,879.6 345.8,877.7 346.8,875.4 347.8,873.1 348.8,870.7 349.8,868.1 350.8,865.2 351.8,862.2 352.8,859.2 353.8,855.7 354.8,852.1 355.8,848.1 356.8,844.0 357.8,839.6 358.8,835.1 359.8,830.7 360.8,825.9 361.8,821.0 362.8,816.2 363.8,811.5 364.8,806.9 365.8,802.1 366.8,797.2 367.8,792.5 368.8,787.9 369.8,783.8 370.8,779.6 371.8,775.7 372.8,772.0 373.8,768.6 374.8,765.2 375.8,762.0 376.8,758.9 377.8,755.8 378.8,752.8 379.8,749.8 380.8,746.7 381.8,743.6 382.8,740.6 383.8,737.5 384.8,734.5 385.8,731.5 386.8,728.6 387.8,725.9 388.8,723.4 389.8,721.2 390.8,719.1 391.8,717.5 392.8,716.3 393.8,715.4 394.8,715.0 395.8,715.3 396.8,716.3 397.8,717.7 398.8,719.5 399.8,722.0 400.8,725.2 401.8,728.9 402.8,732.8 403.8,737.3 404.8,741.7 405.8,746.5 406.8,751.5 407.8,756.5 408.8,761.5 409.8,766.2 410.8,771.0 411.8,775.3 412.8,779.4 413.8,783.2 414.8,787.0 415.8,790.5 416.8,793.8 417.8,796.7 418.8,799.2 419.8,801.3 420.8,803.2 421.8,805.0 422.8,806.8 423.8,808.4 424.8,809.8 425.8,811.1 426.8,812.5 427.8,814.2 428.8,815.8 429.8,817.8 430.8,819.9 431.8,822.4 432.8,825.1 433.8,828.0 434.8,831.0 435.8,834.6 436.8,838.6 437.8,843.0 438.8,847.3 439.8,851.7 440.8,856.1 441.8,860.7 442.8,865.3 443.8,870.0 444.8,874.7 445.8,879.5 446.8,883.8 447.8,888.2 448.8,892.3 449.8,896.4 450.8,900.2 451.8,903.7 452.8,907.3 453.8,910.9 454.8,914.3 455.8,917.6 456.8,920.6 457.8,923.6 458.8,926.5 459.8,929.3 460.8,932.0 461.8,934.6 462.8,937.4 463.8,939.8 464.8,942.2 465.8,944.4 466.8,946.4 467.8,948.2 468.8,949.9 469.8,951.7 470.8,953.3 471.8,954.8 472.8,956.2 473.8,957.6 474.8,959.0 475.8,960.4 476.8,961.6 477.8,962.9 478.8,964.1 479.8,965.4 480.8,966.8 481.8,968.0 482.8,969.1 483.8,970.1 484.8,971.0 485.8,971.9 486.8,972.7 487.8,973.4 488.8,974.3 489.8,975.1 490.8,976.0 491.8,976.7 492.8,977.4 493.8,978.1 494.8,978.6 495.8,979.2 496.8,979.7 497.8,980.3 498.8,980.7 499.8,981.3 500.8,981.9 501.8,982.5 502.8,983.0 503.8,983.5 504.8,983.9 505.8,984.4 506.8,984.8 507.8,985.3 508.8,985.5 509.8,986.0 510.8,986.4 511.8,987.0 512.8,987.3 513.8,987.6 514.8,987.8 515.8,988.1 516.8,988.3 517.8,988.7 518.8,989.1 519.8,989.3 520.8,989.7 521.8,989.7 522.8,990.0 523.8,990.1 524.8,990.6 525.8,990.8 526.8,990.8 527.8,991.0 528.8,991.3 529.8,991.6 530.8,991.7 531.8,991.9 532.8,992.2 533.8,992.6 534.8,992.7 535.8,993.1 536.8,993.3 537.8,993.6 538.8,993.7 539.8,993.9 540.8,994.3 541.8,994.6 542.8,994.7 543.8,994.7 544.8,994.7 545.8,994.9 546.8,995.1 547.8,995.3 548.8,995.6 549.8,995.7 550.8,995.9 551.8,996.0 552.8,995.9 553.8,996.0 554.8,996.1 555.8,996.4 556.8,996.6 557.8,996.7 558.8,996.8 559.8,996.9 560.8,996.9 561.8,996.9 562.8,997.1 563.8,997.3 564.8,997.5 565.8,997.6 566.8,997.8 567.8,997.9 568.8,997.9 569.8,997.9 570.8,997.9 571.8,998.1 572.8,998.1 573.8,998.3 574.8,998.4 575.8,998.5 576.8,998.7 577.8,998.8 578.8,998.7 579.8,998.6" fill="none" stroke="#1a0a08" stroke-width="3.0" stroke-linejoin="round"/>
<polyline points="147.1,978.0 148.1,977.1 149.1,976.1 150.1,975.1 151.1,974.1 152.1,973.0 153.1,971.8 154.1,970.6 155.1,969.3 156.1,968.0 157.1,966.5 158.1,965.0 159.1,963.3 160.1,961.6 161.1,959.8 162.1,957.8 163.1,955.7 164.1,953.5 165.1,951.1 166.1,948.6 167.1,945.8 168.1,942.9 169.1,939.7 170.1,936.4 171.1,932.7 172.1,928.9 173.1,924.7 174.1,920.3 175.1,915.6 176.1,910.6 177.1,905.3 178.1,899.8 179.1,894.0 180.1,888.0 181.1,881.8 182.1,875.6 183.1,869.2 184.1,862.9 185.1,856.8 186.1,851.0 187.1,845.5 188.1,840.7 189.1,836.5 190.1,833.1 191.1,830.7 192.1,829.3 193.1,828.9 194.1,829.6 195.1,831.2 196.1,833.7 197.1,837.0 198.1,840.9 199.1,845.2 200.1,849.9 201.1,854.7 202.1,859.5 203.1,864.2 204.1,868.7 205.1,873.0 206.1,876.9 207.1,880.6 208.1,883.8 209.1,886.7 210.1,889.2 211.1,891.3 212.1,893.1 213.1,894.5 214.1,895.6 215.1,896.5 216.1,897.0 217.1,897.3 218.1,897.3 219.1,897.1 220.1,896.7 221.1,896.0 222.1,895.2 223.1,894.1 224.1,892.9 225.1,891.4 226.1,889.8 227.1,888.1 228.1,886.2 229.1,884.2 230.1,882.1 231.1,879.9 232.1,877.8 233.1,875.6 234.1,873.5 235.1,871.6 236.1,869.8 237.1,868.2 238.1,866.9 239.1,865.8 240.1,865.1 241.1,864.7 242.1,864.7 243.1,865.1 244.1,865.8 245.1,866.8 246.1,868.1 247.1,869.7 248.1,871.6 249.1,873.6 250.1,875.8 251.1,878.1 252.1,880.5 253.1,882.9 254.1,885.2 255.1,887.5 256.1,889.7 257.1,891.8 258.1,893.7 259.1,895.5 260.1,897.0 261.1,898.4 262.1,899.5 263.1,900.4 264.1,901.1 265.1,901.6 266.1,901.7 267.1,901.7 268.1,901.3 269.1,900.7 270.1,899.7 271.1,898.5 272.1,896.9 273.1,895.0 274.1,892.8 275.1,890.3 276.1,887.4 277.1,884.2 278.1,880.9 279.1,877.3 280.1,873.6 281.1,870.0 282.1,866.5 283.1,863.2 284.1,860.4 285.1,858.2 286.1,856.6 287.1,855.8 288.1,855.8 289.1,856.6 290.1,858.1 291.1,860.3 292.1,863.0 293.1,866.1 294.1,869.3 295.1,872.7 296.1,875.9 297.1,879.1 298.1,882.0 299.1,884.7 300.1,887.0 301.1,889.1 302.1,890.7 303.1,892.1 304.1,893.1 305.1,893.7 306.1,894.1 307.1,894.1 308.1,893.9 309.1,893.4 310.1,892.7 311.1,891.8 312.1,890.7 313.1,889.4 314.1,888.1 315.1,886.7 316.1,885.3 317.1,884.0 318.1,882.8 319.1,881.7 320.1,880.8 321.1,880.1 322.1,879.7 323.1,879.5 324.1,879.6 325.1,879.9 326.1,880.4 327.1,881.0 328.1,881.8 329.1,882.6 330.1,883.4 331.1,884.2 332.1,885.0 333.1,885.7 334.1,886.3 335.1,886.8 336.1,887.1 337.1,887.2 338.1,887.2 339.1,887.0 340.1,886.6 341.1,886.0 342.1,885.1 343.1,884.1 344.1,882.9 345.1,881.4 346.1,879.7 347.1,877.9 348.1,875.8 349.1,873.5 350.1,871.0 351.1,868.4 352.1,865.5 353.1,862.5 354.1,859.2 355.1,855.8 356.1,852.1 357.1,848.3 358.1,844.2 359.1,840.0 360.1,835.6 361.1,831.0 362.1,826.3 363.1,821.5 364.1,816.6 365.1,811.8 366.1,806.9 367.1,802.1 368.1,797.4 369.1,792.8 370.1,788.4 371.1,784.2 372.1,780.1 373.1,776.2 374.1,772.5 375.1,768.9 376.1,765.5 377.1,762.2 378.1,759.0 379.1,755.9 380.1,752.9 381.1,749.9 382.1,746.8 383.1,743.8 384.1,740.8 385.1,737.8 386.1,734.7 387.1,731.8 388.1,728.9 389.1,726.2 390.1,723.6 391.1,721.3 392.1,719.3 393.1,717.7 394.1,716.5 395.1,715.7 396.1,715.4 397.1,715.7 398.1,716.6 399.1,718.0 400.1,720.0 401.1,722.6 402.1,725.7 403.1,729.2 404.1,733.2 405.1,737.5 406.1,742.1 407.1,746.8 408.1,751.7 409.1,756.7 410.1,761.6 411.1,766.4 412.1,771.0 413.1,775.5 414.1,779.7 415.1,783.7 416.1,787.4 417.1,790.8 418.1,793.9 419.1,796.7 420.1,799.2 421.1,801.5 422.1,803.6 423.1,805.4 424.1,807.1 425.1,808.7 426.1,810.1 427.1,811.6 428.1,813.1 429.1,814.6 430.1,816.3 431.1,818.2 432.1,820.3 433.1,822.6 434.1,825.3 435.1,828.2 436.1,831.5 437.1,835.1 438.1,838.9 439.1,843.0 440.1,847.3 441.1,851.8 442.1,856.4 443.1,861.0 444.1,865.7 445.1,870.4 446.1,875.1 447.1,879.7 448.1,884.1 449.1,888.5 450.1,892.6 451.1,896.7 452.1,900.5 453.1,904.3 454.1,907.8 455.1,911.2 456.1,914.5 457.1,917.7 458.1,920.8 459.1,923.8 460.1,926.7 461.1,929.6 462.1,932.4 463.1,935.0 464.1,937.6 465.1,940.0 466.1,942.3 467.1,944.5 468.1,946.6 469.1,948.5 470.1,950.3 471.1,951.9 472.1,953.5 473.1,955.0 474.1,956.5 475.1,957.9 476.1,959.3 477.1,960.6 478.1,962.0 479.1,963.3 480.1,964.6 481.1,965.8 482.1,967.1 483.1,968.2 484.1,969.3 485.1,970.4 486.1,971.4 487.1,972.3 488.1,973.2 489.1,974.0 490.1,974.8 491.1,975.5 492.1,976.2 493.1,976.8 494.1,977.5 495.1,978.1 496.1,978.7 497.1,979.2 498.1,979.8 499.1,980.4 500.1,980.9 501.1,981.5 502.1,982.0 503.1,982.6 504.1,983.1 505.1,983.6 506.1,984.1 507.1,984.6 508.1,985.1 509.1,985.5 510.1,985.9 511.1,986.4 512.1,986.7 513.1,987.1 514.1,987.5 515.1,987.8 516.1,988.2 517.1,988.5 518.1,988.8 519.1,989.1 520.1,989.4 521.1,989.6 522.1,989.9 523.1,990.1 524.1,990.4 525.1,990.6 526.1,990.8 527.1,991.1 528.1,991.3 529.1,991.5 530.1,991.7 531.1,991.9 532.1,992.2 533.1,992.4 534.1,992.6 535.1,992.8 536.1,993.1 537.1,993.3 538.1,993.5 539.1,993.8 540.1,994.0 541.1,994.2 542.1,994.4 543.1,994.6 544.1,994.8 545.1,994.9 546.1,995.1 547.1,995.3 548.1,995.4 549.1,995.6 550.1,995.7 551.1,995.9 552.1,996.0 553.1,996.2 554.1,996.3 555.1,996.5 556.1,996.6 557.1,996.7 558.1,996.9 559.1,997.0 560.1,997.1 561.1,997.2 562.1,997.3 563.1,997.5 564.1,997.6 565.1,997.7 566.1,997.8 567.1,997.9 568.1,998.0 569.1,998.1 570.1,998.2 571.1,998.2 572.1,998.3 573.1,998.4 574.1,998.5 575.1,998.5 576.1,998.6 577.1,998.6 578.1,998.7 579.1,998.8 580.1,998.9 581.1,998.9" fill="none" stroke="#e42e14" stroke-width="2.9" stroke-linejoin="round"/>
</g>
<g>
<line x1="144.9" y1="1343.6" x2="578.3" y2="1343.6" stroke="#ff7b32" stroke-width="2.4"/>
<polyline points="144.9,1338.9 145.9,1338.8 146.9,1338.7 147.9,1338.5 148.9,1338.4 149.9,1338.2 150.9,1338.1 151.9,1337.9 152.9,1337.8 153.9,1337.6 154.9,1337.4 155.9,1337.2 156.9,1337.0 157.9,1336.8 158.9,1336.6 159.9,1336.3 160.9,1336.1 161.9,1335.8 162.9,1335.5 163.9,1335.2 164.9,1334.8 165.9,1334.5 166.9,1334.1 167.9,1333.7 168.9,1333.2 169.9,1332.8 170.9,1332.3 171.9,1331.7 172.9,1331.1 173.9,1330.5 174.9,1329.8 175.9,1329.0 176.9,1328.2 177.9,1327.3 178.9,1326.3 179.9,1325.3 180.9,1324.1 181.9,1322.8 182.9,1321.4 183.9,1319.9 184.9,1318.2 185.9,1316.3 186.9,1314.3 187.9,1312.0 188.9,1309.5 189.9,1306.7 190.9,1303.7 191.9,1300.4 192.9,1296.8 193.9,1292.8 194.9,1288.6 195.9,1284.1 196.9,1279.3 197.9,1274.5 198.9,1269.6 199.9,1264.9 200.9,1260.6 201.9,1256.9 202.9,1254.1 203.9,1252.3 204.9,1251.6 205.9,1252.3 206.9,1254.1 207.9,1256.9 208.9,1260.6 209.9,1264.9 210.9,1269.6 211.9,1274.5 212.9,1279.3 213.9,1284.1 214.9,1288.6 215.9,1292.8 216.9,1296.8 217.9,1300.4 218.9,1303.7 219.9,1306.7 220.9,1309.5 221.9,1312.0 222.9,1314.3 223.9,1316.3 224.9,1318.2 225.9,1319.9 226.9,1321.4 227.9,1322.8 228.9,1324.1 229.9,1325.3 230.9,1326.3 231.9,1327.3 232.9,1328.2 233.9,1329.0 234.9,1329.8 235.9,1330.5 236.9,1331.1 237.9,1331.7 238.9,1332.3 239.9,1332.8 240.9,1333.2 241.9,1333.7 242.9,1334.1 243.9,1334.5 244.9,1334.8 245.9,1335.2 246.9,1335.5 247.9,1335.8 248.9,1336.1 249.9,1336.3 250.9,1336.6 251.9,1336.8 252.9,1337.0 253.9,1337.2 254.9,1337.4 255.9,1337.6 256.9,1337.8 257.9,1337.9 258.9,1338.1 259.9,1338.2 260.9,1338.4 261.9,1338.5 262.9,1338.7 263.9,1338.8 264.9,1338.9 265.9,1339.0 266.9,1339.1 267.9,1339.2 268.9,1339.3 269.9,1339.4 270.9,1339.5 271.9,1339.6 272.9,1339.6 273.9,1339.7 274.9,1339.8 275.9,1339.9 276.9,1339.9 277.9,1340.0 278.9,1340.1 279.9,1340.1 280.9,1340.2 281.9,1340.2 282.9,1340.3 283.9,1340.3 284.9,1340.4 285.9,1340.4 286.9,1340.5 287.9,1340.5 288.9,1340.6 289.9,1340.6 290.9,1340.7 291.9,1340.7 292.9,1340.7 293.9,1340.8 294.9,1340.8 295.9,1340.9 296.9,1340.9 297.9,1340.9 298.9,1340.9 299.9,1341.0 300.9,1341.0 301.9,1341.0 302.9,1341.1 303.9,1341.1 304.9,1341.1 305.9,1341.1 306.9,1341.2 307.9,1341.2 308.9,1341.2 309.9,1341.2 310.9,1341.3 311.9,1341.3 312.9,1341.3 313.9,1341.3 314.9,1341.3 315.9,1341.4 316.9,1341.4 317.9,1341.4 318.9,1341.4 319.9,1341.4 320.9,1341.4 321.9,1341.5 322.9,1341.5 323.9,1341.5 324.9,1341.5 325.9,1341.5 326.9,1341.5 327.9,1341.6 328.9,1341.6 329.9,1341.6 330.9,1341.6 331.9,1341.6 332.9,1341.6 333.9,1341.6 334.9,1341.6 335.9,1341.7 336.9,1341.7 337.9,1341.7 338.9,1341.7 339.9,1341.7 340.9,1341.7 341.9,1341.7 342.9,1341.7 343.9,1341.7 344.9,1341.8 345.9,1341.8 346.9,1341.8 347.9,1341.8 348.9,1341.8 349.9,1341.8 350.9,1341.8 351.9,1341.8 352.9,1341.8 353.9,1341.8 354.9,1341.8 355.9,1341.8 356.9,1341.9 357.9,1341.9 358.9,1341.9 359.9,1341.9 360.9,1341.9 361.9,1341.9 362.9,1341.9 363.9,1341.9 364.9,1341.9 365.9,1341.9 366.9,1341.9 367.9,1341.9 368.9,1341.9 369.9,1341.9 370.9,1341.9 371.9,1341.9 372.9,1342.0 373.9,1342.0 374.9,1342.0 375.9,1342.0 376.9,1342.0 377.9,1342.0 378.9,1342.0 379.9,1342.0 380.9,1342.0 381.9,1342.0 382.9,1342.0 383.9,1342.0 384.9,1342.0 385.9,1342.0 386.9,1342.0 387.9,1342.0 388.9,1342.0 389.9,1342.0 390.9,1342.0 391.9,1342.0 392.9,1342.0 393.9,1342.1 394.9,1342.1 395.9,1342.1 396.9,1342.1 397.9,1342.1 398.9,1342.1 399.9,1342.1 400.9,1342.1 401.9,1342.1 402.9,1342.1 403.9,1342.1 404.9,1342.1 405.9,1342.1 406.9,1342.1 407.9,1342.1 408.9,1342.1 409.9,1342.1 410.9,1342.1 411.9,1342.1 412.9,1342.1 413.9,1342.1 414.9,1342.1 415.9,1342.1 416.9,1342.1 417.9,1342.1 418.9,1342.1 419.9,1342.1 420.9,1342.1 421.9,1342.1 422.9,1342.1 423.9,1342.1 424.9,1342.1 425.9,1342.2 426.9,1342.2 427.9,1342.2 428.9,1342.2 429.9,1342.2 430.9,1342.2 431.9,1342.2 432.9,1342.2 433.9,1342.2 434.9,1342.2 435.9,1342.2 436.9,1342.2 437.9,1342.2 438.9,1342.2 439.9,1342.2 440.9,1342.2 441.9,1342.2 442.9,1342.2 443.9,1342.2 444.9,1342.2 445.9,1342.2 446.9,1342.2 447.9,1342.2 448.9,1342.2 449.9,1342.2 450.9,1342.2 451.9,1342.2 452.9,1342.2 453.9,1342.2 454.9,1342.2 455.9,1342.2 456.9,1342.2 457.9,1342.2 458.9,1342.2 459.9,1342.2 460.9,1342.2 461.9,1342.2 462.9,1342.2 463.9,1342.2 464.9,1342.2 465.9,1342.2 466.9,1342.2 467.9,1342.2 468.9,1342.2 469.9,1342.2 470.9,1342.2 471.9,1342.2 472.9,1342.2 473.9,1342.2 474.9,1342.2 475.9,1342.2 476.9,1342.2 477.9,1342.2 478.9,1342.2 479.9,1342.2 480.9,1342.2 481.9,1342.2 482.9,1342.2 483.9,1342.3 484.9,1342.3 485.9,1342.3 486.9,1342.3 487.9,1342.3 488.9,1342.3 489.9,1342.3 490.9,1342.3 491.9,1342.3 492.9,1342.3 493.9,1342.3 494.9,1342.3 495.9,1342.3 496.9,1342.3 497.9,1342.3 498.9,1342.3 499.9,1342.3 500.9,1342.3 501.9,1342.3 502.9,1342.3 503.9,1342.3 504.9,1342.3 505.9,1342.3 506.9,1342.3 507.9,1342.3 508.9,1342.3 509.9,1342.3 510.9,1342.3 511.9,1342.3 512.9,1342.3 513.9,1342.3 514.9,1342.3 515.9,1342.3 516.9,1342.3 517.9,1342.3 518.9,1342.3 519.9,1342.3 520.9,1342.3 521.9,1342.3 522.9,1342.3 523.9,1342.3 524.9,1342.3 525.9,1342.3 526.9,1342.3 527.9,1342.3 528.9,1342.3 529.9,1342.3 530.9,1342.3 531.9,1342.3 532.9,1342.3 533.9,1342.3 534.9,1342.3 535.9,1342.3 536.9,1342.3 537.9,1342.3 538.9,1342.3 539.9,1342.3 540.9,1342.3 541.9,1342.3 542.9,1342.3 543.9,1342.3 544.9,1342.3 545.9,1342.3 546.9,1342.3 547.9,1342.3 548.9,1342.3 549.9,1342.3 550.9,1342.3 551.9,1342.3 552.9,1342.3 553.9,1342.3 554.9,1342.3 555.9,1342.3 556.9,1342.3 557.9,1342.3 558.9,1342.3 559.9,1342.3 560.9,1342.3 561.9,1342.3 562.9,1342.3 563.9,1342.3 564.9,1342.3 565.9,1342.3 566.9,1342.3 567.9,1342.3 568.9,1342.3 569.9,1342.3 570.9,1342.3 571.9,1342.3 572.9,1342.3 573.9,1342.3 574.9,1342.3 575.9,1342.3 576.9,1342.3 577.9,1342.3" fill="none" stroke="#2ee02e" stroke-width="2.3" stroke-linejoin="round"/>
<polyline points="144.9,1329.3 145.9,1329.0 146.9,1328.8 147.9,1328.5 148.9,1328.3 149.9,1328.0 150.9,1327.7 151.9,1327.4 152.9,1327.1 153.9,1326.8 154.9,1326.5 155.9,1326.2 156.9,1325.8 157.9,1325.5 158.9,1325.1 159.9,1324.8 160.9,1324.4 161.9,1324.0 162.9,1323.6 163.9,1323.2 164.9,1322.7 165.9,1322.3 166.9,1321.8 167.9,1321.4 168.9,1320.9 169.9,1320.4 170.9,1319.8 171.9,1319.3 172.9,1318.7 173.9,1318.2 174.9,1317.5 175.9,1316.9 176.9,1316.3 177.9,1315.6 178.9,1314.9 179.9,1314.2 180.9,1313.4 181.9,1312.6 182.9,1311.8 183.9,1311.0 184.9,1310.1 185.9,1309.2 186.9,1308.3 187.9,1307.3 188.9,1306.2 189.9,1305.2 190.9,1304.0 191.9,1302.9 192.9,1301.7 193.9,1300.4 194.9,1299.1 195.9,1297.7 196.9,1296.2 197.9,1294.7 198.9,1293.2 199.9,1291.5 200.9,1289.8 201.9,1288.0 202.9,1286.1 203.9,1284.1 204.9,1282.0 205.9,1279.8 206.9,1277.5 207.9,1275.1 208.9,1272.6 209.9,1269.9 210.9,1267.2 211.9,1264.3 212.9,1261.2 213.9,1258.0 214.9,1254.6 215.9,1251.1 216.9,1247.4 217.9,1243.5 218.9,1239.4 219.9,1235.1 220.9,1230.7 221.9,1226.0 222.9,1221.1 223.9,1216.0 224.9,1210.7 225.9,1205.2 226.9,1199.5 227.9,1193.6 228.9,1187.5 229.9,1181.3 230.9,1174.9 231.9,1168.4 232.9,1161.8 233.9,1155.2 234.9,1148.6 235.9,1142.1 236.9,1135.7 237.9,1129.5 238.9,1123.5 239.9,1117.9 240.9,1112.8 241.9,1108.1 242.9,1104.0 243.9,1100.6 244.9,1097.9 245.9,1096.0 246.9,1094.9 247.9,1094.6 248.9,1095.1 249.9,1096.5 250.9,1098.6 251.9,1101.6 252.9,1105.2 253.9,1109.4 254.9,1114.3 255.9,1119.6 256.9,1125.3 257.9,1131.3 258.9,1137.6 259.9,1144.0 260.9,1150.6 261.9,1157.2 262.9,1163.8 263.9,1170.4 264.9,1176.8 265.9,1183.2 266.9,1189.4 267.9,1195.4 268.9,1201.2 269.9,1206.9 270.9,1212.3 271.9,1217.6 272.9,1222.6 273.9,1227.4 274.9,1232.0 275.9,1236.4 276.9,1240.6 277.9,1244.7 278.9,1248.5 279.9,1252.2 280.9,1255.6 281.9,1259.0 282.9,1262.1 283.9,1265.1 284.9,1268.0 285.9,1270.8 286.9,1273.4 287.9,1275.8 288.9,1278.2 289.9,1280.5 290.9,1282.6 291.9,1284.7 292.9,1286.6 293.9,1288.5 294.9,1290.3 295.9,1292.0 296.9,1293.6 297.9,1295.2 298.9,1296.7 299.9,1298.1 300.9,1299.5 301.9,1300.8 302.9,1302.0 303.9,1303.2 304.9,1304.4 305.9,1305.5 306.9,1306.6 307.9,1307.6 308.9,1308.5 309.9,1309.5 310.9,1310.4 311.9,1311.2 312.9,1312.1 313.9,1312.9 314.9,1313.7 315.9,1314.4 316.9,1315.1 317.9,1315.8 318.9,1316.5 319.9,1317.1 320.9,1317.7 321.9,1318.3 322.9,1318.9 323.9,1319.5 324.9,1320.0 325.9,1320.5 326.9,1321.0 327.9,1321.5 328.9,1322.0 329.9,1322.4 330.9,1322.9 331.9,1323.3 332.9,1323.7 333.9,1324.1 334.9,1324.5 335.9,1324.9 336.9,1325.2 337.9,1325.6 338.9,1325.9 339.9,1326.3 340.9,1326.6 341.9,1326.9 342.9,1327.2 343.9,1327.5 344.9,1327.8 345.9,1328.1 346.9,1328.3 347.9,1328.6 348.9,1328.9 349.9,1329.1 350.9,1329.4 351.9,1329.6 352.9,1329.8 353.9,1330.0 354.9,1330.3 355.9,1330.5 356.9,1330.7 357.9,1330.9 358.9,1331.1 359.9,1331.3 360.9,1331.5 361.9,1331.6 362.9,1331.8 363.9,1332.0 364.9,1332.2 365.9,1332.3 366.9,1332.5 367.9,1332.7 368.9,1332.8 369.9,1333.0 370.9,1333.1 371.9,1333.3 372.9,1333.4 373.9,1333.5 374.9,1333.7 375.9,1333.8 376.9,1333.9 377.9,1334.1 378.9,1334.2 379.9,1334.3 380.9,1334.4 381.9,1334.5 382.9,1334.6 383.9,1334.7 384.9,1334.9 385.9,1335.0 386.9,1335.1 387.9,1335.2 388.9,1335.3 389.9,1335.4 390.9,1335.5 391.9,1335.6 392.9,1335.6 393.9,1335.7 394.9,1335.8 395.9,1335.9 396.9,1336.0 397.9,1336.1 398.9,1336.2 399.9,1336.2 400.9,1336.3 401.9,1336.4 402.9,1336.5 403.9,1336.5 404.9,1336.6 405.9,1336.7 406.9,1336.8 407.9,1336.8 408.9,1336.9 409.9,1337.0 410.9,1337.0 411.9,1337.1 412.9,1337.2 413.9,1337.2 414.9,1337.3 415.9,1337.3 416.9,1337.4 417.9,1337.5 418.9,1337.5 419.9,1337.6 420.9,1337.6 421.9,1337.7 422.9,1337.7 423.9,1337.8 424.9,1337.8 425.9,1337.9 426.9,1337.9 427.9,1338.0 428.9,1338.0 429.9,1338.1 430.9,1338.1 431.9,1338.2 432.9,1338.2 433.9,1338.3 434.9,1338.3 435.9,1338.3 436.9,1338.4 437.9,1338.4 438.9,1338.5 439.9,1338.5 440.9,1338.5 441.9,1338.6 442.9,1338.6 443.9,1338.7 444.9,1338.7 445.9,1338.7 446.9,1338.8 447.9,1338.8 448.9,1338.8 449.9,1338.9 450.9,1338.9 451.9,1338.9 452.9,1339.0 453.9,1339.0 454.9,1339.0 455.9,1339.1 456.9,1339.1 457.9,1339.1 458.9,1339.2 459.9,1339.2 460.9,1339.2 461.9,1339.3 462.9,1339.3 463.9,1339.3 464.9,1339.3 465.9,1339.4 466.9,1339.4 467.9,1339.4 468.9,1339.5 469.9,1339.5 470.9,1339.5 471.9,1339.5 472.9,1339.6 473.9,1339.6 474.9,1339.6 475.9,1339.6 476.9,1339.7 477.9,1339.7 478.9,1339.7 479.9,1339.7 480.9,1339.7 481.9,1339.8 482.9,1339.8 483.9,1339.8 484.9,1339.8 485.9,1339.9 486.9,1339.9 487.9,1339.9 488.9,1339.9 489.9,1339.9 490.9,1340.0 491.9,1340.0 492.9,1340.0 493.9,1340.0 494.9,1340.0 495.9,1340.1 496.9,1340.1 497.9,1340.1 498.9,1340.1 499.9,1340.1 500.9,1340.2 501.9,1340.2 502.9,1340.2 503.9,1340.2 504.9,1340.2 505.9,1340.2 506.9,1340.3 507.9,1340.3 508.9,1340.3 509.9,1340.3 510.9,1340.3 511.9,1340.3 512.9,1340.4 513.9,1340.4 514.9,1340.4 515.9,1340.4 516.9,1340.4 517.9,1340.4 518.9,1340.4 519.9,1340.5 520.9,1340.5 521.9,1340.5 522.9,1340.5 523.9,1340.5 524.9,1340.5 525.9,1340.5 526.9,1340.6 527.9,1340.6 528.9,1340.6 529.9,1340.6 530.9,1340.6 531.9,1340.6 532.9,1340.6 533.9,1340.6 534.9,1340.7 535.9,1340.7 536.9,1340.7 537.9,1340.7 538.9,1340.7 539.9,1340.7 540.9,1340.7 541.9,1340.7 542.9,1340.7 543.9,1340.8 544.9,1340.8 545.9,1340.8 546.9,1340.8 547.9,1340.8 548.9,1340.8 549.9,1340.8 550.9,1340.8 551.9,1340.8 552.9,1340.9 553.9,1340.9 554.9,1340.9 555.9,1340.9 556.9,1340.9 557.9,1340.9 558.9,1340.9 559.9,1340.9 560.9,1340.9 561.9,1340.9 562.9,1341.0 563.9,1341.0 564.9,1341.0 565.9,1341.0 566.9,1341.0 567.9,1341.0 568.9,1341.0 569.9,1341.0 570.9,1341.0 571.9,1341.0 572.9,1341.0 573.9,1341.0 574.9,1341.1 575.9,1341.1 576.9,1341.1 577.9,1341.1" fill="none" stroke="#2a50f5" stroke-width="2.3" stroke-linejoin="round"/>
<polyline points="144.9,1340.9 145.9,1340.9 146.9,1340.9 147.9,1340.8 148.9,1340.8 149.9,1340.8 150.9,1340.8 151.9,1340.8 152.9,1340.7 153.9,1340.7 154.9,1340.7 155.9,1340.7 156.9,1340.6 157.9,1340.6 158.9,1340.6 159.9,1340.6 160.9,1340.5 161.9,1340.5 162.9,1340.5 163.9,1340.4 164.9,1340.4 165.9,1340.4 166.9,1340.3 167.9,1340.3 168.9,1340.3 169.9,1340.2 170.9,1340.2 171.9,1340.2 172.9,1340.1 173.9,1340.1 174.9,1340.1 175.9,1340.0 176.9,1340.0 177.9,1339.9 178.9,1339.9 179.9,1339.9 180.9,1339.8 181.9,1339.8 182.9,1339.7 183.9,1339.7 184.9,1339.6 185.9,1339.6 186.9,1339.5 187.9,1339.5 188.9,1339.4 189.9,1339.4 190.9,1339.3 191.9,1339.2 192.9,1339.2 193.9,1339.1 194.9,1339.1 195.9,1339.0 196.9,1338.9 197.9,1338.8 198.9,1338.8 199.9,1338.7 200.9,1338.6 201.9,1338.5 202.9,1338.5 203.9,1338.4 204.9,1338.3 205.9,1338.2 206.9,1338.1 207.9,1338.0 208.9,1337.9 209.9,1337.8 210.9,1337.7 211.9,1337.6 212.9,1337.5 213.9,1337.3 214.9,1337.2 215.9,1337.1 216.9,1337.0 217.9,1336.8 218.9,1336.7 219.9,1336.5 220.9,1336.4 221.9,1336.2 222.9,1336.1 223.9,1335.9 224.9,1335.7 225.9,1335.5 226.9,1335.3 227.9,1335.1 228.9,1334.9 229.9,1334.7 230.9,1334.4 231.9,1334.2 232.9,1334.0 233.9,1333.7 234.9,1333.4 235.9,1333.1 236.9,1332.8 237.9,1332.5 238.9,1332.2 239.9,1331.8 240.9,1331.4 241.9,1331.0 242.9,1330.6 243.9,1330.2 244.9,1329.7 245.9,1329.3 246.9,1328.8 247.9,1328.2 248.9,1327.6 249.9,1327.0 250.9,1326.4 251.9,1325.7 252.9,1325.0 253.9,1324.2 254.9,1323.4 255.9,1322.5 256.9,1321.6 257.9,1320.6 258.9,1319.5 259.9,1318.4 260.9,1317.1 261.9,1315.8 262.9,1314.4 263.9,1312.9 264.9,1311.2 265.9,1309.4 266.9,1307.5 267.9,1305.4 268.9,1303.2 269.9,1300.7 270.9,1298.0 271.9,1295.1 272.9,1291.9 273.9,1288.5 274.9,1284.7 275.9,1280.6 276.9,1276.1 277.9,1271.2 278.9,1265.8 279.9,1260.0 280.9,1253.6 281.9,1246.8 282.9,1239.4 283.9,1231.5 284.9,1223.1 285.9,1214.3 286.9,1205.2 287.9,1195.9 288.9,1186.8 289.9,1177.9 290.9,1169.8 291.9,1162.7 292.9,1157.0 293.9,1153.1 294.9,1151.1 295.9,1151.2 296.9,1153.4 297.9,1157.5 298.9,1163.4 299.9,1170.6 300.9,1178.8 301.9,1187.7 302.9,1196.9 303.9,1206.1 304.9,1215.2 305.9,1224.0 306.9,1232.3 307.9,1240.2 308.9,1247.5 309.9,1254.3 310.9,1260.6 311.9,1266.4 312.9,1271.7 313.9,1276.5 314.9,1281.0 315.9,1285.1 316.9,1288.8 317.9,1292.3 318.9,1295.4 319.9,1298.3 320.9,1301.0 321.9,1303.4 322.9,1305.6 323.9,1307.7 324.9,1309.6 325.9,1311.4 326.9,1313.0 327.9,1314.6 328.9,1316.0 329.9,1317.3 330.9,1318.5 331.9,1319.6 332.9,1320.7 333.9,1321.7 334.9,1322.6 335.9,1323.5 336.9,1324.3 337.9,1325.1 338.9,1325.8 339.9,1326.5 340.9,1327.1 341.9,1327.7 342.9,1328.3 343.9,1328.8 344.9,1329.3 345.9,1329.8 346.9,1330.2 347.9,1330.7 348.9,1331.1 349.9,1331.5 350.9,1331.8 351.9,1332.2 352.9,1332.5 353.9,1332.8 354.9,1333.1 355.9,1333.4 356.9,1333.7 357.9,1334.0 358.9,1334.2 359.9,1334.5 360.9,1334.7 361.9,1334.9 362.9,1335.1 363.9,1335.3 364.9,1335.5 365.9,1335.7 366.9,1335.9 367.9,1336.1 368.9,1336.2 369.9,1336.4 370.9,1336.6 371.9,1336.7 372.9,1336.8 373.9,1337.0 374.9,1337.1 375.9,1337.2 376.9,1337.4 377.9,1337.5 378.9,1337.6 379.9,1337.7 380.9,1337.8 381.9,1337.9 382.9,1338.0 383.9,1338.1 384.9,1338.2 385.9,1338.3 386.9,1338.4 387.9,1338.5 388.9,1338.6 389.9,1338.6 390.9,1338.7 391.9,1338.8 392.9,1338.9 393.9,1338.9 394.9,1339.0 395.9,1339.1 396.9,1339.1 397.9,1339.2 398.9,1339.3 399.9,1339.3 400.9,1339.4 401.9,1339.4 402.9,1339.5 403.9,1339.5 404.9,1339.6 405.9,1339.6 406.9,1339.7 407.9,1339.7 408.9,1339.8 409.9,1339.8 410.9,1339.9 411.9,1339.9 412.9,1340.0 413.9,1340.0 414.9,1340.0 415.9,1340.1 416.9,1340.1 417.9,1340.1 418.9,1340.2 419.9,1340.2 420.9,1340.3 421.9,1340.3 422.9,1340.3 423.9,1340.4 424.9,1340.4 425.9,1340.4 426.9,1340.4 427.9,1340.5 428.9,1340.5 429.9,1340.5 430.9,1340.6 431.9,1340.6 432.9,1340.6 433.9,1340.6 434.9,1340.7 435.9,1340.7 436.9,1340.7 437.9,1340.7 438.9,1340.8 439.9,1340.8 440.9,1340.8 441.9,1340.8 442.9,1340.8 443.9,1340.9 444.9,1340.9 445.9,1340.9 446.9,1340.9 447.9,1340.9 448.9,1341.0 449.9,1341.0 450.9,1341.0 451.9,1341.0 452.9,1341.0 453.9,1341.1 454.9,1341.1 455.9,1341.1 456.9,1341.1 457.9,1341.1 458.9,1341.1 459.9,1341.2 460.9,1341.2 461.9,1341.2 462.9,1341.2 463.9,1341.2 464.9,1341.2 465.9,1341.2 466.9,1341.3 467.9,1341.3 468.9,1341.3 469.9,1341.3 470.9,1341.3 471.9,1341.3 472.9,1341.3 473.9,1341.3 474.9,1341.4 475.9,1341.4 476.9,1341.4 477.9,1341.4 478.9,1341.4 479.9,1341.4 480.9,1341.4 481.9,1341.4 482.9,1341.4 483.9,1341.5 484.9,1341.5 485.9,1341.5 486.9,1341.5 487.9,1341.5 488.9,1341.5 489.9,1341.5 490.9,1341.5 491.9,1341.5 492.9,1341.5 493.9,1341.5 494.9,1341.6 495.9,1341.6 496.9,1341.6 497.9,1341.6 498.9,1341.6 499.9,1341.6 500.9,1341.6 501.9,1341.6 502.9,1341.6 503.9,1341.6 504.9,1341.6 505.9,1341.6 506.9,1341.7 507.9,1341.7 508.9,1341.7 509.9,1341.7 510.9,1341.7 511.9,1341.7 512.9,1341.7 513.9,1341.7 514.9,1341.7 515.9,1341.7 516.9,1341.7 517.9,1341.7 518.9,1341.7 519.9,1341.7 520.9,1341.7 521.9,1341.7 522.9,1341.8 523.9,1341.8 524.9,1341.8 525.9,1341.8 526.9,1341.8 527.9,1341.8 528.9,1341.8 529.9,1341.8 530.9,1341.8 531.9,1341.8 532.9,1341.8 533.9,1341.8 534.9,1341.8 535.9,1341.8 536.9,1341.8 537.9,1341.8 538.9,1341.8 539.9,1341.8 540.9,1341.8 541.9,1341.9 542.9,1341.9 543.9,1341.9 544.9,1341.9 545.9,1341.9 546.9,1341.9 547.9,1341.9 548.9,1341.9 549.9,1341.9 550.9,1341.9 551.9,1341.9 552.9,1341.9 553.9,1341.9 554.9,1341.9 555.9,1341.9 556.9,1341.9 557.9,1341.9 558.9,1341.9 559.9,1341.9 560.9,1341.9 561.9,1341.9 562.9,1341.9 563.9,1341.9 564.9,1341.9 565.9,1341.9 566.9,1342.0 567.9,1342.0 568.9,1342.0 569.9,1342.0 570.9,1342.0 571.9,1342.0 572.9,1342.0 573.9,1342.0 574.9,1342.0 575.9,1342.0 576.9,1342.0 577.9,1342.0" fill="none" stroke="#22eaf0" stroke-width="2.3" stroke-linejoin="round"/>
<polyline points="144.9,1341.6 145.9,1341.6 146.9,1341.5 147.9,1341.5 148.9,1341.5 149.9,1341.5 150.9,1341.5 151.9,1341.5 152.9,1341.5 153.9,1341.5 154.9,1341.5 155.9,1341.5 156.9,1341.4 157.9,1341.4 158.9,1341.4 159.9,1341.4 160.9,1341.4 161.9,1341.4 162.9,1341.4 163.9,1341.4 164.9,1341.3 165.9,1341.3 166.9,1341.3 167.9,1341.3 168.9,1341.3 169.9,1341.3 170.9,1341.3 171.9,1341.2 172.9,1341.2 173.9,1341.2 174.9,1341.2 175.9,1341.2 176.9,1341.2 177.9,1341.1 178.9,1341.1 179.9,1341.1 180.9,1341.1 181.9,1341.1 182.9,1341.1 183.9,1341.0 184.9,1341.0 185.9,1341.0 186.9,1341.0 187.9,1341.0 188.9,1340.9 189.9,1340.9 190.9,1340.9 191.9,1340.9 192.9,1340.8 193.9,1340.8 194.9,1340.8 195.9,1340.8 196.9,1340.8 197.9,1340.7 198.9,1340.7 199.9,1340.7 200.9,1340.6 201.9,1340.6 202.9,1340.6 203.9,1340.6 204.9,1340.5 205.9,1340.5 206.9,1340.5 207.9,1340.4 208.9,1340.4 209.9,1340.4 210.9,1340.3 211.9,1340.3 212.9,1340.3 213.9,1340.2 214.9,1340.2 215.9,1340.1 216.9,1340.1 217.9,1340.1 218.9,1340.0 219.9,1340.0 220.9,1339.9 221.9,1339.9 222.9,1339.8 223.9,1339.8 224.9,1339.7 225.9,1339.7 226.9,1339.6 227.9,1339.6 228.9,1339.5 229.9,1339.4 230.9,1339.4 231.9,1339.3 232.9,1339.3 233.9,1339.2 234.9,1339.1 235.9,1339.0 236.9,1339.0 237.9,1338.9 238.9,1338.8 239.9,1338.7 240.9,1338.7 241.9,1338.6 242.9,1338.5 243.9,1338.4 244.9,1338.3 245.9,1338.2 246.9,1338.1 247.9,1338.0 248.9,1337.9 249.9,1337.8 250.9,1337.6 251.9,1337.5 252.9,1337.4 253.9,1337.2 254.9,1337.1 255.9,1337.0 256.9,1336.8 257.9,1336.7 258.9,1336.5 259.9,1336.3 260.9,1336.1 261.9,1336.0 262.9,1335.8 263.9,1335.6 264.9,1335.3 265.9,1335.1 266.9,1334.9 267.9,1334.7 268.9,1334.4 269.9,1334.1 270.9,1333.8 271.9,1333.6 272.9,1333.2 273.9,1332.9 274.9,1332.6 275.9,1332.2 276.9,1331.8 277.9,1331.4 278.9,1331.0 279.9,1330.6 280.9,1330.1 281.9,1329.6 282.9,1329.1 283.9,1328.5 284.9,1327.9 285.9,1327.3 286.9,1326.6 287.9,1325.9 288.9,1325.2 289.9,1324.3 290.9,1323.5 291.9,1322.6 292.9,1321.6 293.9,1320.5 294.9,1319.4 295.9,1318.2 296.9,1316.9 297.9,1315.5 298.9,1314.0 299.9,1312.4 300.9,1310.7 301.9,1308.8 302.9,1306.8 303.9,1304.6 304.9,1302.3 305.9,1299.8 306.9,1297.2 307.9,1294.3 308.9,1291.2 309.9,1287.9 310.9,1284.5 311.9,1280.8 312.9,1276.9 313.9,1272.8 314.9,1268.6 315.9,1264.3 316.9,1259.9 317.9,1255.5 318.9,1251.3 319.9,1247.2 320.9,1243.5 321.9,1240.2 322.9,1237.5 323.9,1235.4 324.9,1234.1 325.9,1233.7 326.9,1234.0 327.9,1235.2 328.9,1237.1 329.9,1239.7 330.9,1242.9 331.9,1246.6 332.9,1250.6 333.9,1254.8 334.9,1259.2 335.9,1263.6 336.9,1267.9 337.9,1272.1 338.9,1276.2 339.9,1280.2 340.9,1283.9 341.9,1287.4 342.9,1290.7 343.9,1293.8 344.9,1296.7 345.9,1299.4 346.9,1301.9 347.9,1304.3 348.9,1306.5 349.9,1308.5 350.9,1310.4 351.9,1312.1 352.9,1313.7 353.9,1315.3 354.9,1316.7 355.9,1318.0 356.9,1319.2 357.9,1320.3 358.9,1321.4 359.9,1322.4 360.9,1323.3 361.9,1324.2 362.9,1325.0 363.9,1325.8 364.9,1326.5 365.9,1327.2 366.9,1327.8 367.9,1328.4 368.9,1329.0 369.9,1329.5 370.9,1330.0 371.9,1330.5 372.9,1331.0 373.9,1331.4 374.9,1331.8 375.9,1332.2 376.9,1332.5 377.9,1332.9 378.9,1333.2 379.9,1333.5 380.9,1333.8 381.9,1334.1 382.9,1334.4 383.9,1334.6 384.9,1334.9 385.9,1335.1 386.9,1335.3 387.9,1335.5 388.9,1335.7 389.9,1335.9 390.9,1336.1 391.9,1336.3 392.9,1336.5 393.9,1336.6 394.9,1336.8 395.9,1336.9 396.9,1337.1 397.9,1337.2 398.9,1337.4 399.9,1337.5 400.9,1337.6 401.9,1337.7 402.9,1337.8 403.9,1338.0 404.9,1338.1 405.9,1338.2 406.9,1338.3 407.9,1338.4 408.9,1338.5 409.9,1338.6 410.9,1338.6 411.9,1338.7 412.9,1338.8 413.9,1338.9 414.9,1339.0 415.9,1339.0 416.9,1339.1 417.9,1339.2 418.9,1339.2 419.9,1339.3 420.9,1339.4 421.9,1339.4 422.9,1339.5 423.9,1339.6 424.9,1339.6 425.9,1339.7 426.9,1339.7 427.9,1339.8 428.9,1339.8 429.9,1339.9 430.9,1339.9 431.9,1340.0 432.9,1340.0 433.9,1340.0 434.9,1340.1 435.9,1340.1 436.9,1340.2 437.9,1340.2 438.9,1340.3 439.9,1340.3 440.9,1340.3 441.9,1340.4 442.9,1340.4 443.9,1340.4 444.9,1340.5 445.9,1340.5 446.9,1340.5 447.9,1340.6 448.9,1340.6 449.9,1340.6 450.9,1340.6 451.9,1340.7 452.9,1340.7 453.9,1340.7 454.9,1340.7 455.9,1340.8 456.9,1340.8 457.9,1340.8 458.9,1340.8 459.9,1340.9 460.9,1340.9 461.9,1340.9 462.9,1340.9 463.9,1341.0 464.9,1341.0 465.9,1341.0 466.9,1341.0 467.9,1341.0 468.9,1341.1 469.9,1341.1 470.9,1341.1 471.9,1341.1 472.9,1341.1 473.9,1341.1 474.9,1341.2 475.9,1341.2 476.9,1341.2 477.9,1341.2 478.9,1341.2 479.9,1341.2 480.9,1341.3 481.9,1341.3 482.9,1341.3 483.9,1341.3 484.9,1341.3 485.9,1341.3 486.9,1341.3 487.9,1341.4 488.9,1341.4 489.9,1341.4 490.9,1341.4 491.9,1341.4 492.9,1341.4 493.9,1341.4 494.9,1341.4 495.9,1341.5 496.9,1341.5 497.9,1341.5 498.9,1341.5 499.9,1341.5 500.9,1341.5 501.9,1341.5 502.9,1341.5 503.9,1341.5 504.9,1341.5 505.9,1341.6 506.9,1341.6 507.9,1341.6 508.9,1341.6 509.9,1341.6 510.9,1341.6 511.9,1341.6 512.9,1341.6 513.9,1341.6 514.9,1341.6 515.9,1341.6 516.9,1341.7 517.9,1341.7 518.9,1341.7 519.9,1341.7 520.9,1341.7 521.9,1341.7 522.9,1341.7 523.9,1341.7 524.9,1341.7 525.9,1341.7 526.9,1341.7 527.9,1341.7 528.9,1341.7 529.9,1341.7 530.9,1341.8 531.9,1341.8 532.9,1341.8 533.9,1341.8 534.9,1341.8 535.9,1341.8 536.9,1341.8 537.9,1341.8 538.9,1341.8 539.9,1341.8 540.9,1341.8 541.9,1341.8 542.9,1341.8 543.9,1341.8 544.9,1341.8 545.9,1341.8 546.9,1341.8 547.9,1341.8 548.9,1341.9 549.9,1341.9 550.9,1341.9 551.9,1341.9 552.9,1341.9 553.9,1341.9 554.9,1341.9 555.9,1341.9 556.9,1341.9 557.9,1341.9 558.9,1341.9 559.9,1341.9 560.9,1341.9 561.9,1341.9 562.9,1341.9 563.9,1341.9 564.9,1341.9 565.9,1341.9 566.9,1341.9 567.9,1341.9 568.9,1341.9 569.9,1341.9 570.9,1342.0 571.9,1342.0 572.9,1342.0 573.9,1342.0 574.9,1342.0 575.9,1342.0 576.9,1342.0 577.9,1342.0" fill="none" stroke="#f040f0" stroke-width="2.3" stroke-linejoin="round"/>
<polyline points="144.9,1341.0 145.9,1341.0 146.9,1341.0 147.9,1341.0 148.9,1341.0 149.9,1340.9 150.9,1340.9 151.9,1340.9 152.9,1340.9 153.9,1340.9 154.9,1340.9 155.9,1340.9 156.9,1340.8 157.9,1340.8 158.9,1340.8 159.9,1340.8 160.9,1340.8 161.9,1340.8 162.9,1340.8 163.9,1340.7 164.9,1340.7 165.9,1340.7 166.9,1340.7 167.9,1340.7 168.9,1340.7 169.9,1340.6 170.9,1340.6 171.9,1340.6 172.9,1340.6 173.9,1340.6 174.9,1340.5 175.9,1340.5 176.9,1340.5 177.9,1340.5 178.9,1340.5 179.9,1340.4 180.9,1340.4 181.9,1340.4 182.9,1340.4 183.9,1340.4 184.9,1340.3 185.9,1340.3 186.9,1340.3 187.9,1340.3 188.9,1340.2 189.9,1340.2 190.9,1340.2 191.9,1340.2 192.9,1340.2 193.9,1340.1 194.9,1340.1 195.9,1340.1 196.9,1340.0 197.9,1340.0 198.9,1340.0 199.9,1340.0 200.9,1339.9 201.9,1339.9 202.9,1339.9 203.9,1339.9 204.9,1339.8 205.9,1339.8 206.9,1339.8 207.9,1339.7 208.9,1339.7 209.9,1339.7 210.9,1339.6 211.9,1339.6 212.9,1339.6 213.9,1339.5 214.9,1339.5 215.9,1339.4 216.9,1339.4 217.9,1339.4 218.9,1339.3 219.9,1339.3 220.9,1339.3 221.9,1339.2 222.9,1339.2 223.9,1339.1 224.9,1339.1 225.9,1339.0 226.9,1339.0 227.9,1338.9 228.9,1338.9 229.9,1338.8 230.9,1338.8 231.9,1338.7 232.9,1338.7 233.9,1338.6 234.9,1338.6 235.9,1338.5 236.9,1338.5 237.9,1338.4 238.9,1338.4 239.9,1338.3 240.9,1338.2 241.9,1338.2 242.9,1338.1 243.9,1338.0 244.9,1338.0 245.9,1337.9 246.9,1337.8 247.9,1337.8 248.9,1337.7 249.9,1337.6 250.9,1337.5 251.9,1337.5 252.9,1337.4 253.9,1337.3 254.9,1337.2 255.9,1337.1 256.9,1337.0 257.9,1336.9 258.9,1336.9 259.9,1336.8 260.9,1336.7 261.9,1336.6 262.9,1336.5 263.9,1336.3 264.9,1336.2 265.9,1336.1 266.9,1336.0 267.9,1335.9 268.9,1335.8 269.9,1335.6 270.9,1335.5 271.9,1335.4 272.9,1335.3 273.9,1335.1 274.9,1335.0 275.9,1334.8 276.9,1334.7 277.9,1334.5 278.9,1334.4 279.9,1334.2 280.9,1334.0 281.9,1333.8 282.9,1333.7 283.9,1333.5 284.9,1333.3 285.9,1333.1 286.9,1332.9 287.9,1332.7 288.9,1332.4 289.9,1332.2 290.9,1332.0 291.9,1331.7 292.9,1331.5 293.9,1331.2 294.9,1331.0 295.9,1330.7 296.9,1330.4 297.9,1330.1 298.9,1329.8 299.9,1329.5 300.9,1329.2 301.9,1328.8 302.9,1328.5 303.9,1328.1 304.9,1327.7 305.9,1327.3 306.9,1326.9 307.9,1326.5 308.9,1326.0 309.9,1325.6 310.9,1325.1 311.9,1324.6 312.9,1324.1 313.9,1323.5 314.9,1322.9 315.9,1322.3 316.9,1321.7 317.9,1321.1 318.9,1320.4 319.9,1319.7 320.9,1319.0 321.9,1318.2 322.9,1317.4 323.9,1316.6 324.9,1315.7 325.9,1314.8 326.9,1313.9 327.9,1312.9 328.9,1311.8 329.9,1310.7 330.9,1309.6 331.9,1308.4 332.9,1307.1 333.9,1305.8 334.9,1304.4 335.9,1303.0 336.9,1301.4 337.9,1299.9 338.9,1298.2 339.9,1296.5 340.9,1294.6 341.9,1292.7 342.9,1290.8 343.9,1288.7 344.9,1286.5 345.9,1284.3 346.9,1282.0 347.9,1279.5 348.9,1277.0 349.9,1274.5 350.9,1271.8 351.9,1269.1 352.9,1266.3 353.9,1263.4 354.9,1260.6 355.9,1257.7 356.9,1254.8 357.9,1251.9 358.9,1249.1 359.9,1246.3 360.9,1243.7 361.9,1241.1 362.9,1238.8 363.9,1236.6 364.9,1234.6 365.9,1232.9 366.9,1231.5 367.9,1230.4 368.9,1229.6 369.9,1229.2 370.9,1229.1 371.9,1229.4 372.9,1230.0 373.9,1230.9 374.9,1232.2 375.9,1233.7 376.9,1235.6 377.9,1237.6 378.9,1239.9 379.9,1242.4 380.9,1245.0 381.9,1247.7 382.9,1250.5 383.9,1253.3 384.9,1256.2 385.9,1259.1 386.9,1262.0 387.9,1264.9 388.9,1267.7 389.9,1270.4 390.9,1273.1 391.9,1275.8 392.9,1278.3 393.9,1280.8 394.9,1283.1 395.9,1285.4 396.9,1287.6 397.9,1289.7 398.9,1291.8 399.9,1293.7 400.9,1295.6 401.9,1297.3 402.9,1299.0 403.9,1300.7 404.9,1302.2 405.9,1303.7 406.9,1305.1 407.9,1306.5 408.9,1307.7 409.9,1309.0 410.9,1310.1 411.9,1311.3 412.9,1312.3 413.9,1313.4 414.9,1314.3 415.9,1315.3 416.9,1316.2 417.9,1317.0 418.9,1317.8 419.9,1318.6 420.9,1319.4 421.9,1320.1 422.9,1320.8 423.9,1321.4 424.9,1322.0 425.9,1322.6 426.9,1323.2 427.9,1323.8 428.9,1324.3 429.9,1324.8 430.9,1325.3 431.9,1325.8 432.9,1326.2 433.9,1326.7 434.9,1327.1 435.9,1327.5 436.9,1327.9 437.9,1328.3 438.9,1328.6 439.9,1329.0 440.9,1329.3 441.9,1329.6 442.9,1330.0 443.9,1330.3 444.9,1330.5 445.9,1330.8 446.9,1331.1 447.9,1331.4 448.9,1331.6 449.9,1331.9 450.9,1332.1 451.9,1332.3 452.9,1332.6 453.9,1332.8 454.9,1333.0 455.9,1333.2 456.9,1333.4 457.9,1333.6 458.9,1333.8 459.9,1333.9 460.9,1334.1 461.9,1334.3 462.9,1334.4 463.9,1334.6 464.9,1334.7 465.9,1334.9 466.9,1335.0 467.9,1335.2 468.9,1335.3 469.9,1335.5 470.9,1335.6 471.9,1335.7 472.9,1335.8 473.9,1336.0 474.9,1336.1 475.9,1336.2 476.9,1336.3 477.9,1336.4 478.9,1336.5 479.9,1336.6 480.9,1336.7 481.9,1336.8 482.9,1336.9 483.9,1337.0 484.9,1337.1 485.9,1337.2 486.9,1337.3 487.9,1337.3 488.9,1337.4 489.9,1337.5 490.9,1337.6 491.9,1337.7 492.9,1337.7 493.9,1337.8 494.9,1337.9 495.9,1337.9 496.9,1338.0 497.9,1338.1 498.9,1338.1 499.9,1338.2 500.9,1338.3 501.9,1338.3 502.9,1338.4 503.9,1338.4 504.9,1338.5 505.9,1338.6 506.9,1338.6 507.9,1338.7 508.9,1338.7 509.9,1338.8 510.9,1338.8 511.9,1338.9 512.9,1338.9 513.9,1339.0 514.9,1339.0 515.9,1339.1 516.9,1339.1 517.9,1339.1 518.9,1339.2 519.9,1339.2 520.9,1339.3 521.9,1339.3 522.9,1339.4 523.9,1339.4 524.9,1339.4 525.9,1339.5 526.9,1339.5 527.9,1339.5 528.9,1339.6 529.9,1339.6 530.9,1339.6 531.9,1339.7 532.9,1339.7 533.9,1339.7 534.9,1339.8 535.9,1339.8 536.9,1339.8 537.9,1339.9 538.9,1339.9 539.9,1339.9 540.9,1340.0 541.9,1340.0 542.9,1340.0 543.9,1340.0 544.9,1340.1 545.9,1340.1 546.9,1340.1 547.9,1340.1 548.9,1340.2 549.9,1340.2 550.9,1340.2 551.9,1340.2 552.9,1340.3 553.9,1340.3 554.9,1340.3 555.9,1340.3 556.9,1340.4 557.9,1340.4 558.9,1340.4 559.9,1340.4 560.9,1340.4 561.9,1340.5 562.9,1340.5 563.9,1340.5 564.9,1340.5 565.9,1340.5 566.9,1340.6 567.9,1340.6 568.9,1340.6 569.9,1340.6 570.9,1340.6 571.9,1340.6 572.9,1340.7 573.9,1340.7 574.9,1340.7 575.9,1340.7 576.9,1340.7 577.9,1340.7" fill="none" stroke="#929232" stroke-width="2.3" stroke-linejoin="round"/>
<polyline points="144.9,1341.8 145.9,1341.8 146.9,1341.8 147.9,1341.8 148.9,1341.8 149.9,1341.8 150.9,1341.8 151.9,1341.8 152.9,1341.8 153.9,1341.8 154.9,1341.8 155.9,1341.8 156.9,1341.8 157.9,1341.8 158.9,1341.8 159.9,1341.8 160.9,1341.8 161.9,1341.8 162.9,1341.8 163.9,1341.8 164.9,1341.8 165.9,1341.7 166.9,1341.7 167.9,1341.7 168.9,1341.7 169.9,1341.7 170.9,1341.7 171.9,1341.7 172.9,1341.7 173.9,1341.7 174.9,1341.7 175.9,1341.7 176.9,1341.7 177.9,1341.7 178.9,1341.7 179.9,1341.7 180.9,1341.7 181.9,1341.6 182.9,1341.6 183.9,1341.6 184.9,1341.6 185.9,1341.6 186.9,1341.6 187.9,1341.6 188.9,1341.6 189.9,1341.6 190.9,1341.6 191.9,1341.6 192.9,1341.6 193.9,1341.6 194.9,1341.5 195.9,1341.5 196.9,1341.5 197.9,1341.5 198.9,1341.5 199.9,1341.5 200.9,1341.5 201.9,1341.5 202.9,1341.5 203.9,1341.5 204.9,1341.5 205.9,1341.4 206.9,1341.4 207.9,1341.4 208.9,1341.4 209.9,1341.4 210.9,1341.4 211.9,1341.4 212.9,1341.4 213.9,1341.4 214.9,1341.4 215.9,1341.3 216.9,1341.3 217.9,1341.3 218.9,1341.3 219.9,1341.3 220.9,1341.3 221.9,1341.3 222.9,1341.3 223.9,1341.2 224.9,1341.2 225.9,1341.2 226.9,1341.2 227.9,1341.2 228.9,1341.2 229.9,1341.2 230.9,1341.1 231.9,1341.1 232.9,1341.1 233.9,1341.1 234.9,1341.1 235.9,1341.1 236.9,1341.1 237.9,1341.0 238.9,1341.0 239.9,1341.0 240.9,1341.0 241.9,1341.0 242.9,1341.0 243.9,1340.9 244.9,1340.9 245.9,1340.9 246.9,1340.9 247.9,1340.9 248.9,1340.8 249.9,1340.8 250.9,1340.8 251.9,1340.8 252.9,1340.8 253.9,1340.7 254.9,1340.7 255.9,1340.7 256.9,1340.7 257.9,1340.6 258.9,1340.6 259.9,1340.6 260.9,1340.6 261.9,1340.5 262.9,1340.5 263.9,1340.5 264.9,1340.5 265.9,1340.4 266.9,1340.4 267.9,1340.4 268.9,1340.3 269.9,1340.3 270.9,1340.3 271.9,1340.3 272.9,1340.2 273.9,1340.2 274.9,1340.2 275.9,1340.1 276.9,1340.1 277.9,1340.1 278.9,1340.0 279.9,1340.0 280.9,1339.9 281.9,1339.9 282.9,1339.9 283.9,1339.8 284.9,1339.8 285.9,1339.7 286.9,1339.7 287.9,1339.6 288.9,1339.6 289.9,1339.5 290.9,1339.5 291.9,1339.4 292.9,1339.4 293.9,1339.3 294.9,1339.3 295.9,1339.2 296.9,1339.2 297.9,1339.1 298.9,1339.0 299.9,1339.0 300.9,1338.9 301.9,1338.9 302.9,1338.8 303.9,1338.7 304.9,1338.6 305.9,1338.6 306.9,1338.5 307.9,1338.4 308.9,1338.3 309.9,1338.2 310.9,1338.2 311.9,1338.1 312.9,1338.0 313.9,1337.9 314.9,1337.8 315.9,1337.7 316.9,1337.6 317.9,1337.5 318.9,1337.4 319.9,1337.3 320.9,1337.1 321.9,1337.0 322.9,1336.9 323.9,1336.8 324.9,1336.6 325.9,1336.5 326.9,1336.3 327.9,1336.2 328.9,1336.0 329.9,1335.9 330.9,1335.7 331.9,1335.5 332.9,1335.3 333.9,1335.2 334.9,1335.0 335.9,1334.8 336.9,1334.5 337.9,1334.3 338.9,1334.1 339.9,1333.9 340.9,1333.6 341.9,1333.4 342.9,1333.1 343.9,1332.8 344.9,1332.5 345.9,1332.2 346.9,1331.9 347.9,1331.6 348.9,1331.2 349.9,1330.9 350.9,1330.5 351.9,1330.1 352.9,1329.7 353.9,1329.2 354.9,1328.8 355.9,1328.3 356.9,1327.8 357.9,1327.2 358.9,1326.7 359.9,1326.1 360.9,1325.5 361.9,1324.8 362.9,1324.1 363.9,1323.4 364.9,1322.6 365.9,1321.8 366.9,1321.0 367.9,1320.1 368.9,1319.2 369.9,1318.2 370.9,1317.1 371.9,1316.0 372.9,1314.8 373.9,1313.6 374.9,1312.3 375.9,1310.9 376.9,1309.4 377.9,1307.9 378.9,1306.3 379.9,1304.5 380.9,1302.8 381.9,1300.9 382.9,1298.9 383.9,1296.8 384.9,1294.7 385.9,1292.5 386.9,1290.2 387.9,1287.8 388.9,1285.4 389.9,1282.9 390.9,1280.4 391.9,1278.0 392.9,1275.5 393.9,1273.1 394.9,1270.8 395.9,1268.7 396.9,1266.6 397.9,1264.8 398.9,1263.3 399.9,1262.0 400.9,1261.0 401.9,1260.3 402.9,1260.0 403.9,1260.0 404.9,1260.4 405.9,1261.2 406.9,1262.2 407.9,1263.6 408.9,1265.2 409.9,1267.0 410.9,1269.1 411.9,1271.3 412.9,1273.6 413.9,1276.0 414.9,1278.5 415.9,1280.9 416.9,1283.4 417.9,1285.9 418.9,1288.3 419.9,1290.6 420.9,1292.9 421.9,1295.1 422.9,1297.3 423.9,1299.3 424.9,1301.3 425.9,1303.1 426.9,1304.9 427.9,1306.6 428.9,1308.2 429.9,1309.7 430.9,1311.2 431.9,1312.5 432.9,1313.8 433.9,1315.1 434.9,1316.2 435.9,1317.3 436.9,1318.4 437.9,1319.3 438.9,1320.3 439.9,1321.2 440.9,1322.0 441.9,1322.8 442.9,1323.6 443.9,1324.3 444.9,1324.9 445.9,1325.6 446.9,1326.2 447.9,1326.8 448.9,1327.3 449.9,1327.9 450.9,1328.4 451.9,1328.9 452.9,1329.3 453.9,1329.7 454.9,1330.2 455.9,1330.6 456.9,1330.9 457.9,1331.3 458.9,1331.6 459.9,1332.0 460.9,1332.3 461.9,1332.6 462.9,1332.9 463.9,1333.1 464.9,1333.4 465.9,1333.7 466.9,1333.9 467.9,1334.1 468.9,1334.4 469.9,1334.6 470.9,1334.8 471.9,1335.0 472.9,1335.2 473.9,1335.4 474.9,1335.6 475.9,1335.7 476.9,1335.9 477.9,1336.1 478.9,1336.2 479.9,1336.4 480.9,1336.5 481.9,1336.6 482.9,1336.8 483.9,1336.9 484.9,1337.0 485.9,1337.2 486.9,1337.3 487.9,1337.4 488.9,1337.5 489.9,1337.6 490.9,1337.7 491.9,1337.8 492.9,1337.9 493.9,1338.0 494.9,1338.1 495.9,1338.2 496.9,1338.3 497.9,1338.3 498.9,1338.4 499.9,1338.5 500.9,1338.6 501.9,1338.7 502.9,1338.7 503.9,1338.8 504.9,1338.9 505.9,1338.9 506.9,1339.0 507.9,1339.1 508.9,1339.1 509.9,1339.2 510.9,1339.2 511.9,1339.3 512.9,1339.3 513.9,1339.4 514.9,1339.5 515.9,1339.5 516.9,1339.6 517.9,1339.6 518.9,1339.6 519.9,1339.7 520.9,1339.7 521.9,1339.8 522.9,1339.8 523.9,1339.9 524.9,1339.9 525.9,1339.9 526.9,1340.0 527.9,1340.0 528.9,1340.1 529.9,1340.1 530.9,1340.1 531.9,1340.2 532.9,1340.2 533.9,1340.2 534.9,1340.3 535.9,1340.3 536.9,1340.3 537.9,1340.4 538.9,1340.4 539.9,1340.4 540.9,1340.4 541.9,1340.5 542.9,1340.5 543.9,1340.5 544.9,1340.6 545.9,1340.6 546.9,1340.6 547.9,1340.6 548.9,1340.6 549.9,1340.7 550.9,1340.7 551.9,1340.7 552.9,1340.7 553.9,1340.8 554.9,1340.8 555.9,1340.8 556.9,1340.8 557.9,1340.8 558.9,1340.9 559.9,1340.9 560.9,1340.9 561.9,1340.9 562.9,1340.9 563.9,1341.0 564.9,1341.0 565.9,1341.0 566.9,1341.0 567.9,1341.0 568.9,1341.0 569.9,1341.1 570.9,1341.1 571.9,1341.1 572.9,1341.1 573.9,1341.1 574.9,1341.1 575.9,1341.2 576.9,1341.2 577.9,1341.2" fill="none" stroke="#9048fa" stroke-width="2.3" stroke-linejoin="round"/>
<polyline points="144.9,1342.2 145.9,1342.2 146.9,1342.2 147.9,1342.2 148.9,1342.2 149.9,1342.2 150.9,1342.2 151.9,1342.2 152.9,1342.2 153.9,1342.2 154.9,1342.2 155.9,1342.2 156.9,1342.2 157.9,1342.2 158.9,1342.2 159.9,1342.2 160.9,1342.2 161.9,1342.2 162.9,1342.2 163.9,1342.2 164.9,1342.2 165.9,1342.2 166.9,1342.2 167.9,1342.2 168.9,1342.2 169.9,1342.2 170.9,1342.2 171.9,1342.2 172.9,1342.2 173.9,1342.2 174.9,1342.2 175.9,1342.2 176.9,1342.2 177.9,1342.2 178.9,1342.2 179.9,1342.2 180.9,1342.2 181.9,1342.2 182.9,1342.2 183.9,1342.2 184.9,1342.2 185.9,1342.1 186.9,1342.1 187.9,1342.1 188.9,1342.1 189.9,1342.1 190.9,1342.1 191.9,1342.1 192.9,1342.1 193.9,1342.1 194.9,1342.1 195.9,1342.1 196.9,1342.1 197.9,1342.1 198.9,1342.1 199.9,1342.1 200.9,1342.1 201.9,1342.1 202.9,1342.1 203.9,1342.1 204.9,1342.1 205.9,1342.1 206.9,1342.1 207.9,1342.1 208.9,1342.1 209.9,1342.1 210.9,1342.1 211.9,1342.1 212.9,1342.1 213.9,1342.1 214.9,1342.1 215.9,1342.1 216.9,1342.1 217.9,1342.1 218.9,1342.1 219.9,1342.1 220.9,1342.1 221.9,1342.1 222.9,1342.0 223.9,1342.0 224.9,1342.0 225.9,1342.0 226.9,1342.0 227.9,1342.0 228.9,1342.0 229.9,1342.0 230.9,1342.0 231.9,1342.0 232.9,1342.0 233.9,1342.0 234.9,1342.0 235.9,1342.0 236.9,1342.0 237.9,1342.0 238.9,1342.0 239.9,1342.0 240.9,1342.0 241.9,1342.0 242.9,1342.0 243.9,1342.0 244.9,1342.0 245.9,1342.0 246.9,1341.9 247.9,1341.9 248.9,1341.9 249.9,1341.9 250.9,1341.9 251.9,1341.9 252.9,1341.9 253.9,1341.9 254.9,1341.9 255.9,1341.9 256.9,1341.9 257.9,1341.9 258.9,1341.9 259.9,1341.9 260.9,1341.9 261.9,1341.9 262.9,1341.9 263.9,1341.9 264.9,1341.8 265.9,1341.8 266.9,1341.8 267.9,1341.8 268.9,1341.8 269.9,1341.8 270.9,1341.8 271.9,1341.8 272.9,1341.8 273.9,1341.8 274.9,1341.8 275.9,1341.8 276.9,1341.8 277.9,1341.7 278.9,1341.7 279.9,1341.7 280.9,1341.7 281.9,1341.7 282.9,1341.7 283.9,1341.7 284.9,1341.7 285.9,1341.7 286.9,1341.7 287.9,1341.7 288.9,1341.6 289.9,1341.6 290.9,1341.6 291.9,1341.6 292.9,1341.6 293.9,1341.6 294.9,1341.6 295.9,1341.6 296.9,1341.6 297.9,1341.5 298.9,1341.5 299.9,1341.5 300.9,1341.5 301.9,1341.5 302.9,1341.5 303.9,1341.5 304.9,1341.4 305.9,1341.4 306.9,1341.4 307.9,1341.4 308.9,1341.4 309.9,1341.4 310.9,1341.4 311.9,1341.3 312.9,1341.3 313.9,1341.3 314.9,1341.3 315.9,1341.3 316.9,1341.2 317.9,1341.2 318.9,1341.2 319.9,1341.2 320.9,1341.2 321.9,1341.1 322.9,1341.1 323.9,1341.1 324.9,1341.1 325.9,1341.0 326.9,1341.0 327.9,1341.0 328.9,1341.0 329.9,1340.9 330.9,1340.9 331.9,1340.9 332.9,1340.9 333.9,1340.8 334.9,1340.8 335.9,1340.8 336.9,1340.7 337.9,1340.7 338.9,1340.7 339.9,1340.6 340.9,1340.6 341.9,1340.6 342.9,1340.5 343.9,1340.5 344.9,1340.4 345.9,1340.4 346.9,1340.3 347.9,1340.3 348.9,1340.3 349.9,1340.2 350.9,1340.2 351.9,1340.1 352.9,1340.0 353.9,1340.0 354.9,1339.9 355.9,1339.9 356.9,1339.8 357.9,1339.8 358.9,1339.7 359.9,1339.6 360.9,1339.5 361.9,1339.5 362.9,1339.4 363.9,1339.3 364.9,1339.2 365.9,1339.1 366.9,1339.1 367.9,1339.0 368.9,1338.9 369.9,1338.8 370.9,1338.7 371.9,1338.5 372.9,1338.4 373.9,1338.3 374.9,1338.2 375.9,1338.1 376.9,1337.9 377.9,1337.8 378.9,1337.6 379.9,1337.5 380.9,1337.3 381.9,1337.1 382.9,1337.0 383.9,1336.8 384.9,1336.6 385.9,1336.4 386.9,1336.1 387.9,1335.9 388.9,1335.7 389.9,1335.4 390.9,1335.1 391.9,1334.9 392.9,1334.6 393.9,1334.2 394.9,1333.9 395.9,1333.5 396.9,1333.2 397.9,1332.8 398.9,1332.3 399.9,1331.9 400.9,1331.4 401.9,1330.9 402.9,1330.4 403.9,1329.8 404.9,1329.2 405.9,1328.5 406.9,1327.8 407.9,1327.1 408.9,1326.3 409.9,1325.5 410.9,1324.6 411.9,1323.7 412.9,1322.7 413.9,1321.6 414.9,1320.5 415.9,1319.3 416.9,1318.0 417.9,1316.7 418.9,1315.3 419.9,1313.9 420.9,1312.4 421.9,1310.8 422.9,1309.2 423.9,1307.6 424.9,1306.0 425.9,1304.4 426.9,1302.8 427.9,1301.3 428.9,1299.9 429.9,1298.6 430.9,1297.5 431.9,1296.5 432.9,1295.8 433.9,1295.3 434.9,1295.1 435.9,1295.2 436.9,1295.5 437.9,1296.0 438.9,1296.8 439.9,1297.8 440.9,1299.0 441.9,1300.3 442.9,1301.8 443.9,1303.3 444.9,1304.9 445.9,1306.5 446.9,1308.1 447.9,1309.7 448.9,1311.3 449.9,1312.8 450.9,1314.3 451.9,1315.8 452.9,1317.1 453.9,1318.4 454.9,1319.7 455.9,1320.8 456.9,1321.9 457.9,1323.0 458.9,1324.0 459.9,1324.9 460.9,1325.8 461.9,1326.6 462.9,1327.3 463.9,1328.1 464.9,1328.7 465.9,1329.4 466.9,1330.0 467.9,1330.5 468.9,1331.1 469.9,1331.6 470.9,1332.0 471.9,1332.5 472.9,1332.9 473.9,1333.3 474.9,1333.7 475.9,1334.0 476.9,1334.3 477.9,1334.6 478.9,1334.9 479.9,1335.2 480.9,1335.5 481.9,1335.7 482.9,1336.0 483.9,1336.2 484.9,1336.4 485.9,1336.6 486.9,1336.8 487.9,1337.0 488.9,1337.2 489.9,1337.4 490.9,1337.5 491.9,1337.7 492.9,1337.8 493.9,1338.0 494.9,1338.1 495.9,1338.2 496.9,1338.4 497.9,1338.5 498.9,1338.6 499.9,1338.7 500.9,1338.8 501.9,1338.9 502.9,1339.0 503.9,1339.1 504.9,1339.2 505.9,1339.3 506.9,1339.3 507.9,1339.4 508.9,1339.5 509.9,1339.6 510.9,1339.6 511.9,1339.7 512.9,1339.8 513.9,1339.8 514.9,1339.9 515.9,1340.0 516.9,1340.0 517.9,1340.1 518.9,1340.1 519.9,1340.2 520.9,1340.2 521.9,1340.3 522.9,1340.3 523.9,1340.4 524.9,1340.4 525.9,1340.4 526.9,1340.5 527.9,1340.5 528.9,1340.6 529.9,1340.6 530.9,1340.6 531.9,1340.7 532.9,1340.7 533.9,1340.7 534.9,1340.8 535.9,1340.8 536.9,1340.8 537.9,1340.9 538.9,1340.9 539.9,1340.9 540.9,1341.0 541.9,1341.0 542.9,1341.0 543.9,1341.0 544.9,1341.1 545.9,1341.1 546.9,1341.1 547.9,1341.1 548.9,1341.1 549.9,1341.2 550.9,1341.2 551.9,1341.2 552.9,1341.2 553.9,1341.2 554.9,1341.3 555.9,1341.3 556.9,1341.3 557.9,1341.3 558.9,1341.3 559.9,1341.4 560.9,1341.4 561.9,1341.4 562.9,1341.4 563.9,1341.4 564.9,1341.4 565.9,1341.4 566.9,1341.5 567.9,1341.5 568.9,1341.5 569.9,1341.5 570.9,1341.5 571.9,1341.5 572.9,1341.5 573.9,1341.6 574.9,1341.6 575.9,1341.6 576.9,1341.6 577.9,1341.6" fill="none" stroke="#ff8a26" stroke-width="2.3" stroke-linejoin="round"/>
<polyline points="145.2,1319.9 146.2,1319.3 147.2,1318.9 148.2,1318.5 149.2,1318.2 150.2,1317.8 151.2,1317.4 152.2,1316.9 153.2,1316.3 154.2,1316.0 155.2,1315.6 156.2,1314.9 157.2,1314.2 158.2,1313.5 159.2,1313.2 160.2,1312.7 161.2,1312.1 162.2,1311.3 163.2,1310.5 164.2,1309.7 165.2,1308.8 166.2,1307.9 167.2,1307.0 168.2,1306.1 169.2,1305.2 170.2,1304.3 171.2,1303.3 172.2,1302.4 173.2,1301.2 174.2,1299.9 175.2,1298.7 176.2,1297.6 177.2,1296.1 178.2,1294.5 179.2,1292.9 180.2,1291.2 181.2,1289.3 182.2,1287.3 183.2,1285.1 184.2,1282.6 185.2,1279.6 186.2,1276.7 187.2,1273.7 188.2,1270.4 189.2,1266.6 190.2,1262.4 191.2,1258.0 192.2,1253.5 193.2,1248.3 194.2,1242.9 195.2,1236.9 196.2,1230.7 197.2,1224.2 198.2,1217.6 199.2,1210.7 200.2,1204.0 201.2,1197.7 202.2,1191.9 203.2,1187.0 204.2,1183.0 205.2,1180.4 206.2,1178.7 207.2,1178.0 208.2,1178.3 209.2,1179.2 210.2,1180.8 211.2,1182.5 212.2,1184.4 213.2,1185.9 214.2,1187.2 215.2,1187.9 216.2,1188.6 217.2,1188.7 218.2,1188.5 219.2,1187.4 220.2,1186.1 221.2,1184.3 222.2,1182.2 223.2,1179.3 224.2,1176.0 225.2,1172.2 226.2,1168.2 227.2,1163.6 228.2,1158.7 229.2,1153.4 230.2,1147.8 231.2,1142.0 232.2,1136.1 233.2,1130.0 234.2,1123.6 235.2,1117.3 236.2,1111.1 237.2,1105.1 238.2,1099.1 239.2,1093.3 240.2,1087.7 241.2,1082.3 242.2,1077.5 243.2,1073.1 244.2,1069.5 245.2,1066.5 246.2,1064.2 247.2,1062.5 248.2,1061.8 249.2,1061.8 250.2,1062.6 251.2,1064.0 252.2,1066.2 253.2,1069.1 254.2,1072.5 255.2,1076.3 256.2,1080.8 257.2,1085.4 258.2,1090.4 259.2,1095.4 260.2,1100.7 261.2,1105.8 262.2,1110.9 263.2,1115.8 264.2,1120.6 265.2,1125.0 266.2,1129.3 267.2,1133.4 268.2,1137.1 269.2,1140.4 270.2,1143.3 271.2,1145.7 272.2,1147.5 273.2,1148.8 274.2,1149.9 275.2,1150.3 276.2,1150.2 277.2,1149.2 278.2,1147.9 279.2,1145.8 280.2,1143.1 281.2,1139.6 282.2,1135.4 283.2,1130.4 284.2,1124.9 285.2,1118.8 286.2,1112.1 287.2,1104.7 288.2,1097.0 289.2,1089.2 290.2,1081.7 291.2,1074.6 292.2,1068.4 293.2,1063.5 294.2,1060.3 295.2,1058.6 296.2,1058.7 297.2,1060.8 298.2,1064.7 299.2,1070.2 300.2,1076.7 301.2,1084.2 302.2,1091.9 303.2,1100.0 304.2,1108.0 305.2,1115.6 306.2,1122.5 307.2,1128.6 308.2,1134.1 309.2,1138.8 310.2,1142.8 311.2,1145.7 312.2,1148.0 313.2,1149.5 314.2,1150.6 315.2,1151.0 316.2,1150.9 317.2,1150.3 318.2,1149.4 319.2,1148.4 320.2,1147.1 321.2,1145.7 322.2,1144.5 323.2,1143.6 324.2,1143.3 325.2,1143.6 326.2,1144.4 327.2,1145.7 328.2,1147.5 329.2,1150.0 330.2,1153.0 331.2,1156.4 332.2,1159.9 333.2,1163.9 334.2,1168.0 335.2,1172.3 336.2,1176.2 337.2,1180.0 338.2,1183.4 339.2,1186.8 340.2,1189.7 341.2,1192.5 342.2,1194.7 343.2,1196.9 344.2,1198.5 345.2,1199.7 346.2,1200.5 347.2,1201.1 348.2,1201.5 349.2,1201.4 350.2,1201.3 351.2,1200.6 352.2,1199.8 353.2,1198.5 354.2,1197.3 355.2,1195.8 356.2,1194.2 357.2,1192.6 358.2,1190.6 359.2,1188.6 360.2,1186.7 361.2,1184.7 362.2,1182.7 363.2,1180.8 364.2,1179.1 365.2,1177.2 366.2,1175.6 367.2,1174.2 368.2,1173.4 369.2,1172.4 370.2,1171.8 371.2,1171.3 372.2,1171.1 373.2,1171.0 374.2,1171.4 375.2,1172.0 376.2,1172.7 377.2,1173.5 378.2,1174.5 379.2,1175.4 380.2,1176.5 381.2,1177.7 382.2,1178.9 383.2,1180.1 384.2,1181.0 385.2,1181.9 386.2,1182.6 387.2,1183.4 388.2,1184.1 389.2,1184.6 390.2,1185.0 391.2,1185.5 392.2,1185.7 393.2,1185.9 394.2,1186.0 395.2,1186.0 396.2,1186.0 397.2,1186.3 398.2,1186.8 399.2,1187.4 400.2,1187.8 401.2,1188.4 402.2,1189.2 403.2,1190.3 404.2,1191.6 405.2,1193.3 406.2,1194.9 407.2,1197.0 408.2,1199.1 409.2,1201.6 410.2,1203.8 411.2,1206.2 412.2,1208.4 413.2,1210.8 414.2,1213.2 415.2,1215.9 416.2,1218.2 417.2,1220.5 418.2,1222.5 419.2,1224.5 420.2,1226.3 421.2,1228.1 422.2,1229.7 423.2,1231.1 424.2,1232.3 425.2,1233.3 426.2,1234.3 427.2,1235.3 428.2,1236.3 429.2,1237.2 430.2,1238.0 431.2,1238.8 432.2,1239.8 433.2,1241.0 434.2,1242.5 435.2,1244.3 436.2,1246.4 437.2,1248.4 438.2,1250.6 439.2,1252.6 440.2,1255.0 441.2,1257.4 442.2,1259.8 443.2,1262.4 444.2,1265.1 445.2,1267.7 446.2,1270.2 447.2,1272.6 448.2,1275.0 449.2,1277.4 450.2,1279.8 451.2,1281.9 452.2,1284.1 453.2,1286.1 454.2,1288.3 455.2,1290.2 456.2,1292.0 457.2,1293.5 458.2,1294.8 459.2,1296.4 460.2,1298.0 461.2,1299.7 462.2,1300.8 463.2,1302.0 464.2,1303.0 465.2,1304.4 466.2,1305.6 467.2,1306.7 468.2,1307.8 469.2,1308.8 470.2,1309.6 471.2,1310.4 472.2,1311.2 473.2,1312.1 474.2,1312.8 475.2,1313.5 476.2,1314.2 477.2,1314.9 478.2,1315.6 479.2,1316.0 480.2,1316.6 481.2,1317.2 482.2,1318.0 483.2,1318.5 484.2,1319.1 485.2,1319.5 486.2,1319.9 487.2,1320.5 488.2,1321.0 489.2,1321.6 490.2,1322.0 491.2,1322.6 492.2,1323.1 493.2,1323.4 494.2,1323.7 495.2,1323.9 496.2,1324.3 497.2,1324.5 498.2,1324.8 499.2,1324.9 500.2,1325.1 501.2,1325.2 502.2,1325.5 503.2,1325.8 504.2,1326.1 505.2,1326.3 506.2,1326.4 507.2,1326.4 508.2,1326.6 509.2,1326.8 510.2,1327.2 511.2,1327.6 512.2,1327.8 513.2,1328.0 514.2,1327.9 515.2,1328.3 516.2,1328.5 517.2,1328.9 518.2,1329.2 519.2,1329.3 520.2,1329.5 521.2,1329.9 522.2,1330.2 523.2,1330.5 524.2,1330.6 525.2,1330.8 526.2,1330.9 527.2,1331.2 528.2,1331.2 529.2,1331.4 530.2,1331.4 531.2,1331.5 532.2,1331.3 533.2,1331.3 534.2,1331.6 535.2,1332.1 536.2,1332.3 537.2,1332.3 538.2,1332.4 539.2,1332.5 540.2,1332.7 541.2,1332.7 542.2,1332.8 543.2,1332.6 544.2,1332.9 545.2,1333.1 546.2,1333.5 547.2,1333.4 548.2,1333.5 549.2,1333.5 550.2,1333.6 551.2,1333.9 552.2,1334.1 553.2,1334.3 554.2,1334.2 555.2,1334.1 556.2,1334.2 557.2,1334.3 558.2,1334.4 559.2,1334.4 560.2,1334.3 561.2,1334.4 562.2,1334.6 563.2,1334.6 564.2,1334.7 565.2,1334.7 566.2,1334.8 567.2,1334.8 568.2,1334.7 569.2,1334.9 570.2,1334.9 571.2,1335.0 572.2,1335.1 573.2,1335.3 574.2,1335.4 575.2,1335.4 576.2,1335.6 577.2,1335.6 578.2,1335.9" fill="none" stroke="#1a0a08" stroke-width="3.0" stroke-linejoin="round"/>
<polyline points="144.9,1320.8 145.9,1320.4 146.9,1320.0 147.9,1319.6 148.9,1319.1 149.9,1318.7 150.9,1318.3 151.9,1317.8 152.9,1317.3 153.9,1316.8 154.9,1316.3 155.9,1315.8 156.9,1315.2 157.9,1314.6 158.9,1314.0 159.9,1313.4 160.9,1312.7 161.9,1312.0 162.9,1311.2 163.9,1310.5 164.9,1309.7 165.9,1308.8 166.9,1307.9 167.9,1307.0 168.9,1306.1 169.9,1305.1 170.9,1304.1 171.9,1303.1 172.9,1302.0 173.9,1300.8 174.9,1299.6 175.9,1298.3 176.9,1296.9 177.9,1295.4 178.9,1293.7 179.9,1292.0 180.9,1290.0 181.9,1288.0 182.9,1285.7 183.9,1283.3 184.9,1280.6 185.9,1277.7 186.9,1274.6 187.9,1271.2 188.9,1267.5 189.9,1263.5 190.9,1259.1 191.9,1254.4 192.9,1249.2 193.9,1243.7 194.9,1237.8 195.9,1231.6 196.9,1225.1 197.9,1218.3 198.9,1211.6 199.9,1204.9 200.9,1198.6 201.9,1192.9 202.9,1187.9 203.9,1184.0 204.9,1181.1 205.9,1179.4 206.9,1178.8 207.9,1179.2 208.9,1180.2 209.9,1181.7 210.9,1183.5 211.9,1185.2 212.9,1186.8 213.9,1188.2 214.9,1189.1 215.9,1189.7 216.9,1189.7 217.9,1189.3 218.9,1188.5 219.9,1187.1 220.9,1185.3 221.9,1183.0 222.9,1180.2 223.9,1176.9 224.9,1173.2 225.9,1169.1 226.9,1164.5 227.9,1159.6 228.9,1154.3 229.9,1148.8 230.9,1143.0 231.9,1137.0 232.9,1130.9 233.9,1124.6 234.9,1118.4 235.9,1112.1 236.9,1105.9 237.9,1099.9 238.9,1094.0 239.9,1088.4 240.9,1083.2 241.9,1078.4 242.9,1074.1 243.9,1070.4 244.9,1067.3 245.9,1065.0 246.9,1063.4 247.9,1062.6 248.9,1062.5 249.9,1063.3 250.9,1064.8 251.9,1067.1 252.9,1069.9 253.9,1073.4 254.9,1077.4 255.9,1081.7 256.9,1086.4 257.9,1091.4 258.9,1096.5 259.9,1101.6 260.9,1106.8 261.9,1111.9 262.9,1116.9 263.9,1121.7 264.9,1126.2 265.9,1130.5 266.9,1134.4 267.9,1138.1 268.9,1141.3 269.9,1144.1 270.9,1146.5 271.9,1148.4 272.9,1149.8 273.9,1150.7 274.9,1151.1 275.9,1150.9 276.9,1150.1 277.9,1148.7 278.9,1146.7 279.9,1143.9 280.9,1140.5 281.9,1136.4 282.9,1131.5 283.9,1125.9 284.9,1119.7 285.9,1112.8 286.9,1105.5 287.9,1097.9 288.9,1090.1 289.9,1082.6 290.9,1075.5 291.9,1069.3 292.9,1064.4 293.9,1061.0 294.9,1059.4 295.9,1059.7 296.9,1061.9 297.9,1065.8 298.9,1071.3 299.9,1077.9 300.9,1085.3 301.9,1093.2 302.9,1101.1 303.9,1109.0 304.9,1116.4 305.9,1123.2 306.9,1129.4 307.9,1134.9 308.9,1139.6 309.9,1143.5 310.9,1146.6 311.9,1149.0 312.9,1150.6 313.9,1151.6 314.9,1152.0 315.9,1151.8 316.9,1151.2 317.9,1150.3 318.9,1149.1 319.9,1147.9 320.9,1146.6 321.9,1145.5 322.9,1144.7 323.9,1144.3 324.9,1144.4 325.9,1145.2 326.9,1146.5 327.9,1148.4 328.9,1150.9 329.9,1154.0 330.9,1157.4 331.9,1161.2 332.9,1165.1 333.9,1169.1 334.9,1173.1 335.9,1177.1 336.9,1180.8 337.9,1184.4 338.9,1187.6 339.9,1190.6 340.9,1193.3 341.9,1195.6 342.9,1197.6 343.9,1199.2 344.9,1200.4 345.9,1201.4 346.9,1202.0 347.9,1202.3 348.9,1202.3 349.9,1201.9 350.9,1201.4 351.9,1200.5 352.9,1199.5 353.9,1198.2 354.9,1196.7 355.9,1195.1 356.9,1193.4 357.9,1191.5 358.9,1189.6 359.9,1187.6 360.9,1185.6 361.9,1183.6 362.9,1181.7 363.9,1179.9 364.9,1178.2 365.9,1176.7 366.9,1175.3 367.9,1174.2 368.9,1173.3 369.9,1172.6 370.9,1172.1 371.9,1172.0 372.9,1172.0 373.9,1172.3 374.9,1172.8 375.9,1173.4 376.9,1174.3 377.9,1175.2 378.9,1176.3 379.9,1177.4 380.9,1178.5 381.9,1179.7 382.9,1180.7 383.9,1181.8 384.9,1182.7 385.9,1183.6 386.9,1184.3 387.9,1185.0 388.9,1185.5 389.9,1185.9 390.9,1186.2 391.9,1186.4 392.9,1186.6 393.9,1186.8 394.9,1186.9 395.9,1187.1 396.9,1187.3 397.9,1187.6 398.9,1188.0 399.9,1188.6 400.9,1189.3 401.9,1190.2 402.9,1191.4 403.9,1192.7 404.9,1194.2 405.9,1195.9 406.9,1197.8 407.9,1199.9 408.9,1202.1 409.9,1204.4 410.9,1206.8 411.9,1209.3 412.9,1211.8 413.9,1214.2 414.9,1216.6 415.9,1219.0 416.9,1221.3 417.9,1223.4 418.9,1225.4 419.9,1227.3 420.9,1229.0 421.9,1230.5 422.9,1231.9 423.9,1233.1 424.9,1234.1 425.9,1235.1 426.9,1236.0 427.9,1236.8 428.9,1237.7 429.9,1238.6 430.9,1239.7 431.9,1240.8 432.9,1242.1 433.9,1243.6 434.9,1245.3 435.9,1247.1 436.9,1249.1 437.9,1251.3 438.9,1253.6 439.9,1256.0 440.9,1258.5 441.9,1261.0 442.9,1263.5 443.9,1266.1 444.9,1268.6 445.9,1271.1 446.9,1273.6 447.9,1276.0 448.9,1278.4 449.9,1280.7 450.9,1282.9 451.9,1285.0 452.9,1287.1 453.9,1289.0 454.9,1290.9 455.9,1292.7 456.9,1294.3 457.9,1295.9 458.9,1297.5 459.9,1298.9 460.9,1300.3 461.9,1301.7 462.9,1303.0 463.9,1304.2 464.9,1305.4 465.9,1306.6 466.9,1307.7 467.9,1308.7 468.9,1309.7 469.9,1310.7 470.9,1311.5 471.9,1312.4 472.9,1313.1 473.9,1313.8 474.9,1314.5 475.9,1315.2 476.9,1315.8 477.9,1316.3 478.9,1316.9 479.9,1317.5 480.9,1318.0 481.9,1318.6 482.9,1319.1 483.9,1319.6 484.9,1320.2 485.9,1320.7 486.9,1321.2 487.9,1321.7 488.9,1322.2 489.9,1322.7 490.9,1323.1 491.9,1323.6 492.9,1324.0 493.9,1324.3 494.9,1324.7 495.9,1325.0 496.9,1325.3 497.9,1325.6 498.9,1325.8 499.9,1326.1 500.9,1326.3 501.9,1326.5 502.9,1326.7 503.9,1326.9 504.9,1327.0 505.9,1327.2 506.9,1327.4 507.9,1327.6 508.9,1327.8 509.9,1328.0 510.9,1328.3 511.9,1328.5 512.9,1328.8 513.9,1329.1 514.9,1329.3 515.9,1329.6 516.9,1329.8 517.9,1330.1 518.9,1330.3 519.9,1330.5 520.9,1330.8 521.9,1330.9 522.9,1331.1 523.9,1331.3 524.9,1331.5 525.9,1331.6 526.9,1331.8 527.9,1331.9 528.9,1332.1 529.9,1332.2 530.9,1332.4 531.9,1332.5 532.9,1332.6 533.9,1332.7 534.9,1332.9 535.9,1333.0 536.9,1333.1 537.9,1333.3 538.9,1333.4 539.9,1333.5 540.9,1333.6 541.9,1333.7 542.9,1333.9 543.9,1334.0 544.9,1334.1 545.9,1334.2 546.9,1334.2 547.9,1334.3 548.9,1334.4 549.9,1334.5 550.9,1334.6 551.9,1334.6 552.9,1334.7 553.9,1334.8 554.9,1334.9 555.9,1334.9 556.9,1335.0 557.9,1335.1 558.9,1335.2 559.9,1335.2 560.9,1335.3 561.9,1335.4 562.9,1335.5 563.9,1335.5 564.9,1335.6 565.9,1335.7 566.9,1335.8 567.9,1335.9 568.9,1336.0 569.9,1336.1 570.9,1336.2 571.9,1336.2 572.9,1336.3 573.9,1336.4 574.9,1336.5 575.9,1336.6 576.9,1336.6 577.9,1336.7" fill="none" stroke="#e42e14" stroke-width="2.9" stroke-linejoin="round"/>
</g>
<line x1="397.7" y1="127" x2="397.7" y2="214" stroke="#3a9a3a" stroke-width="1" stroke-dasharray="1.5 2" opacity="0.8"/>
<line x1="439.0" y1="156.6" x2="439.0" y2="244.3" stroke="#3a9a3a" stroke-width="1" stroke-dasharray="1.5 2" opacity="0.8"/>
<line x1="402.5" y1="359.4" x2="402.5" y2="446.4" stroke="#3a9a3a" stroke-width="1" stroke-dasharray="1.5 2" opacity="0.8"/>
<line x1="432.3" y1="394.4" x2="432.3" y2="503.3" stroke="#3a9a3a" stroke-width="1" stroke-dasharray="1.5 2" opacity="0.8"/>
<line x1="399.5" y1="703.4" x2="399.5" y2="790.4" stroke="#3a9a3a" stroke-width="1" stroke-dasharray="1.5 2" opacity="0.8"/>
<line x1="434.9" y1="800.5" x2="434.9" y2="887.2" stroke="#3a9a3a" stroke-width="1" stroke-dasharray="1.5 2" opacity="0.8"/>
<line x1="402.9" y1="1165.5" x2="402.9" y2="1252.5" stroke="#3a9a3a" stroke-width="1" stroke-dasharray="1.5 2" opacity="0.8"/>
<line x1="437.3" y1="1192.4" x2="437.3" y2="1281.1" stroke="#3a9a3a" stroke-width="1" stroke-dasharray="1.5 2" opacity="0.8"/>
<defs><linearGradient id="shd" x1="0" y1="0" x2="0" y2="1"><stop offset="0" stop-color="#000" stop-opacity="0.30"/><stop offset="0.45" stop-color="#000" stop-opacity="0.10"/><stop offset="1" stop-color="#000" stop-opacity="0"/></linearGradient><linearGradient id="shl" x1="1" y1="0" x2="0" y2="0"><stop offset="0" stop-color="#000" stop-opacity="0.10"/><stop offset="1" stop-color="#000" stop-opacity="0"/></linearGradient><linearGradient id="shr" x1="0" y1="0" x2="1" y2="0"><stop offset="0" stop-color="#000" stop-opacity="0.10"/><stop offset="1" stop-color="#000" stop-opacity="0.02"/></linearGradient></defs>
<rect x="139.3" y="340.4" width="446.49999999999994" height="9" fill="url(#shd)"/>
<rect x="139.3" y="681.1" width="446.49999999999994" height="9" fill="url(#shd)"/>
<rect x="139.3" y="1020.6" width="446.49999999999994" height="9" fill="url(#shd)"/>
<rect x="139.3" y="1359.0" width="446.49999999999994" height="9" fill="url(#shd)"/>
<rect x="131.5" y="4.5" width="7.0" height="1353.5" fill="url(#shl)"/>
<rect x="585.7" y="4.5" width="7.3" height="1355.5" fill="url(#shr)"/>
<line x1="139.3" y1="4.5" x2="584.8" y2="4.5" stroke="#7a7a7a" stroke-width="2.2"/>
<line x1="584.8" y1="4.5" x2="584.8" y2="1358.0" stroke="#222" stroke-width="1.6"/>
<line x1="139.3" y1="3.7" x2="139.3" y2="1359.0" stroke="#000" stroke-width="1.8"/>
<line x1="139.3" y1="339.4" x2="585.5999999999999" y2="339.4" stroke="#111" stroke-width="2"/>
<line x1="176.4" y1="339.4" x2="176.4" y2="350.9" stroke="#444" stroke-width="1.1"/>
<line x1="245.3" y1="339.4" x2="245.3" y2="350.9" stroke="#444" stroke-width="1.1"/>
<line x1="316.8" y1="339.4" x2="316.8" y2="350.9" stroke="#444" stroke-width="1.1"/>
<line x1="389.7" y1="339.4" x2="389.7" y2="350.9" stroke="#444" stroke-width="1.1"/>
<line x1="462.0" y1="339.4" x2="462.0" y2="350.9" stroke="#444" stroke-width="1.1"/>
<line x1="530.7" y1="339.4" x2="530.7" y2="350.9" stroke="#444" stroke-width="1.1"/>
<line x1="139.3" y1="680.1" x2="585.5999999999999" y2="680.1" stroke="#111" stroke-width="2"/>
<line x1="176.4" y1="680.1" x2="176.4" y2="691.6" stroke="#444" stroke-width="1.1"/>
<line x1="245.3" y1="680.1" x2="245.3" y2="691.6" stroke="#444" stroke-width="1.1"/>
<line x1="316.8" y1="680.1" x2="316.8" y2="691.6" stroke="#444" stroke-width="1.1"/>
<line x1="389.7" y1="680.1" x2="389.7" y2="691.6" stroke="#444" stroke-width="1.1"/>
<line x1="462.0" y1="680.1" x2="462.0" y2="691.6" stroke="#444" stroke-width="1.1"/>
<line x1="530.7" y1="680.1" x2="530.7" y2="691.6" stroke="#444" stroke-width="1.1"/>
<line x1="139.3" y1="1019.6" x2="585.5999999999999" y2="1019.6" stroke="#111" stroke-width="2"/>
<line x1="176.4" y1="1019.6" x2="176.4" y2="1031.1" stroke="#444" stroke-width="1.1"/>
<line x1="245.3" y1="1019.6" x2="245.3" y2="1031.1" stroke="#444" stroke-width="1.1"/>
<line x1="316.8" y1="1019.6" x2="316.8" y2="1031.1" stroke="#444" stroke-width="1.1"/>
<line x1="389.7" y1="1019.6" x2="389.7" y2="1031.1" stroke="#444" stroke-width="1.1"/>
<line x1="462.0" y1="1019.6" x2="462.0" y2="1031.1" stroke="#444" stroke-width="1.1"/>
<line x1="530.7" y1="1019.6" x2="530.7" y2="1031.1" stroke="#444" stroke-width="1.1"/>
<line x1="139.3" y1="1358.0" x2="585.5999999999999" y2="1358.0" stroke="#111" stroke-width="2"/>
<line x1="176.4" y1="1358.0" x2="176.4" y2="1369.5" stroke="#444" stroke-width="1.1"/>
<line x1="245.3" y1="1358.0" x2="245.3" y2="1369.5" stroke="#444" stroke-width="1.1"/>
<line x1="316.8" y1="1358.0" x2="316.8" y2="1369.5" stroke="#444" stroke-width="1.1"/>
<line x1="389.7" y1="1358.0" x2="389.7" y2="1369.5" stroke="#444" stroke-width="1.1"/>
<line x1="462.0" y1="1358.0" x2="462.0" y2="1369.5" stroke="#444" stroke-width="1.1"/>
<line x1="530.7" y1="1358.0" x2="530.7" y2="1369.5" stroke="#444" stroke-width="1.1"/>
<line x1="130.2" y1="34.2" x2="139.3" y2="34.2" stroke="#222" stroke-width="1.4"/>
<line x1="135.0" y1="70.6" x2="139.3" y2="70.6" stroke="#222" stroke-width="1.4"/>
<line x1="130.2" y1="106.3" x2="139.3" y2="106.3" stroke="#222" stroke-width="1.4"/>
<line x1="135.0" y1="142.35" x2="139.3" y2="142.35" stroke="#222" stroke-width="1.4"/>
<line x1="130.2" y1="178.4" x2="139.3" y2="178.4" stroke="#222" stroke-width="1.4"/>
<line x1="135.0" y1="214.8" x2="139.3" y2="214.8" stroke="#222" stroke-width="1.4"/>
<line x1="130.2" y1="251.5" x2="139.3" y2="251.5" stroke="#222" stroke-width="1.4"/>
<line x1="135.0" y1="288.0" x2="139.3" y2="288.0" stroke="#222" stroke-width="1.4"/>
<line x1="130.2" y1="327.0" x2="139.3" y2="327.0" stroke="#222" stroke-width="1.4"/>
<line x1="130.2" y1="373.6" x2="139.3" y2="373.6" stroke="#222" stroke-width="1.4"/>
<line x1="135.0" y1="409.9" x2="139.3" y2="409.9" stroke="#222" stroke-width="1.4"/>
<line x1="130.2" y1="445.8" x2="139.3" y2="445.8" stroke="#222" stroke-width="1.4"/>
<line x1="135.0" y1="482.0" x2="139.3" y2="482.0" stroke="#222" stroke-width="1.4"/>
<line x1="130.2" y1="517.8" x2="139.3" y2="517.8" stroke="#222" stroke-width="1.4"/>
<line x1="135.0" y1="554.0" x2="139.3" y2="554.0" stroke="#222" stroke-width="1.4"/>
<line x1="130.2" y1="589.7" x2="139.3" y2="589.7" stroke="#222" stroke-width="1.4"/>
<line x1="135.0" y1="626.3" x2="139.3" y2="626.3" stroke="#222" stroke-width="1.4"/>
<line x1="130.2" y1="665.6" x2="139.3" y2="665.6" stroke="#222" stroke-width="1.4"/>
<line x1="130.2" y1="714.0" x2="139.3" y2="714.0" stroke="#222" stroke-width="1.4"/>
<line x1="135.0" y1="749.3" x2="139.3" y2="749.3" stroke="#222" stroke-width="1.4"/>
<line x1="130.2" y1="786.5" x2="139.3" y2="786.5" stroke="#222" stroke-width="1.4"/>
<line x1="135.0" y1="822.0" x2="139.3" y2="822.0" stroke="#222" stroke-width="1.4"/>
<line x1="130.2" y1="858.6" x2="139.3" y2="858.6" stroke="#222" stroke-width="1.4"/>
<line x1="135.0" y1="894.8" x2="139.3" y2="894.8" stroke="#222" stroke-width="1.4"/>
<line x1="130.2" y1="931.2" x2="139.3" y2="931.2" stroke="#222" stroke-width="1.4"/>
<line x1="135.0" y1="967.2" x2="139.3" y2="967.2" stroke="#222" stroke-width="1.4"/>
<line x1="130.2" y1="1006.4" x2="139.3" y2="1006.4" stroke="#222" stroke-width="1.4"/>
<line x1="130.2" y1="1052.1" x2="139.3" y2="1052.1" stroke="#222" stroke-width="1.4"/>
<line x1="135.0" y1="1087.6" x2="139.3" y2="1087.6" stroke="#222" stroke-width="1.4"/>
<line x1="130.2" y1="1124.0" x2="139.3" y2="1124.0" stroke="#222" stroke-width="1.4"/>
<line x1="135.0" y1="1160.2" x2="139.3" y2="1160.2" stroke="#222" stroke-width="1.4"/>
<line x1="130.2" y1="1196.6" x2="139.3" y2="1196.6" stroke="#222" stroke-width="1.4"/>
<line x1="135.0" y1="1232.8" x2="139.3" y2="1232.8" stroke="#222" stroke-width="1.4"/>
<line x1="130.2" y1="1268.8" x2="139.3" y2="1268.8" stroke="#222" stroke-width="1.4"/>
<line x1="135.0" y1="1304.9" x2="139.3" y2="1304.9" stroke="#222" stroke-width="1.4"/>
<line x1="130.2" y1="1344.1" x2="139.3" y2="1344.1" stroke="#222" stroke-width="1.4"/>
<text x="128.9" y="44.6" font-size="40" text-anchor="end">1.00</text>
<text x="128.9" y="120.0" font-size="40" text-anchor="end">0.75</text>
<text x="128.9" y="191.7" font-size="40" text-anchor="end">0.50</text>
<text x="128.9" y="262.6" font-size="40" text-anchor="end">0.25</text>
<text x="128.9" y="336.4" font-size="40" text-anchor="end">0</text>
<text x="128.7" y="382.6" font-size="40" text-anchor="end">1.00</text>
<text x="128.7" y="458.5" font-size="40" text-anchor="end">0.75</text>
<text x="128.7" y="530.9" font-size="40" text-anchor="end">0.50</text>
<text x="128.7" y="601.5" font-size="40" text-anchor="end">0.25</text>
<text x="128.7" y="675.1" font-size="40" text-anchor="end">0</text>
<text x="127.5" y="724.4" font-size="40" text-anchor="end">1.00</text>
<text x="127.5" y="800.1" font-size="40" text-anchor="end">0.75</text>
<text x="127.5" y="871.9" font-size="40" text-anchor="end">0.50</text>
<text x="127.5" y="942.5" font-size="40" text-anchor="end">0.25</text>
<text x="127.5" y="1016.6" font-size="40" text-anchor="end">0</text>
<text x="127.5" y="1062.1" font-size="40" text-anchor="end">1.00</text>
<text x="127.5" y="1137.8" font-size="40" text-anchor="end">0.75</text>
<text x="127.5" y="1208.7" font-size="40" text-anchor="end">0.50</text>
<text x="127.5" y="1279.8" font-size="40" text-anchor="end">0.25</text>
<text x="127.5" y="1354.1" font-size="40" text-anchor="end">0</text>
<rect x="451.5" y="10.2" width="128.39999999999998" height="62.7" fill="#fff" stroke="#151515" stroke-width="1.8"/>
<text x="465.0" y="51.9" font-size="44">0~5 y</text>
<rect x="143.6" y="358.5" width="167.9" height="62.80000000000001" fill="#fff" stroke="#151515" stroke-width="1.8"/>
<text x="153.9" y="398.6" font-size="44">25~30 y</text>
<rect x="143.6" y="698.7" width="167.70000000000002" height="62.5" fill="#fff" stroke="#151515" stroke-width="1.8"/>
<text x="154.9" y="739.6" font-size="44">40~45 y</text>
<rect x="412.4" y="1037.9" width="167.20000000000005" height="61.899999999999864" fill="#fff" stroke="#151515" stroke-width="1.8"/>
<text x="423.5" y="1078.4" font-size="44">65~70 y</text>
<text x="209.5" y="304.0" font-size="40">1</text>
<text x="238.5" y="208.2" font-size="40">2</text>
<text x="283.4" y="188.4" font-size="40">3</text>
<text x="322.8" y="262.0" font-size="40">4</text>
<text x="357.1" y="272.1" font-size="40">5</text>
<text x="384" y="119" font-size="44" font-style="italic" fill="#1f8a1f" style="fill:#1f8a1f">α</text>
<text x="428" y="146.3" font-size="44" font-style="italic" style="fill:#1f8a1f">d</text>
<text x="242.9" y="1403.7" font-size="40" text-anchor="middle">1550</text>
<text x="387.6" y="1403.7" font-size="40" text-anchor="middle">1650</text>
<text x="531.4" y="1403.7" font-size="40" text-anchor="middle">1750</text>
<text x="186" y="1449.5" font-size="44">Wavenumber (cm<tspan font-size="29" dy="-14.5">-1</tspan><tspan dy="14.5">)</tspan></text>
<text transform="translate(34.4,926.7) rotate(-90)" font-size="44.3">Normalized Raman intensity</text>
</svg></body></html>
